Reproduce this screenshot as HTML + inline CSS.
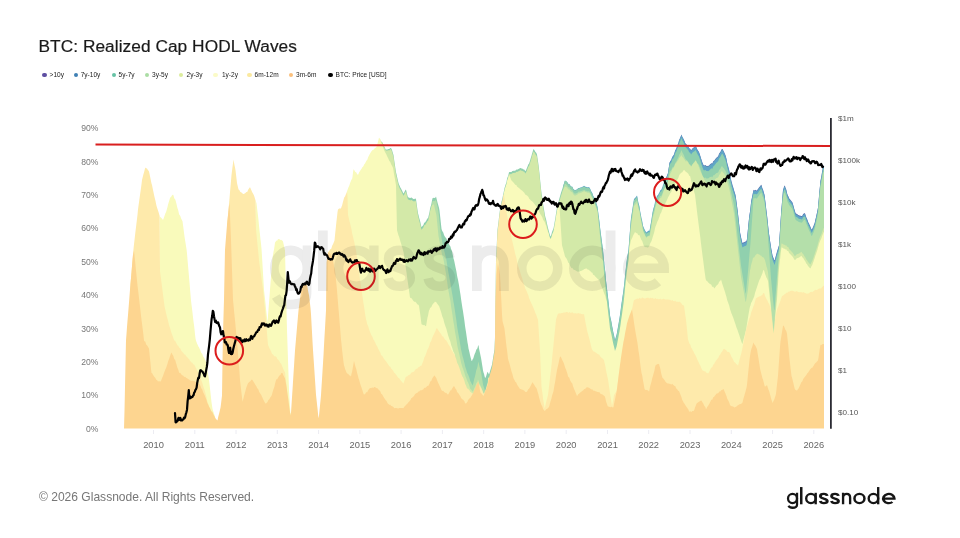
<!DOCTYPE html>
<html><head><meta charset="utf-8">
<style>
html,body{margin:0;padding:0;background:#fff;}
body{width:960px;height:538px;position:relative;overflow:hidden;font-family:"Liberation Sans",sans-serif;}
.t{position:absolute;white-space:nowrap;line-height:1;}
#title{left:38.5px;top:37.5px;font-size:17.3px;color:#1a1a1a;letter-spacing:0.05px;-webkit-text-stroke:0.2px #1a1a1a;}
.lg{font-size:6.55px;color:#222;top:71.8px;}
.dot{position:absolute;width:4.6px;height:4.6px;border-radius:50%;top:72.6px;margin-left:-0.3px;}
.yl{font-size:8.6px;margin-top:0.5px;color:#777;width:30px;text-align:right;left:68.5px;}
.yr{font-size:8.1px;margin-top:1.4px;color:#555;left:838px;}
.xl{font-size:9.3px;color:#666;width:40px;text-align:center;top:441.1px;}
#foot{left:39px;top:490.6px;font-size:12.05px;color:#777;letter-spacing:0px;}
#logo{left:786px;top:484.3px;font-size:20.8px;color:#1a1a1a;letter-spacing:0px;-webkit-text-stroke:0.3px #1a1a1a;transform:scaleX(1.16);transform-origin:0 0;}
#wm{left:264px;top:215px;font-size:86px;color:#222;opacity:0.13;letter-spacing:2.2px;-webkit-text-stroke:1px #222;}
svg{position:absolute;left:0;top:0;filter:blur(0.45px);}
.t{filter:blur(0.25px);}
</style></head><body>
<div id="title" class="t">BTC: Realized Cap HODL Waves</div>
<div class="dot" style="left:42.6px;background:#5e4fa2"></div><div class="t lg" style="left:49.6px">&gt;10y</div>
<div class="dot" style="left:74.0px;background:#3f80b4"></div><div class="t lg" style="left:80.7px">7y-10y</div>
<div class="dot" style="left:112.0px;background:#66c2a5"></div><div class="t lg" style="left:118.6px">5y-7y</div>
<div class="dot" style="left:145.2px;background:#abdda4"></div><div class="t lg" style="left:152.0px">3y-5y</div>
<div class="dot" style="left:179.0px;background:#dcec9c"></div><div class="t lg" style="left:186.5px">2y-3y</div>
<div class="dot" style="left:213.3px;background:#fbfbc8"></div><div class="t lg" style="left:221.9px">1y-2y</div>
<div class="dot" style="left:247.6px;background:#fbe9a0"></div><div class="t lg" style="left:254.6px">6m-12m</div>
<div class="dot" style="left:288.8px;background:#fbc07c"></div><div class="t lg" style="left:296.0px">3m-6m</div>
<div class="dot" style="left:328.6px;background:#000"></div><div class="t lg" style="left:335.6px">BTC: Price [USD]</div>

<div class="t yl" style="top:424.1px">0%</div>
<div class="t yl" style="top:390.7px">10%</div>
<div class="t yl" style="top:357.3px">20%</div>
<div class="t yl" style="top:324.0px">30%</div>
<div class="t yl" style="top:290.6px">40%</div>
<div class="t yl" style="top:257.2px">50%</div>
<div class="t yl" style="top:223.8px">60%</div>
<div class="t yl" style="top:190.4px">70%</div>
<div class="t yl" style="top:157.1px">80%</div>
<div class="t yl" style="top:123.7px">90%</div>
<div class="t yr" style="top:114.1px">$1m</div>
<div class="t yr" style="top:156.0px">$100k</div>
<div class="t yr" style="top:198.0px">$10k</div>
<div class="t yr" style="top:239.9px">$1k</div>
<div class="t yr" style="top:281.8px">$100</div>
<div class="t yr" style="top:323.8px">$10</div>
<div class="t yr" style="top:365.7px">$1</div>
<div class="t yr" style="top:407.6px">$0.10</div>
<div class="t xl" style="left:133.5px">2010</div>
<div class="t xl" style="left:174.8px">2011</div>
<div class="t xl" style="left:216.0px">2012</div>
<div class="t xl" style="left:257.3px">2013</div>
<div class="t xl" style="left:298.6px">2014</div>
<div class="t xl" style="left:339.9px">2015</div>
<div class="t xl" style="left:381.1px">2016</div>
<div class="t xl" style="left:422.4px">2017</div>
<div class="t xl" style="left:463.7px">2018</div>
<div class="t xl" style="left:504.9px">2019</div>
<div class="t xl" style="left:546.2px">2020</div>
<div class="t xl" style="left:587.5px">2021</div>
<div class="t xl" style="left:628.7px">2022</div>
<div class="t xl" style="left:670.0px">2023</div>
<div class="t xl" style="left:711.3px">2024</div>
<div class="t xl" style="left:752.6px">2025</div>
<div class="t xl" style="left:793.8px">2026</div>

<svg width="960" height="538" viewBox="0 0 960 538">
<path d="M124.0,427.4L124.0,427.4L124.5,427.4L125.0,427.4L125.5,427.4L126.0,427.4L126.5,427.4L127.0,427.4L127.5,427.4L128.0,427.4L128.5,427.4L129.0,427.4L129.5,427.4L130.0,427.4L130.5,427.4L131.0,427.4L131.5,427.4L132.0,427.4L132.5,427.4L133.0,427.4L133.5,427.4L134.0,427.4L134.5,427.4L135.0,427.4L135.5,427.4L136.0,427.4L136.5,427.4L137.0,427.4L137.5,427.4L138.0,427.4L138.5,427.4L139.0,427.4L139.5,427.4L140.0,427.4L140.5,427.4L141.0,427.4L141.5,427.4L142.0,427.4L142.5,427.4L143.0,427.4L143.5,427.4L144.0,427.4L144.5,427.4L145.0,427.4L145.5,427.4L146.0,427.4L146.5,427.4L147.0,427.4L147.5,427.4L148.0,427.4L148.5,427.4L149.0,427.4L149.5,427.4L150.0,427.4L150.5,427.4L151.0,427.4L151.5,427.4L152.0,427.4L152.5,427.4L153.0,427.4L153.5,427.4L154.0,427.4L154.5,427.4L155.0,427.4L155.5,427.4L156.0,427.4L156.5,427.4L157.0,427.4L157.5,427.4L158.0,427.4L158.5,427.4L159.0,427.4L159.5,427.4L160.0,427.4L160.5,427.4L161.0,427.4L161.5,427.4L162.0,427.4L162.5,427.4L163.0,427.4L163.5,427.4L164.0,427.4L164.5,427.4L165.0,427.4L165.5,427.4L166.0,427.4L166.5,427.4L167.0,427.4L167.5,427.4L168.0,427.4L168.5,427.4L169.0,427.4L169.5,427.4L170.0,427.4L170.5,427.4L171.0,427.4L171.5,427.4L172.0,427.4L172.5,427.4L173.0,427.4L173.5,427.4L174.0,427.4L174.5,427.4L175.0,427.4L175.5,427.4L176.0,427.4L176.5,427.4L177.0,427.4L177.5,427.4L178.0,427.4L178.5,427.4L179.0,427.4L179.5,427.4L180.0,427.4L180.5,427.4L181.0,427.4L181.5,427.4L182.0,427.4L182.5,427.4L183.0,427.4L183.5,427.4L184.0,427.4L184.5,427.4L185.0,427.4L185.5,427.4L186.0,427.4L186.5,427.4L187.0,427.4L187.5,427.4L188.0,427.4L188.5,427.4L189.0,427.4L189.5,427.4L190.0,427.4L190.5,427.4L191.0,427.4L191.5,427.4L192.0,427.4L192.5,427.4L193.0,427.4L193.5,427.4L194.0,427.4L194.5,427.4L195.0,427.4L195.5,427.4L196.0,427.4L196.5,427.4L197.0,427.4L197.5,427.4L198.0,427.4L198.5,427.4L199.0,427.4L199.5,427.4L200.0,427.4L200.5,427.4L201.0,427.4L201.5,427.4L202.0,427.4L202.5,427.4L203.0,427.4L203.5,427.4L204.0,427.4L204.5,427.4L205.0,427.4L205.5,427.4L206.0,427.4L206.5,427.4L207.0,427.4L207.5,427.4L208.0,427.4L208.5,427.4L209.0,427.4L209.5,427.4L210.0,427.4L210.5,427.4L211.0,427.4L211.5,427.4L212.0,427.4L212.5,427.4L213.0,427.4L213.5,427.4L214.0,427.4L214.5,427.4L215.0,427.4L215.5,427.4L216.0,427.4L216.5,427.4L217.0,427.4L217.5,427.4L218.0,427.4L218.5,427.4L219.0,427.4L219.5,427.4L220.0,427.4L220.5,427.4L221.0,427.4L221.5,427.4L222.0,427.4L222.5,427.4L223.0,427.4L223.5,427.4L224.0,427.4L224.5,427.4L225.0,427.4L225.5,427.4L226.0,427.4L226.5,427.4L227.0,427.4L227.5,427.4L228.0,427.4L228.5,427.4L229.0,427.4L229.5,427.4L230.0,427.4L230.5,427.4L231.0,427.4L231.5,427.4L232.0,427.4L232.5,427.4L233.0,427.4L233.5,427.4L234.0,427.4L234.5,427.4L235.0,427.4L235.5,427.4L236.0,427.4L236.5,427.4L237.0,427.4L237.5,427.4L238.0,427.4L238.5,427.4L239.0,427.4L239.5,427.4L240.0,427.4L240.5,427.4L241.0,427.4L241.5,427.4L242.0,427.4L242.5,427.4L243.0,427.4L243.5,427.4L244.0,427.4L244.5,427.4L245.0,427.4L245.5,427.4L246.0,427.4L246.5,427.4L247.0,427.4L247.5,427.4L248.0,427.4L248.5,427.4L249.0,427.4L249.5,427.4L250.0,427.4L250.5,427.4L251.0,427.4L251.5,427.4L252.0,427.4L252.5,427.4L253.0,427.4L253.5,427.4L254.0,427.4L254.5,427.4L255.0,427.4L255.5,427.4L256.0,427.4L256.5,427.4L257.0,427.4L257.5,427.4L258.0,427.4L258.5,427.4L259.0,427.4L259.5,427.4L260.0,427.4L260.5,427.4L261.0,427.4L261.5,427.4L262.0,427.4L262.5,427.4L263.0,427.4L263.5,427.4L264.0,427.4L264.5,427.4L265.0,427.4L265.5,427.4L266.0,427.4L266.5,427.4L267.0,427.4L267.5,427.4L268.0,427.4L268.5,427.4L269.0,427.4L269.5,427.4L270.0,427.4L270.5,427.4L271.0,427.4L271.5,427.4L272.0,427.4L272.5,427.4L273.0,427.4L273.5,427.4L274.0,427.4L274.5,427.4L275.0,427.4L275.5,427.4L276.0,427.4L276.5,427.4L277.0,427.4L277.5,427.4L278.0,427.4L278.5,427.4L279.0,427.4L279.5,427.4L280.0,427.4L280.5,427.4L281.0,427.4L281.5,427.4L282.0,427.4L282.5,427.4L283.0,427.4L283.5,427.4L284.0,427.4L284.5,427.4L285.0,427.4L285.5,427.4L286.0,427.4L286.5,427.4L287.0,427.4L287.5,427.4L288.0,427.4L288.5,427.4L289.0,427.4L289.5,427.4L290.0,427.4L290.5,427.4L291.0,427.4L291.5,427.4L292.0,427.4L292.5,427.4L293.0,427.4L293.5,427.4L294.0,427.4L294.5,427.4L295.0,427.4L295.5,427.4L296.0,427.4L296.5,427.4L297.0,427.4L297.5,427.4L298.0,427.4L298.5,427.4L299.0,427.4L299.5,427.4L300.0,427.4L300.5,427.4L301.0,427.4L301.5,427.4L302.0,427.4L302.5,427.4L303.0,427.4L303.5,427.4L304.0,427.4L304.5,427.4L305.0,427.4L305.5,427.4L306.0,427.4L306.5,427.4L307.0,427.4L307.5,427.4L308.0,427.4L308.5,427.4L309.0,427.4L309.5,427.4L310.0,427.4L310.5,427.4L311.0,427.4L311.5,427.4L312.0,427.4L312.5,427.4L313.0,427.4L313.5,427.4L314.0,427.4L314.5,427.4L315.0,427.4L315.5,427.4L316.0,427.4L316.5,427.4L317.0,427.4L317.5,427.4L318.0,427.4L318.5,427.4L319.0,427.4L319.5,427.4L320.0,427.4L320.5,427.4L321.0,427.4L321.5,427.4L322.0,427.4L322.5,427.4L323.0,427.4L323.5,427.4L324.0,427.4L324.5,427.4L325.0,427.4L325.5,427.4L326.0,427.4L326.5,427.4L327.0,427.4L327.5,427.4L328.0,427.4L328.5,427.4L329.0,427.4L329.5,427.4L330.0,427.4L330.5,427.4L331.0,427.4L331.5,427.4L332.0,427.4L332.5,427.4L333.0,427.4L333.5,427.4L334.0,427.4L334.5,427.4L335.0,427.4L335.5,427.4L336.0,427.4L336.5,427.4L337.0,427.4L337.5,427.4L338.0,427.4L338.5,427.4L339.0,427.4L339.5,427.4L340.0,427.4L340.5,427.4L341.0,427.4L341.5,427.4L342.0,427.4L342.5,427.4L343.0,427.4L343.5,427.4L344.0,427.4L344.5,427.4L345.0,427.4L345.5,427.4L346.0,427.4L346.5,427.4L347.0,427.4L347.5,427.4L348.0,427.4L348.5,427.4L349.0,427.4L349.5,427.4L350.0,427.4L350.5,427.4L351.0,427.4L351.5,427.4L352.0,427.4L352.5,427.4L353.0,427.4L353.5,427.4L354.0,427.4L354.5,427.4L355.0,427.4L355.5,427.4L356.0,427.4L356.5,427.4L357.0,427.4L357.5,427.4L358.0,427.4L358.5,427.4L359.0,427.4L359.5,427.4L360.0,427.4L360.5,427.4L361.0,427.4L361.5,427.4L362.0,427.4L362.5,427.4L363.0,427.4L363.5,427.4L364.0,427.4L364.5,427.4L365.0,427.4L365.5,427.4L366.0,427.4L366.5,427.4L367.0,427.4L367.5,427.4L368.0,427.4L368.5,427.4L369.0,427.4L369.5,427.4L370.0,427.4L370.5,427.4L371.0,427.4L371.5,427.4L372.0,427.4L372.5,427.4L373.0,427.4L373.5,427.4L374.0,427.4L374.5,427.4L375.0,427.4L375.5,427.4L376.0,427.4L376.5,427.4L377.0,427.4L377.5,427.4L378.0,427.4L378.5,427.4L379.0,427.4L379.5,427.4L380.0,427.4L380.5,427.4L381.0,427.4L381.5,427.4L382.0,427.4L382.5,427.4L383.0,427.4L383.5,427.4L384.0,427.4L384.5,427.4L385.0,427.4L385.5,427.4L386.0,427.4L386.5,427.4L387.0,427.4L387.5,427.4L388.0,427.4L388.5,427.4L389.0,427.4L389.5,427.4L390.0,427.4L390.5,427.4L391.0,427.4L391.5,427.4L392.0,427.4L392.5,427.4L393.0,427.4L393.5,427.4L394.0,427.4L394.5,427.4L395.0,427.4L395.5,427.4L396.0,427.4L396.5,427.4L397.0,427.4L397.5,427.4L398.0,427.4L398.5,427.4L399.0,427.4L399.5,427.4L400.0,427.4L400.5,427.4L401.0,427.4L401.5,427.4L402.0,427.4L402.5,427.4L403.0,427.4L403.5,427.4L404.0,427.4L404.5,427.4L405.0,427.4L405.5,427.4L406.0,427.4L406.5,427.4L407.0,427.4L407.5,427.4L408.0,427.4L408.5,427.4L409.0,427.4L409.5,427.4L410.0,427.4L410.5,427.4L411.0,427.4L411.5,427.4L412.0,427.4L412.5,427.4L413.0,427.4L413.5,427.4L414.0,427.4L414.5,427.4L415.0,427.4L415.5,427.4L416.0,427.4L416.5,427.4L417.0,427.4L417.5,427.4L418.0,427.4L418.5,427.4L419.0,427.4L419.5,427.4L420.0,427.4L420.5,427.4L421.0,427.4L421.5,427.4L422.0,427.4L422.5,427.4L423.0,427.4L423.5,427.4L424.0,427.4L424.5,427.4L425.0,427.4L425.5,427.4L426.0,427.4L426.5,427.4L427.0,427.4L427.5,427.4L428.0,427.4L428.5,427.4L429.0,427.4L429.5,427.4L430.0,427.4L430.5,427.4L431.0,427.4L431.5,427.4L432.0,427.4L432.5,427.4L433.0,427.4L433.5,427.4L434.0,427.4L434.5,427.4L435.0,427.4L435.5,427.4L436.0,427.4L436.5,427.4L437.0,427.4L437.5,427.4L438.0,427.4L438.5,427.4L439.0,427.4L439.5,427.4L440.0,427.4L440.5,427.4L441.0,427.4L441.5,427.4L442.0,427.4L442.5,427.4L443.0,427.4L443.5,427.4L444.0,427.4L444.5,427.4L445.0,427.4L445.5,427.4L446.0,427.4L446.5,427.4L447.0,427.4L447.5,427.4L448.0,427.4L448.5,427.4L449.0,427.4L449.5,427.4L450.0,427.4L450.5,427.4L451.0,427.4L451.5,427.4L452.0,427.4L452.5,427.4L453.0,427.4L453.5,427.4L454.0,427.4L454.5,427.4L455.0,427.4L455.5,427.4L456.0,427.4L456.5,427.4L457.0,427.4L457.5,427.4L458.0,427.4L458.5,427.4L459.0,427.4L459.5,427.4L460.0,427.4L460.5,427.4L461.0,427.4L461.5,427.4L462.0,427.4L462.5,427.4L463.0,427.4L463.5,427.4L464.0,427.4L464.5,427.4L465.0,427.4L465.5,427.4L466.0,427.4L466.5,427.4L467.0,427.4L467.5,427.4L468.0,427.4L468.5,427.4L469.0,427.4L469.5,427.4L470.0,427.4L470.5,427.4L471.0,427.4L471.5,427.4L472.0,427.4L472.5,427.4L473.0,427.4L473.5,427.4L474.0,427.4L474.5,427.4L475.0,427.4L475.5,427.4L476.0,427.4L476.5,427.4L477.0,427.4L477.5,427.4L478.0,427.4L478.5,427.4L479.0,427.4L479.5,427.4L480.0,427.4L480.5,427.4L481.0,427.4L481.5,427.4L482.0,427.4L482.5,427.4L483.0,427.4L483.5,427.4L484.0,427.4L484.5,427.4L485.0,427.4L485.5,427.4L486.0,427.4L486.5,427.4L487.0,427.4L487.5,427.4L488.0,427.4L488.5,427.4L489.0,427.4L489.5,427.4L490.0,427.4L490.5,427.4L491.0,427.4L491.5,427.4L492.0,427.4L492.5,427.4L493.0,427.4L493.5,427.4L494.0,427.4L494.5,427.4L495.0,427.4L495.5,427.4L496.0,427.4L496.5,427.4L497.0,427.4L497.5,427.4L498.0,427.4L498.5,427.4L499.0,427.4L499.5,427.4L500.0,427.4L500.5,427.4L501.0,427.4L501.5,427.4L502.0,427.4L502.5,427.4L503.0,427.4L503.5,427.4L504.0,427.4L504.5,427.4L505.0,427.4L505.5,427.4L506.0,427.4L506.5,427.4L507.0,427.4L507.5,427.4L508.0,427.4L508.5,427.4L509.0,427.4L509.5,427.4L510.0,427.4L510.5,427.4L511.0,427.4L511.5,427.4L512.0,427.4L512.5,427.4L513.0,427.4L513.5,427.4L514.0,427.4L514.5,427.4L515.0,427.4L515.5,427.4L516.0,427.4L516.5,427.4L517.0,427.4L517.5,427.4L518.0,427.4L518.5,427.4L519.0,427.4L519.5,427.4L520.0,427.4L520.5,427.4L521.0,427.4L521.5,427.4L522.0,427.4L522.5,427.4L523.0,427.4L523.5,427.4L524.0,427.4L524.5,427.4L525.0,427.4L525.5,427.4L526.0,427.4L526.5,427.4L527.0,427.4L527.5,427.4L528.0,427.4L528.5,427.4L529.0,427.4L529.5,427.4L530.0,427.4L530.5,427.4L531.0,427.4L531.5,427.4L532.0,427.4L532.5,427.4L533.0,427.4L533.5,427.4L534.0,427.4L534.5,427.4L535.0,427.4L535.5,427.4L536.0,427.4L536.5,427.4L537.0,427.4L537.5,427.4L538.0,427.4L538.5,427.4L539.0,427.4L539.5,427.4L540.0,427.4L540.5,427.4L541.0,427.4L541.5,427.4L542.0,427.4L542.5,427.4L543.0,427.4L543.5,427.4L544.0,427.4L544.5,427.4L545.0,427.4L545.5,427.4L546.0,427.4L546.5,427.4L547.0,427.4L547.5,427.4L548.0,427.4L548.5,427.4L549.0,427.4L549.5,427.4L550.0,427.4L550.5,427.4L551.0,427.4L551.5,427.4L552.0,427.4L552.5,427.4L553.0,427.4L553.5,427.4L554.0,427.4L554.5,427.4L555.0,427.4L555.5,427.4L556.0,427.4L556.5,427.4L557.0,427.4L557.5,427.4L558.0,427.4L558.5,427.4L559.0,427.4L559.5,427.4L560.0,427.4L560.5,427.4L561.0,427.4L561.5,427.4L562.0,427.4L562.5,427.4L563.0,427.4L563.5,427.4L564.0,427.4L564.5,427.4L565.0,427.4L565.5,427.4L566.0,427.4L566.5,427.4L567.0,427.4L567.5,427.4L568.0,427.4L568.5,427.4L569.0,427.4L569.5,427.4L570.0,427.4L570.5,427.4L571.0,427.4L571.5,427.4L572.0,427.4L572.5,427.4L573.0,427.4L573.5,427.4L574.0,427.4L574.5,427.4L575.0,427.4L575.5,427.4L576.0,427.4L576.5,427.4L577.0,427.4L577.5,427.4L578.0,427.4L578.5,427.4L579.0,427.4L579.5,427.4L580.0,427.4L580.5,427.4L581.0,427.4L581.5,427.4L582.0,427.4L582.5,427.4L583.0,427.4L583.5,427.4L584.0,427.4L584.5,427.4L585.0,427.4L585.5,427.4L586.0,427.4L586.5,427.4L587.0,427.4L587.5,427.4L588.0,427.4L588.5,427.4L589.0,427.4L589.5,427.4L590.0,427.4L590.5,427.4L591.0,427.4L591.5,427.4L592.0,427.4L592.5,427.4L593.0,427.4L593.5,427.4L594.0,427.4L594.5,427.4L595.0,427.4L595.5,427.4L596.0,427.4L596.5,427.4L597.0,427.4L597.5,427.4L598.0,427.4L598.5,427.4L599.0,427.4L599.5,427.4L600.0,427.4L600.5,427.4L601.0,427.4L601.5,427.4L602.0,427.4L602.5,427.4L603.0,427.4L603.5,427.4L604.0,427.4L604.5,427.4L605.0,427.4L605.5,427.4L606.0,427.4L606.5,427.4L607.0,427.4L607.5,427.4L608.0,427.4L608.5,427.4L609.0,427.4L609.5,427.4L610.0,427.4L610.5,427.4L611.0,427.4L611.5,427.4L612.0,427.4L612.5,427.4L613.0,427.4L613.5,427.4L614.0,427.4L614.5,427.4L615.0,427.4L615.5,427.4L616.0,427.4L616.5,427.4L617.0,427.4L617.5,427.4L618.0,427.4L618.5,427.4L619.0,427.4L619.5,427.4L620.0,427.4L620.5,427.4L621.0,427.4L621.5,427.4L622.0,427.4L622.5,427.4L623.0,427.4L623.5,427.4L624.0,427.4L624.5,427.4L625.0,427.4L625.5,427.4L626.0,427.4L626.5,427.4L627.0,427.4L627.5,427.4L628.0,427.4L628.5,427.4L629.0,427.4L629.5,427.4L630.0,427.4L630.5,427.4L631.0,427.4L631.5,427.4L632.0,427.4L632.5,427.4L633.0,427.4L633.5,427.4L634.0,427.4L634.5,427.4L635.0,427.4L635.5,427.4L636.0,427.4L636.5,427.4L637.0,427.4L637.5,427.4L638.0,427.4L638.5,427.4L639.0,427.4L639.5,427.4L640.0,427.4L640.5,427.4L641.0,427.4L641.5,427.4L642.0,427.4L642.5,427.4L643.0,427.4L643.5,427.4L644.0,427.4L644.5,427.4L645.0,427.4L645.5,427.4L646.0,427.4L646.5,427.4L647.0,427.4L647.5,427.4L648.0,427.4L648.5,427.4L649.0,427.4L649.5,427.4L650.0,427.4L650.5,427.4L651.0,427.4L651.5,427.4L652.0,427.4L652.5,427.4L653.0,427.4L653.5,427.4L654.0,427.4L654.5,427.4L655.0,427.4L655.5,427.4L656.0,427.4L656.5,427.4L657.0,427.4L657.5,427.4L658.0,427.4L658.5,427.4L659.0,427.4L659.5,427.4L660.0,427.4L660.5,427.4L661.0,427.4L661.5,427.4L662.0,427.4L662.5,427.4L663.0,427.4L663.5,427.4L664.0,427.4L664.5,181.2L665.0,180.5L665.5,179.3L666.0,178.1L666.5,176.9L667.0,175.6L667.5,174.4L668.0,173.1L668.5,169.6L669.0,166.3L669.5,162.8L670.0,161.8L670.5,160.8L671.0,160.4L671.5,159.4L672.0,157.5L672.5,156.5L673.0,156.3L673.5,155.3L674.0,154.4L674.5,153.1L675.0,151.0L675.5,149.7L676.0,149.3L676.5,148.0L677.0,146.4L677.5,145.1L678.0,143.9L678.5,142.6L679.0,140.6L679.5,139.3L680.0,138.2L680.5,137.0L681.0,135.8L681.5,134.6L682.0,136.0L682.5,137.2L683.0,137.9L683.5,139.0L684.0,140.0L684.5,141.1L685.0,142.4L685.5,143.4L686.0,143.9L686.5,144.4L687.0,144.8L687.5,145.4L688.0,146.0L688.5,146.6L689.0,148.0L689.5,148.6L690.0,148.6L690.5,149.2L691.0,150.5L691.5,150.0L692.0,148.9L692.5,148.4L693.0,148.0L693.5,147.6L694.0,147.4L694.5,147.0L695.0,146.2L695.5,145.7L696.0,146.5L696.5,147.4L697.0,148.8L697.5,149.7L698.0,150.4L698.5,151.3L699.0,152.0L699.5,153.6L700.0,154.9L700.5,156.4L701.0,158.2L701.5,159.7L702.0,161.3L702.5,162.8L703.0,163.8L703.5,165.1L704.0,165.4L704.5,165.5L705.0,164.9L705.5,165.0L706.0,165.8L706.5,166.0L707.0,165.8L707.5,165.9L708.0,166.1L708.5,165.8L709.0,165.4L709.5,165.0L710.0,164.3L710.5,164.0L711.0,163.4L711.5,163.0L712.0,163.7L712.5,163.2L713.0,161.7L713.5,161.1L714.0,160.8L714.5,160.2L715.0,159.5L715.5,158.8L716.0,158.2L716.5,157.5L717.0,157.4L717.5,156.8L718.0,156.4L718.5,155.5L719.0,153.8L719.5,153.0L720.0,152.5L720.5,151.7L721.0,150.4L721.5,149.6L722.0,149.0L722.5,148.9L723.0,149.8L723.5,151.0L724.0,151.8L724.5,153.0L725.0,154.1L725.5,155.2L726.0,156.9L726.5,159.0L727.0,161.8L727.5,163.9L728.0,165.5L728.5,167.5L729.0,169.3L729.5,171.6L730.0,174.6L730.5,176.8L731.0,179.2L731.5,181.5L732.0,183.1L732.5,185.3L733.0,186.6L733.5,188.3L734.0,190.0L734.5,191.7L735.0,193.2L735.5,194.9L736.0,198.2L736.5,202.1L737.0,205.7L737.5,209.6L738.0,213.7L738.5,218.2L739.0,222.7L739.5,227.2L740.0,232.1L740.5,234.4L741.0,237.0L741.5,239.3L742.0,241.4L742.5,243.2L743.0,242.6L743.5,242.4L744.0,242.2L744.5,242.0L745.0,241.8L745.5,241.6L746.0,241.2L746.5,241.0L747.0,238.8L747.5,233.7L748.0,228.3L748.5,223.2L749.0,218.4L749.5,214.5L750.0,211.4L750.5,207.5L751.0,202.7L751.5,199.4L752.0,197.2L752.5,194.7L753.0,192.3L753.5,189.7L754.0,190.2L754.5,190.4L755.0,189.8L755.5,190.0L756.0,190.2L756.5,190.4L757.0,190.4L757.5,189.6L758.0,189.0L758.5,188.2L759.0,187.5L759.5,186.7L760.0,186.5L760.5,185.7L761.0,184.8L761.5,185.1L762.0,186.9L762.5,188.6L763.0,189.5L763.5,191.2L764.0,193.0L764.5,194.8L765.0,198.7L765.5,202.8L766.0,207.1L766.5,211.2L767.0,214.9L767.5,219.7L768.0,224.6L768.5,229.3L769.0,233.5L769.5,236.7L770.0,240.4L770.5,243.6L771.0,247.1L771.5,249.9L772.0,252.6L772.5,255.4L773.0,256.7L773.5,257.9L774.0,259.3L774.5,260.6L775.0,259.2L775.5,257.3L776.0,255.3L776.5,253.4L777.0,251.6L777.5,249.9L778.0,248.5L778.5,246.8L779.0,245.2L779.5,237.5L780.0,230.0L780.5,222.2L781.0,214.2L781.5,208.1L782.0,202.0L782.5,195.9L783.0,189.9L783.5,188.5L784.0,186.8L784.5,185.5L785.0,186.1L785.5,187.7L786.0,188.8L786.5,190.5L787.0,193.0L787.5,194.6L788.0,195.7L788.5,196.5L789.0,198.0L789.5,198.8L790.0,199.3L790.5,200.0L791.0,200.5L791.5,201.2L792.0,201.8L792.5,202.6L793.0,204.3L793.5,206.0L794.0,208.0L794.5,209.6L795.0,211.3L795.5,212.9L796.0,213.6L796.5,213.8L797.0,214.0L797.5,214.2L798.0,214.9L798.5,215.1L799.0,215.4L799.5,215.6L800.0,215.6L800.5,215.8L801.0,215.9L801.5,216.1L802.0,216.0L802.5,215.5L803.0,214.3L803.5,213.8L804.0,213.6L804.5,213.1L805.0,213.5L805.5,214.7L806.0,216.5L806.5,217.8L807.0,218.7L807.5,219.9L808.0,221.4L808.5,222.7L809.0,223.5L809.5,224.7L810.0,225.7L810.5,227.0L811.0,228.3L811.5,229.5L812.0,229.3L812.5,228.2L813.0,226.9L813.5,225.9L814.0,224.4L814.5,223.4L815.0,221.5L815.5,219.1L816.0,217.2L816.5,214.8L817.0,212.5L817.5,210.1L818.0,207.4L818.5,201.8L819.0,196.1L819.5,190.5L820.0,185.4L820.5,180.4L821.0,178.1L821.5,175.6L822.0,172.3L822.5,169.8L823.0,167.0L823.5,165.5L824.0,165.8L824.0,427.4Z" fill="#5b6fb0"/>
<path d="M124.0,427.4L124.0,427.4L124.5,427.4L125.0,427.4L125.5,427.4L126.0,427.4L126.5,427.4L127.0,427.4L127.5,427.4L128.0,427.4L128.5,427.4L129.0,427.4L129.5,427.4L130.0,427.4L130.5,427.4L131.0,427.4L131.5,427.4L132.0,427.4L132.5,427.4L133.0,427.4L133.5,427.4L134.0,427.4L134.5,427.4L135.0,427.4L135.5,427.4L136.0,427.4L136.5,427.4L137.0,427.4L137.5,427.4L138.0,427.4L138.5,427.4L139.0,427.4L139.5,427.4L140.0,427.4L140.5,427.4L141.0,427.4L141.5,427.4L142.0,427.4L142.5,427.4L143.0,427.4L143.5,427.4L144.0,427.4L144.5,427.4L145.0,427.4L145.5,427.4L146.0,427.4L146.5,427.4L147.0,427.4L147.5,427.4L148.0,427.4L148.5,427.4L149.0,427.4L149.5,427.4L150.0,427.4L150.5,427.4L151.0,427.4L151.5,427.4L152.0,427.4L152.5,427.4L153.0,427.4L153.5,427.4L154.0,427.4L154.5,427.4L155.0,427.4L155.5,427.4L156.0,427.4L156.5,427.4L157.0,427.4L157.5,427.4L158.0,427.4L158.5,427.4L159.0,427.4L159.5,427.4L160.0,427.4L160.5,427.4L161.0,427.4L161.5,427.4L162.0,427.4L162.5,427.4L163.0,427.4L163.5,427.4L164.0,427.4L164.5,427.4L165.0,427.4L165.5,427.4L166.0,427.4L166.5,427.4L167.0,427.4L167.5,427.4L168.0,427.4L168.5,427.4L169.0,427.4L169.5,427.4L170.0,427.4L170.5,427.4L171.0,427.4L171.5,427.4L172.0,427.4L172.5,427.4L173.0,427.4L173.5,427.4L174.0,427.4L174.5,427.4L175.0,427.4L175.5,427.4L176.0,427.4L176.5,427.4L177.0,427.4L177.5,427.4L178.0,427.4L178.5,427.4L179.0,427.4L179.5,427.4L180.0,427.4L180.5,427.4L181.0,427.4L181.5,427.4L182.0,427.4L182.5,427.4L183.0,427.4L183.5,427.4L184.0,427.4L184.5,427.4L185.0,427.4L185.5,427.4L186.0,427.4L186.5,427.4L187.0,427.4L187.5,427.4L188.0,427.4L188.5,427.4L189.0,427.4L189.5,427.4L190.0,427.4L190.5,427.4L191.0,427.4L191.5,427.4L192.0,427.4L192.5,427.4L193.0,427.4L193.5,427.4L194.0,427.4L194.5,427.4L195.0,427.4L195.5,427.4L196.0,427.4L196.5,427.4L197.0,427.4L197.5,427.4L198.0,427.4L198.5,427.4L199.0,427.4L199.5,427.4L200.0,427.4L200.5,427.4L201.0,427.4L201.5,427.4L202.0,427.4L202.5,427.4L203.0,427.4L203.5,427.4L204.0,427.4L204.5,427.4L205.0,427.4L205.5,427.4L206.0,427.4L206.5,427.4L207.0,427.4L207.5,427.4L208.0,427.4L208.5,427.4L209.0,427.4L209.5,427.4L210.0,427.4L210.5,427.4L211.0,427.4L211.5,427.4L212.0,427.4L212.5,427.4L213.0,427.4L213.5,427.4L214.0,427.4L214.5,427.4L215.0,427.4L215.5,427.4L216.0,427.4L216.5,427.4L217.0,427.4L217.5,427.4L218.0,427.4L218.5,427.4L219.0,427.4L219.5,427.4L220.0,427.4L220.5,427.4L221.0,427.4L221.5,427.4L222.0,427.4L222.5,427.4L223.0,427.4L223.5,427.4L224.0,427.4L224.5,427.4L225.0,427.4L225.5,427.4L226.0,427.4L226.5,427.4L227.0,427.4L227.5,427.4L228.0,427.4L228.5,427.4L229.0,427.4L229.5,427.4L230.0,427.4L230.5,427.4L231.0,427.4L231.5,427.4L232.0,427.4L232.5,427.4L233.0,427.4L233.5,427.4L234.0,427.4L234.5,427.4L235.0,427.4L235.5,427.4L236.0,427.4L236.5,427.4L237.0,427.4L237.5,427.4L238.0,427.4L238.5,427.4L239.0,427.4L239.5,427.4L240.0,427.4L240.5,427.4L241.0,427.4L241.5,427.4L242.0,427.4L242.5,427.4L243.0,427.4L243.5,427.4L244.0,427.4L244.5,427.4L245.0,427.4L245.5,427.4L246.0,427.4L246.5,427.4L247.0,427.4L247.5,427.4L248.0,427.4L248.5,427.4L249.0,427.4L249.5,427.4L250.0,427.4L250.5,427.4L251.0,427.4L251.5,427.4L252.0,427.4L252.5,427.4L253.0,427.4L253.5,427.4L254.0,427.4L254.5,427.4L255.0,427.4L255.5,427.4L256.0,427.4L256.5,427.4L257.0,427.4L257.5,427.4L258.0,427.4L258.5,427.4L259.0,427.4L259.5,427.4L260.0,427.4L260.5,427.4L261.0,427.4L261.5,427.4L262.0,427.4L262.5,427.4L263.0,427.4L263.5,427.4L264.0,427.4L264.5,427.4L265.0,427.4L265.5,427.4L266.0,427.4L266.5,427.4L267.0,427.4L267.5,427.4L268.0,427.4L268.5,427.4L269.0,427.4L269.5,427.4L270.0,427.4L270.5,427.4L271.0,427.4L271.5,427.4L272.0,427.4L272.5,427.4L273.0,427.4L273.5,427.4L274.0,427.4L274.5,427.4L275.0,427.4L275.5,427.4L276.0,427.4L276.5,427.4L277.0,427.4L277.5,427.4L278.0,427.4L278.5,427.4L279.0,427.4L279.5,427.4L280.0,427.4L280.5,427.4L281.0,427.4L281.5,427.4L282.0,427.4L282.5,427.4L283.0,427.4L283.5,427.4L284.0,427.4L284.5,427.4L285.0,427.4L285.5,427.4L286.0,427.4L286.5,427.4L287.0,427.4L287.5,427.4L288.0,427.4L288.5,427.4L289.0,427.4L289.5,427.4L290.0,427.4L290.5,427.4L291.0,427.4L291.5,427.4L292.0,427.4L292.5,427.4L293.0,427.4L293.5,427.4L294.0,427.4L294.5,427.4L295.0,427.4L295.5,427.4L296.0,427.4L296.5,427.4L297.0,427.4L297.5,427.4L298.0,427.4L298.5,427.4L299.0,427.4L299.5,427.4L300.0,427.4L300.5,427.4L301.0,427.4L301.5,427.4L302.0,427.4L302.5,427.4L303.0,427.4L303.5,427.4L304.0,427.4L304.5,427.4L305.0,427.4L305.5,427.4L306.0,427.4L306.5,427.4L307.0,427.4L307.5,427.4L308.0,427.4L308.5,427.4L309.0,427.4L309.5,427.4L310.0,427.4L310.5,427.4L311.0,427.4L311.5,427.4L312.0,427.4L312.5,427.4L313.0,427.4L313.5,427.4L314.0,427.4L314.5,427.4L315.0,427.4L315.5,427.4L316.0,427.4L316.5,427.4L317.0,427.4L317.5,427.4L318.0,427.4L318.5,427.4L319.0,427.4L319.5,427.4L320.0,427.4L320.5,427.4L321.0,427.4L321.5,427.4L322.0,427.4L322.5,427.4L323.0,427.4L323.5,427.4L324.0,427.4L324.5,427.4L325.0,427.4L325.5,427.4L326.0,427.4L326.5,427.4L327.0,427.4L327.5,427.4L328.0,427.4L328.5,427.4L329.0,427.4L329.5,427.4L330.0,427.4L330.5,427.4L331.0,427.4L331.5,427.4L332.0,427.4L332.5,427.4L333.0,427.4L333.5,427.4L334.0,427.4L334.5,427.4L335.0,427.4L335.5,427.4L336.0,427.4L336.5,427.4L337.0,427.4L337.5,427.4L338.0,427.4L338.5,427.4L339.0,427.4L339.5,427.4L340.0,427.4L340.5,427.4L341.0,427.4L341.5,427.4L342.0,427.4L342.5,427.4L343.0,427.4L343.5,427.4L344.0,427.4L344.5,427.4L345.0,427.4L345.5,427.4L346.0,427.4L346.5,427.4L347.0,427.4L347.5,427.4L348.0,427.4L348.5,427.4L349.0,427.4L349.5,427.4L350.0,427.4L350.5,427.4L351.0,427.4L351.5,427.4L352.0,427.4L352.5,427.4L353.0,427.4L353.5,427.4L354.0,427.4L354.5,427.4L355.0,427.4L355.5,427.4L356.0,427.4L356.5,427.4L357.0,427.4L357.5,427.4L358.0,427.4L358.5,427.4L359.0,427.4L359.5,427.4L360.0,427.4L360.5,427.4L361.0,427.4L361.5,427.4L362.0,427.4L362.5,427.4L363.0,427.4L363.5,427.4L364.0,427.4L364.5,427.4L365.0,427.4L365.5,427.4L366.0,427.4L366.5,427.4L367.0,427.4L367.5,427.4L368.0,427.4L368.5,427.4L369.0,427.4L369.5,427.4L370.0,427.4L370.5,427.4L371.0,427.4L371.5,427.4L372.0,427.4L372.5,427.4L373.0,427.4L373.5,427.4L374.0,427.4L374.5,427.4L375.0,427.4L375.5,427.4L376.0,427.4L376.5,427.4L377.0,427.4L377.5,427.4L378.0,427.4L378.5,427.4L379.0,427.4L379.5,427.4L380.0,427.4L380.5,427.4L381.0,427.4L381.5,427.4L382.0,427.4L382.5,427.4L383.0,427.4L383.5,427.4L384.0,427.4L384.5,427.4L385.0,427.4L385.5,427.4L386.0,427.4L386.5,427.4L387.0,427.4L387.5,427.4L388.0,427.4L388.5,427.4L389.0,427.4L389.5,427.4L390.0,427.4L390.5,427.4L391.0,427.4L391.5,427.4L392.0,427.4L392.5,427.4L393.0,427.4L393.5,427.4L394.0,427.4L394.5,427.4L395.0,427.4L395.5,427.4L396.0,427.4L396.5,427.4L397.0,427.4L397.5,427.4L398.0,427.4L398.5,427.4L399.0,427.4L399.5,427.4L400.0,427.4L400.5,427.4L401.0,427.4L401.5,427.4L402.0,427.4L402.5,427.4L403.0,427.4L403.5,427.4L404.0,427.4L404.5,427.4L405.0,427.4L405.5,427.4L406.0,427.4L406.5,427.4L407.0,427.4L407.5,427.4L408.0,427.4L408.5,427.4L409.0,427.4L409.5,427.4L410.0,427.4L410.5,427.4L411.0,427.4L411.5,427.4L412.0,427.4L412.5,427.4L413.0,427.4L413.5,427.4L414.0,427.4L414.5,427.4L415.0,427.4L415.5,427.4L416.0,427.4L416.5,427.4L417.0,427.4L417.5,427.4L418.0,427.4L418.5,427.4L419.0,427.4L419.5,427.4L420.0,427.4L420.5,427.4L421.0,427.4L421.5,427.4L422.0,427.4L422.5,427.4L423.0,427.4L423.5,427.4L424.0,427.4L424.5,427.4L425.0,427.4L425.5,427.4L426.0,427.4L426.5,427.4L427.0,427.4L427.5,427.4L428.0,427.4L428.5,427.4L429.0,427.4L429.5,427.4L430.0,427.4L430.5,427.4L431.0,427.4L431.5,427.4L432.0,427.4L432.5,427.4L433.0,427.4L433.5,427.4L434.0,427.4L434.5,427.4L435.0,427.4L435.5,427.4L436.0,427.4L436.5,427.4L437.0,427.4L437.5,427.4L438.0,427.4L438.5,427.4L439.0,427.4L439.5,427.4L440.0,427.4L440.5,427.4L441.0,427.4L441.5,427.4L442.0,427.4L442.5,427.4L443.0,427.4L443.5,427.4L444.0,427.4L444.5,427.4L445.0,427.4L445.5,427.4L446.0,427.4L446.5,427.4L447.0,427.4L447.5,427.4L448.0,427.4L448.5,427.4L449.0,427.4L449.5,427.4L450.0,427.4L450.5,427.4L451.0,427.4L451.5,427.4L452.0,427.4L452.5,427.4L453.0,427.4L453.5,427.4L454.0,427.4L454.5,427.4L455.0,427.4L455.5,427.4L456.0,427.4L456.5,427.4L457.0,427.4L457.5,427.4L458.0,427.4L458.5,427.4L459.0,427.4L459.5,427.4L460.0,427.4L460.5,427.4L461.0,427.4L461.5,427.4L462.0,427.4L462.5,427.4L463.0,427.4L463.5,427.4L464.0,427.4L464.5,427.4L465.0,427.4L465.5,427.4L466.0,427.4L466.5,427.4L467.0,427.4L467.5,427.4L468.0,427.4L468.5,427.4L469.0,427.4L469.5,427.4L470.0,427.4L470.5,427.4L471.0,427.4L471.5,427.4L472.0,427.4L472.5,427.4L473.0,427.4L473.5,427.4L474.0,427.4L474.5,427.4L475.0,427.4L475.5,427.4L476.0,427.4L476.5,427.4L477.0,427.4L477.5,427.4L478.0,427.4L478.5,427.4L479.0,427.4L479.5,427.4L480.0,427.4L480.5,427.4L481.0,427.4L481.5,427.4L482.0,427.4L482.5,427.4L483.0,427.4L483.5,427.4L484.0,427.4L484.5,427.4L485.0,427.4L485.5,427.4L486.0,427.4L486.5,427.4L487.0,427.4L487.5,427.4L488.0,427.4L488.5,427.4L489.0,427.4L489.5,427.4L490.0,427.4L490.5,427.4L491.0,427.4L491.5,427.4L492.0,427.4L492.5,427.4L493.0,427.4L493.5,427.4L494.0,427.4L494.5,427.4L495.0,427.4L495.5,427.4L496.0,427.4L496.5,427.4L497.0,427.4L497.5,427.4L498.0,427.4L498.5,427.4L499.0,427.4L499.5,427.4L500.0,427.4L500.5,427.4L501.0,427.4L501.5,427.4L502.0,427.4L502.5,427.4L503.0,427.4L503.5,427.4L504.0,427.4L504.5,427.4L505.0,427.4L505.5,427.4L506.0,427.4L506.5,427.4L507.0,427.4L507.5,427.4L508.0,427.4L508.5,427.4L509.0,427.4L509.5,427.4L510.0,427.4L510.5,427.4L511.0,427.4L511.5,427.4L512.0,427.4L512.5,427.4L513.0,427.4L513.5,427.4L514.0,427.4L514.5,427.4L515.0,427.4L515.5,427.4L516.0,427.4L516.5,427.4L517.0,427.4L517.5,427.4L518.0,427.4L518.5,427.4L519.0,427.4L519.5,427.4L520.0,427.4L520.5,427.4L521.0,427.4L521.5,427.4L522.0,427.4L522.5,427.4L523.0,427.4L523.5,427.4L524.0,427.4L524.5,427.4L525.0,427.4L525.5,427.4L526.0,427.4L526.5,427.4L527.0,427.4L527.5,427.4L528.0,427.4L528.5,427.4L529.0,427.4L529.5,427.4L530.0,427.4L530.5,427.4L531.0,427.4L531.5,427.4L532.0,427.4L532.5,427.4L533.0,427.4L533.5,427.4L534.0,427.4L534.5,427.4L535.0,427.4L535.5,427.4L536.0,427.4L536.5,427.4L537.0,427.4L537.5,427.4L538.0,427.4L538.5,427.4L539.0,427.4L539.5,427.4L540.0,427.4L540.5,427.4L541.0,427.4L541.5,427.4L542.0,427.4L542.5,427.4L543.0,427.4L543.5,427.4L544.0,427.4L544.5,427.4L545.0,427.4L545.5,427.4L546.0,427.4L546.5,427.4L547.0,427.4L547.5,427.4L548.0,427.4L548.5,427.4L549.0,427.4L549.5,427.4L550.0,427.4L550.5,427.4L551.0,427.4L551.5,427.4L552.0,427.4L552.5,427.4L553.0,427.4L553.5,427.4L554.0,427.4L554.5,427.4L555.0,427.4L555.5,427.4L556.0,427.4L556.5,427.4L557.0,427.4L557.5,427.4L558.0,427.4L558.5,427.4L559.0,427.4L559.5,427.4L560.0,427.4L560.5,427.4L561.0,427.4L561.5,427.4L562.0,427.4L562.5,427.4L563.0,186.5L563.5,184.9L564.0,183.4L564.5,181.8L565.0,180.4L565.5,180.9L566.0,180.9L566.5,181.4L567.0,181.9L567.5,182.4L568.0,183.6L568.5,184.1L569.0,183.7L569.5,184.2L570.0,185.3L570.5,185.8L571.0,186.2L571.5,186.7L572.0,186.5L572.5,187.0L573.0,188.4L573.5,188.9L574.0,189.4L574.5,189.9L575.0,190.1L575.5,189.9L576.0,189.8L576.5,189.5L577.0,189.4L577.5,189.1L578.0,188.2L578.5,187.9L579.0,188.1L579.5,187.9L580.0,187.6L580.5,187.4L581.0,187.5L581.5,187.3L582.0,187.0L582.5,186.8L583.0,186.5L583.5,186.3L584.0,185.8L584.5,186.0L585.0,186.5L585.5,186.7L586.0,186.7L586.5,186.9L587.0,187.1L587.5,187.4L588.0,187.0L588.5,187.3L589.0,187.2L589.5,187.4L590.0,188.4L590.5,189.4L591.0,190.7L591.5,191.7L592.0,192.5L592.5,193.5L593.0,195.3L593.5,196.3L594.0,197.1L594.5,198.4L595.0,199.7L595.5,201.0L596.0,202.3L596.5,203.6L597.0,205.0L597.5,206.8L598.0,210.6L598.5,214.7L599.0,218.2L599.5,222.2L600.0,227.0L600.5,230.9L601.0,234.7L601.5,238.6L602.0,242.2L602.5,246.1L603.0,250.0L603.5,255.0L604.0,260.2L604.5,265.2L605.0,269.5L605.5,274.5L606.0,280.3L606.5,284.6L607.0,288.5L607.5,292.9L608.0,297.0L608.5,301.4L609.0,306.0L609.5,310.4L610.0,315.3L610.5,317.8L611.0,319.7L611.5,322.2L612.0,325.3L612.5,327.8L613.0,330.5L613.5,333.0L614.0,335.0L614.5,337.5L615.0,339.9L615.5,338.2L616.0,336.6L616.5,335.0L617.0,332.4L617.5,329.5L618.0,326.8L618.5,324.0L619.0,321.0L619.5,318.1L620.0,314.7L620.5,311.2L621.0,307.0L621.5,303.5L622.0,300.1L622.5,296.6L623.0,293.2L623.5,289.7L624.0,285.6L624.5,280.9L625.0,275.8L625.5,271.1L626.0,266.7L626.5,262.1L627.0,258.5L627.5,255.5L628.0,252.5L628.5,249.5L629.0,243.0L629.5,236.3L630.0,230.0L630.5,223.2L631.0,218.0L631.5,214.8L632.0,211.7L632.5,208.6L633.0,205.0L633.5,201.9L634.0,199.0L634.5,198.5L635.0,197.9L635.5,197.4L636.0,196.8L636.5,196.3L637.0,195.4L637.5,197.6L638.0,200.8L638.5,203.0L639.0,204.5L639.5,206.8L640.0,210.2L640.5,212.9L641.0,215.5L641.5,218.2L642.0,219.9L642.5,222.7L643.0,225.9L643.5,226.8L644.0,228.2L644.5,229.2L645.0,230.3L645.5,231.3L646.0,231.7L646.5,232.4L647.0,231.8L647.5,231.4L648.0,231.0L648.5,230.6L649.0,231.0L649.5,230.6L650.0,227.9L650.5,224.8L651.0,222.2L651.5,219.2L652.0,215.7L652.5,212.6L653.0,210.0L653.5,208.1L654.0,206.7L654.5,204.8L655.0,201.9L655.5,200.0L656.0,198.9L656.5,197.2L657.0,196.0L657.5,195.2L658.0,194.9L658.5,194.1L659.0,193.0L659.5,192.2L660.0,190.9L660.5,190.1L661.0,190.1L661.5,189.3L662.0,188.0L662.5,186.8L663.0,185.0L663.5,183.8L664.0,182.5L664.5,181.3L665.0,180.6L665.5,179.4L666.0,178.2L666.5,177.1L667.0,175.7L667.5,174.6L668.0,173.2L668.5,169.7L669.0,166.5L669.5,163.0L670.0,162.0L670.5,161.0L671.0,160.6L671.5,159.6L672.0,157.7L672.5,156.7L673.0,156.5L673.5,155.5L674.0,154.6L674.5,153.3L675.0,151.2L675.5,149.9L676.0,149.5L676.5,148.2L677.0,146.7L677.5,145.3L678.0,144.2L678.5,142.9L679.0,140.9L679.5,139.6L680.0,138.5L680.5,137.3L681.0,136.2L681.5,135.0L682.0,136.4L682.5,137.5L683.0,138.3L683.5,139.4L684.0,140.4L684.5,141.5L685.0,142.8L685.5,143.9L686.0,144.3L686.5,144.9L687.0,145.2L687.5,145.8L688.0,146.5L688.5,147.1L689.0,148.5L689.5,149.1L690.0,149.1L690.5,149.7L691.0,151.0L691.5,150.6L692.0,149.4L692.5,148.9L693.0,148.5L693.5,148.1L694.0,147.9L694.5,147.5L695.0,146.7L695.5,146.3L696.0,147.1L696.5,147.9L697.0,149.4L697.5,150.3L698.0,151.0L698.5,151.9L699.0,152.6L699.5,154.1L700.0,155.5L700.5,157.0L701.0,158.8L701.5,160.3L702.0,161.9L702.5,163.4L703.0,164.5L703.5,165.7L704.0,166.0L704.5,166.1L705.0,165.5L705.5,165.6L706.0,166.5L706.5,166.6L707.0,166.4L707.5,166.6L708.0,166.8L708.5,166.5L709.0,166.0L709.5,165.7L710.0,165.0L710.5,164.7L711.0,164.1L711.5,163.8L712.0,164.4L712.5,163.9L713.0,162.4L713.5,161.8L714.0,161.6L714.5,161.0L715.0,160.2L715.5,159.6L716.0,158.9L716.5,158.3L717.0,158.2L717.5,157.5L718.0,157.1L718.5,156.3L719.0,154.6L719.5,153.8L720.0,153.3L720.5,152.5L721.0,151.2L721.5,150.4L722.0,149.8L722.5,149.7L723.0,150.6L723.5,151.8L724.0,152.6L724.5,153.8L725.0,154.9L725.5,156.0L726.0,157.7L726.5,159.8L727.0,162.6L727.5,164.7L728.0,166.3L728.5,168.3L729.0,170.1L729.5,172.4L730.0,175.4L730.5,177.6L731.0,180.0L731.5,182.3L732.0,183.9L732.5,186.1L733.0,187.4L733.5,189.1L734.0,190.8L734.5,192.5L735.0,194.0L735.5,195.7L736.0,199.0L736.5,202.9L737.0,206.5L737.5,210.4L738.0,214.5L738.5,219.0L739.0,223.5L739.5,228.0L740.0,232.9L740.5,235.2L741.0,237.8L741.5,240.1L742.0,242.2L742.5,244.0L743.0,243.4L743.5,243.2L744.0,243.0L744.5,242.8L745.0,242.6L745.5,242.4L746.0,242.0L746.5,241.8L747.0,239.6L747.5,234.5L748.0,229.1L748.5,224.0L749.0,219.2L749.5,215.3L750.0,212.2L750.5,208.3L751.0,203.5L751.5,200.2L752.0,198.0L752.5,195.5L753.0,193.1L753.5,190.5L754.0,191.0L754.5,191.2L755.0,190.6L755.5,190.8L756.0,191.0L756.5,191.2L757.0,191.2L757.5,190.4L758.0,189.8L758.5,189.0L759.0,188.3L759.5,187.5L760.0,187.3L760.5,186.5L761.0,185.6L761.5,185.9L762.0,187.7L762.5,189.4L763.0,190.3L763.5,192.0L764.0,193.8L764.5,195.6L765.0,199.5L765.5,203.6L766.0,207.9L766.5,212.0L767.0,215.7L767.5,220.5L768.0,225.4L768.5,230.1L769.0,234.3L769.5,237.5L770.0,241.2L770.5,244.4L771.0,247.9L771.5,250.7L772.0,253.4L772.5,256.2L773.0,257.5L773.5,258.7L774.0,260.1L774.5,261.4L775.0,260.0L775.5,258.1L776.0,256.1L776.5,254.2L777.0,252.4L777.5,250.7L778.0,249.3L778.5,247.6L779.0,246.0L779.5,238.3L780.0,230.8L780.5,223.0L781.0,215.0L781.5,208.9L782.0,202.8L782.5,196.7L783.0,190.7L783.5,189.3L784.0,187.6L784.5,186.3L785.0,186.9L785.5,188.5L786.0,189.6L786.5,191.3L787.0,193.8L787.5,195.4L788.0,196.5L788.5,197.3L789.0,198.8L789.5,199.6L790.0,200.1L790.5,200.8L791.0,201.3L791.5,202.0L792.0,202.6L792.5,203.4L793.0,205.1L793.5,206.8L794.0,208.8L794.5,210.4L795.0,212.1L795.5,213.7L796.0,214.4L796.5,214.6L797.0,214.8L797.5,215.0L798.0,215.7L798.5,215.9L799.0,216.2L799.5,216.4L800.0,216.4L800.5,216.6L801.0,216.7L801.5,216.9L802.0,216.8L802.5,216.3L803.0,215.1L803.5,214.6L804.0,214.4L804.5,213.9L805.0,214.3L805.5,215.5L806.0,217.3L806.5,218.6L807.0,219.5L807.5,220.7L808.0,222.2L808.5,223.5L809.0,224.3L809.5,225.5L810.0,226.5L810.5,227.8L811.0,229.1L811.5,230.3L812.0,230.1L812.5,229.0L813.0,227.7L813.5,226.7L814.0,225.2L814.5,224.2L815.0,222.3L815.5,219.9L816.0,218.0L816.5,215.6L817.0,213.3L817.5,210.9L818.0,208.2L818.5,202.6L819.0,196.9L819.5,191.3L820.0,186.2L820.5,181.2L821.0,178.9L821.5,176.4L822.0,173.1L822.5,170.6L823.0,167.8L823.5,166.3L824.0,166.6L824.0,427.4Z" fill="#5fa6c6"/>
<path d="M124.0,427.4L124.0,427.4L124.5,427.4L125.0,427.4L125.5,427.4L126.0,427.4L126.5,427.4L127.0,427.4L127.5,427.4L128.0,427.4L128.5,427.4L129.0,427.4L129.5,427.4L130.0,427.4L130.5,427.4L131.0,427.4L131.5,427.4L132.0,427.4L132.5,427.4L133.0,427.4L133.5,427.4L134.0,427.4L134.5,427.4L135.0,427.4L135.5,427.4L136.0,427.4L136.5,427.4L137.0,427.4L137.5,427.4L138.0,427.4L138.5,427.4L139.0,427.4L139.5,427.4L140.0,427.4L140.5,427.4L141.0,427.4L141.5,427.4L142.0,427.4L142.5,427.4L143.0,427.4L143.5,427.4L144.0,427.4L144.5,427.4L145.0,427.4L145.5,427.4L146.0,427.4L146.5,427.4L147.0,427.4L147.5,427.4L148.0,427.4L148.5,427.4L149.0,427.4L149.5,427.4L150.0,427.4L150.5,427.4L151.0,427.4L151.5,427.4L152.0,427.4L152.5,427.4L153.0,427.4L153.5,427.4L154.0,427.4L154.5,427.4L155.0,427.4L155.5,427.4L156.0,427.4L156.5,427.4L157.0,427.4L157.5,427.4L158.0,427.4L158.5,427.4L159.0,427.4L159.5,427.4L160.0,427.4L160.5,427.4L161.0,427.4L161.5,427.4L162.0,427.4L162.5,427.4L163.0,427.4L163.5,427.4L164.0,427.4L164.5,427.4L165.0,427.4L165.5,427.4L166.0,427.4L166.5,427.4L167.0,427.4L167.5,427.4L168.0,427.4L168.5,427.4L169.0,427.4L169.5,427.4L170.0,427.4L170.5,427.4L171.0,427.4L171.5,427.4L172.0,427.4L172.5,427.4L173.0,427.4L173.5,427.4L174.0,427.4L174.5,427.4L175.0,427.4L175.5,427.4L176.0,427.4L176.5,427.4L177.0,427.4L177.5,427.4L178.0,427.4L178.5,427.4L179.0,427.4L179.5,427.4L180.0,427.4L180.5,427.4L181.0,427.4L181.5,427.4L182.0,427.4L182.5,427.4L183.0,427.4L183.5,427.4L184.0,427.4L184.5,427.4L185.0,427.4L185.5,427.4L186.0,427.4L186.5,427.4L187.0,427.4L187.5,427.4L188.0,427.4L188.5,427.4L189.0,427.4L189.5,427.4L190.0,427.4L190.5,427.4L191.0,427.4L191.5,427.4L192.0,427.4L192.5,427.4L193.0,427.4L193.5,427.4L194.0,427.4L194.5,427.4L195.0,427.4L195.5,427.4L196.0,427.4L196.5,427.4L197.0,427.4L197.5,427.4L198.0,427.4L198.5,427.4L199.0,427.4L199.5,427.4L200.0,427.4L200.5,427.4L201.0,427.4L201.5,427.4L202.0,427.4L202.5,427.4L203.0,427.4L203.5,427.4L204.0,427.4L204.5,427.4L205.0,427.4L205.5,427.4L206.0,427.4L206.5,427.4L207.0,427.4L207.5,427.4L208.0,427.4L208.5,427.4L209.0,427.4L209.5,427.4L210.0,427.4L210.5,427.4L211.0,427.4L211.5,427.4L212.0,427.4L212.5,427.4L213.0,427.4L213.5,427.4L214.0,427.4L214.5,427.4L215.0,427.4L215.5,427.4L216.0,427.4L216.5,427.4L217.0,427.4L217.5,427.4L218.0,427.4L218.5,427.4L219.0,427.4L219.5,427.4L220.0,427.4L220.5,427.4L221.0,427.4L221.5,427.4L222.0,427.4L222.5,427.4L223.0,427.4L223.5,427.4L224.0,427.4L224.5,427.4L225.0,427.4L225.5,427.4L226.0,427.4L226.5,427.4L227.0,427.4L227.5,427.4L228.0,427.4L228.5,427.4L229.0,427.4L229.5,427.4L230.0,427.4L230.5,427.4L231.0,427.4L231.5,427.4L232.0,427.4L232.5,427.4L233.0,427.4L233.5,427.4L234.0,427.4L234.5,427.4L235.0,427.4L235.5,427.4L236.0,427.4L236.5,427.4L237.0,427.4L237.5,427.4L238.0,427.4L238.5,427.4L239.0,427.4L239.5,427.4L240.0,427.4L240.5,427.4L241.0,427.4L241.5,427.4L242.0,427.4L242.5,427.4L243.0,427.4L243.5,427.4L244.0,427.4L244.5,427.4L245.0,427.4L245.5,427.4L246.0,427.4L246.5,427.4L247.0,427.4L247.5,427.4L248.0,427.4L248.5,427.4L249.0,427.4L249.5,427.4L250.0,427.4L250.5,427.4L251.0,427.4L251.5,427.4L252.0,427.4L252.5,427.4L253.0,427.4L253.5,427.4L254.0,427.4L254.5,427.4L255.0,427.4L255.5,427.4L256.0,427.4L256.5,427.4L257.0,427.4L257.5,427.4L258.0,427.4L258.5,427.4L259.0,427.4L259.5,427.4L260.0,427.4L260.5,427.4L261.0,427.4L261.5,427.4L262.0,427.4L262.5,427.4L263.0,427.4L263.5,427.4L264.0,427.4L264.5,427.4L265.0,427.4L265.5,427.4L266.0,427.4L266.5,427.4L267.0,427.4L267.5,427.4L268.0,427.4L268.5,427.4L269.0,427.4L269.5,427.4L270.0,427.4L270.5,427.4L271.0,427.4L271.5,427.4L272.0,427.4L272.5,427.4L273.0,427.4L273.5,427.4L274.0,427.4L274.5,427.4L275.0,427.4L275.5,427.4L276.0,427.4L276.5,427.4L277.0,427.4L277.5,427.4L278.0,427.4L278.5,427.4L279.0,427.4L279.5,427.4L280.0,427.4L280.5,427.4L281.0,427.4L281.5,427.4L282.0,427.4L282.5,427.4L283.0,427.4L283.5,427.4L284.0,427.4L284.5,427.4L285.0,427.4L285.5,427.4L286.0,427.4L286.5,427.4L287.0,427.4L287.5,427.4L288.0,427.4L288.5,427.4L289.0,427.4L289.5,427.4L290.0,427.4L290.5,427.4L291.0,427.4L291.5,427.4L292.0,427.4L292.5,427.4L293.0,427.4L293.5,427.4L294.0,427.4L294.5,427.4L295.0,427.4L295.5,427.4L296.0,427.4L296.5,427.4L297.0,427.4L297.5,427.4L298.0,427.4L298.5,427.4L299.0,427.4L299.5,427.4L300.0,427.4L300.5,427.4L301.0,427.4L301.5,427.4L302.0,427.4L302.5,427.4L303.0,427.4L303.5,427.4L304.0,427.4L304.5,427.4L305.0,427.4L305.5,427.4L306.0,427.4L306.5,427.4L307.0,427.4L307.5,427.4L308.0,427.4L308.5,427.4L309.0,427.4L309.5,427.4L310.0,427.4L310.5,427.4L311.0,427.4L311.5,427.4L312.0,427.4L312.5,427.4L313.0,427.4L313.5,427.4L314.0,427.4L314.5,427.4L315.0,427.4L315.5,427.4L316.0,427.4L316.5,427.4L317.0,427.4L317.5,427.4L318.0,427.4L318.5,427.4L319.0,427.4L319.5,427.4L320.0,427.4L320.5,427.4L321.0,427.4L321.5,427.4L322.0,427.4L322.5,427.4L323.0,427.4L323.5,427.4L324.0,427.4L324.5,427.4L325.0,427.4L325.5,427.4L326.0,427.4L326.5,427.4L327.0,427.4L327.5,427.4L328.0,427.4L328.5,427.4L329.0,427.4L329.5,427.4L330.0,427.4L330.5,427.4L331.0,427.4L331.5,427.4L332.0,427.4L332.5,427.4L333.0,427.4L333.5,427.4L334.0,427.4L334.5,427.4L335.0,427.4L335.5,427.4L336.0,427.4L336.5,427.4L337.0,427.4L337.5,427.4L338.0,427.4L338.5,427.4L339.0,427.4L339.5,427.4L340.0,427.4L340.5,427.4L341.0,427.4L341.5,427.4L342.0,427.4L342.5,427.4L343.0,427.4L343.5,427.4L344.0,427.4L344.5,427.4L345.0,427.4L345.5,427.4L346.0,427.4L346.5,427.4L347.0,427.4L347.5,427.4L348.0,427.4L348.5,427.4L349.0,427.4L349.5,427.4L350.0,427.4L350.5,427.4L351.0,427.4L351.5,427.4L352.0,427.4L352.5,427.4L353.0,427.4L353.5,427.4L354.0,427.4L354.5,427.4L355.0,427.4L355.5,427.4L356.0,427.4L356.5,427.4L357.0,427.4L357.5,427.4L358.0,427.4L358.5,427.4L359.0,427.4L359.5,427.4L360.0,427.4L360.5,427.4L361.0,427.4L361.5,427.4L362.0,427.4L362.5,427.4L363.0,427.4L363.5,427.4L364.0,427.4L364.5,427.4L365.0,427.4L365.5,427.4L366.0,427.4L366.5,427.4L367.0,427.4L367.5,427.4L368.0,427.4L368.5,427.4L369.0,427.4L369.5,427.4L370.0,427.4L370.5,427.4L371.0,427.4L371.5,427.4L372.0,427.4L372.5,427.4L373.0,427.4L373.5,427.4L374.0,427.4L374.5,427.4L375.0,427.4L375.5,427.4L376.0,427.4L376.5,427.4L377.0,427.4L377.5,427.4L378.0,427.4L378.5,427.4L379.0,427.4L379.5,427.4L380.0,427.4L380.5,139.5L381.0,141.1L381.5,141.9L382.0,141.9L382.5,142.7L383.0,143.7L383.5,144.5L384.0,145.9L384.5,147.1L385.0,148.1L385.5,149.3L386.0,149.7L386.5,149.6L387.0,149.6L387.5,149.4L388.0,149.3L388.5,149.1L389.0,149.1L389.5,149.0L390.0,148.0L390.5,147.9L391.0,148.2L391.5,148.7L392.0,150.1L392.5,151.7L393.0,153.4L393.5,155.1L394.0,158.8L394.5,162.4L395.0,165.6L395.5,169.2L396.0,172.2L396.5,174.3L397.0,176.6L397.5,178.7L398.0,181.0L398.5,183.1L399.0,184.6L399.5,185.6L400.0,186.8L400.5,187.7L401.0,188.6L401.5,189.5L402.0,190.5L402.5,191.5L403.0,192.7L403.5,193.6L404.0,192.7L404.5,191.7L405.0,190.7L405.5,189.7L406.0,189.7L406.5,191.5L407.0,193.8L407.5,195.7L408.0,197.2L408.5,197.3L409.0,197.7L409.5,197.8L410.0,198.0L410.5,198.1L411.0,197.5L411.5,197.6L412.0,198.1L412.5,198.2L413.0,198.8L413.5,198.9L414.0,198.9L414.5,199.0L415.0,198.4L415.5,198.5L416.0,199.3L416.5,202.8L417.0,206.6L417.5,210.1L418.0,213.2L418.5,215.1L419.0,217.2L419.5,219.1L420.0,220.8L420.5,222.7L421.0,225.3L421.5,227.2L422.0,226.6L422.5,225.9L423.0,225.4L423.5,224.7L424.0,223.2L424.5,222.5L425.0,222.4L425.5,221.7L426.0,220.9L426.5,220.3L427.0,219.0L427.5,218.3L428.0,218.4L428.5,216.2L429.0,214.2L429.5,212.0L430.0,209.0L430.5,206.8L431.0,205.5L431.5,203.3L432.0,200.5L432.5,198.3L433.0,197.9L433.5,197.7L434.0,198.1L434.5,198.0L435.0,197.7L435.5,197.5L436.0,196.6L436.5,198.4L437.0,200.6L437.5,202.4L438.0,204.3L438.5,206.1L439.0,207.7L439.5,210.6L440.0,215.0L440.5,219.6L441.0,224.3L441.5,228.8L442.0,230.4L442.5,231.6L443.0,232.1L443.5,233.3L444.0,235.1L444.5,235.9L445.0,236.7L445.5,237.6L446.0,238.0L446.5,238.8L447.0,240.1L447.5,240.9L448.0,242.1L448.5,243.2L449.0,244.1L449.5,245.2L450.0,245.7L450.5,246.8L451.0,248.8L451.5,249.9L452.0,251.3L452.5,253.6L453.0,256.1L453.5,258.5L454.0,259.9L454.5,262.2L455.0,264.7L455.5,267.2L456.0,269.5L456.5,272.0L457.0,275.3L457.5,277.8L458.0,279.7L458.5,282.4L459.0,285.3L459.5,288.4L460.0,291.8L460.5,294.8L461.0,298.5L461.5,301.9L462.0,305.2L462.5,308.6L463.0,311.3L463.5,314.7L464.0,318.0L464.5,321.4L465.0,325.7L465.5,329.1L466.0,332.1L466.5,335.5L467.0,339.0L467.5,342.4L468.0,345.1L468.5,348.5L469.0,350.5L469.5,352.5L470.0,355.1L470.5,357.1L471.0,358.8L471.5,360.7L472.0,361.0L472.5,359.6L473.0,359.1L473.5,357.7L474.0,356.0L474.5,354.6L475.0,353.3L475.5,352.2L476.0,350.4L476.5,349.3L477.0,349.0L477.5,348.0L478.0,346.0L478.5,344.9L479.0,348.3L479.5,350.8L480.0,352.9L480.5,355.4L481.0,357.8L481.5,360.8L482.0,364.1L482.5,367.1L483.0,370.5L483.5,372.5L484.0,373.8L484.5,375.9L485.0,377.8L485.5,377.7L486.0,376.6L486.5,375.1L487.0,373.2L487.5,371.7L488.0,372.6L488.5,373.6L489.0,374.6L489.5,373.0L490.0,371.2L490.5,369.5L491.0,368.0L491.5,366.3L492.0,364.8L492.5,361.6L493.0,358.4L493.5,355.2L494.0,352.5L494.5,349.3L495.0,336.9L495.5,299.8L496.0,260.0L496.5,250.0L497.0,239.6L497.5,229.6L498.0,225.8L498.5,221.7L499.0,217.2L499.5,213.2L500.0,209.4L500.5,206.4L501.0,203.8L501.5,201.6L502.0,200.1L502.5,197.8L503.0,195.3L503.5,193.1L504.0,190.4L504.5,188.1L505.0,186.6L505.5,184.8L506.0,183.5L506.5,181.7L507.0,179.1L507.5,177.3L508.0,176.3L508.5,174.5L509.0,172.3L509.5,172.1L510.0,172.0L510.5,171.9L511.0,172.1L511.5,171.9L512.0,171.2L512.5,171.0L513.0,171.0L513.5,170.8L514.0,170.8L514.5,170.7L515.0,170.8L515.5,170.6L516.0,169.7L516.5,169.5L517.0,169.8L517.5,169.6L518.0,169.2L518.5,169.0L519.0,168.7L519.5,168.5L520.0,168.0L520.5,168.1L521.0,168.3L521.5,168.5L522.0,168.5L522.5,168.7L523.0,169.1L523.5,169.4L524.0,169.6L524.5,169.8L525.0,170.8L525.5,171.1L526.0,170.3L526.5,169.1L527.0,167.8L527.5,166.6L528.0,165.3L528.5,164.1L529.0,163.8L529.5,162.2L530.0,160.7L530.5,159.1L531.0,157.3L531.5,155.8L532.0,153.8L532.5,152.2L533.0,150.6L533.5,149.0L534.0,149.4L534.5,150.2L535.0,151.2L535.5,152.0L536.0,152.5L536.5,153.3L537.0,154.4L537.5,158.0L538.0,161.3L538.5,164.8L539.0,169.1L539.5,173.6L540.0,178.7L540.5,183.8L541.0,188.4L541.5,193.1L542.0,196.1L542.5,199.3L543.0,203.4L543.5,206.7L544.0,209.2L544.5,212.5L545.0,215.4L545.5,217.5L546.0,219.1L546.5,221.2L547.0,223.7L547.5,225.8L548.0,228.0L548.5,229.8L549.0,231.8L549.5,233.6L550.0,235.2L550.5,236.4L551.0,235.4L551.5,234.0L552.0,232.1L552.5,230.7L553.0,229.6L553.5,228.3L554.0,225.7L554.5,222.7L555.0,220.0L555.5,217.0L556.0,213.6L556.5,210.5L557.0,207.5L557.5,205.5L558.0,203.8L558.5,201.9L559.0,199.8L559.5,197.9L560.0,196.3L560.5,194.4L561.0,192.8L561.5,191.2L562.0,189.8L562.5,188.3L563.0,186.6L563.5,185.0L564.0,183.5L564.5,181.9L565.0,180.5L565.5,181.1L566.0,181.1L566.5,181.6L567.0,182.0L567.5,182.6L568.0,183.8L568.5,184.3L569.0,183.9L569.5,184.4L570.0,185.6L570.5,186.1L571.0,186.5L571.5,187.0L572.0,186.8L572.5,187.3L573.0,188.7L573.5,189.2L574.0,189.8L574.5,190.3L575.0,190.5L575.5,190.3L576.0,190.2L576.5,190.0L577.0,189.8L577.5,189.6L578.0,188.6L578.5,188.4L579.0,188.6L579.5,188.4L580.0,188.1L580.5,187.9L581.0,188.0L581.5,187.8L582.0,187.5L582.5,187.3L583.0,187.1L583.5,186.9L584.0,186.4L584.5,186.6L585.0,187.2L585.5,187.4L586.0,187.4L586.5,187.6L587.0,187.8L587.5,188.0L588.0,187.7L588.5,188.0L589.0,188.0L589.5,188.2L590.0,189.2L590.5,190.2L591.0,191.5L591.5,192.5L592.0,193.3L592.5,194.3L593.0,196.1L593.5,197.2L594.0,197.9L594.5,199.2L595.0,200.6L595.5,201.9L596.0,203.2L596.5,204.5L597.0,205.9L597.5,207.7L598.0,211.6L598.5,215.7L599.0,219.2L599.5,223.2L600.0,228.0L600.5,231.9L601.0,235.8L601.5,239.6L602.0,243.3L602.5,247.1L603.0,251.1L603.5,256.1L604.0,261.2L604.5,266.2L605.0,270.6L605.5,275.6L606.0,281.3L606.5,285.7L607.0,289.5L607.5,293.9L608.0,298.1L608.5,302.5L609.0,307.1L609.5,311.4L610.0,316.3L610.5,318.8L611.0,320.8L611.5,323.3L612.0,326.4L612.5,328.9L613.0,331.6L613.5,334.1L614.0,336.1L614.5,338.6L615.0,341.0L615.5,339.3L616.0,337.8L616.5,336.1L617.0,333.5L617.5,330.7L618.0,327.9L618.5,325.1L619.0,322.1L619.5,319.3L620.0,315.8L620.5,312.3L621.0,308.2L621.5,304.7L622.0,301.3L622.5,297.8L623.0,294.4L623.5,290.9L624.0,286.8L624.5,282.1L625.0,277.0L625.5,272.3L626.0,268.0L626.5,263.3L627.0,259.7L627.5,256.7L628.0,253.8L628.5,250.8L629.0,244.2L629.5,237.5L630.0,231.2L630.5,224.5L631.0,219.2L631.5,216.1L632.0,213.0L632.5,209.8L633.0,206.3L633.5,203.2L634.0,200.3L634.5,199.8L635.0,199.2L635.5,198.7L636.0,198.1L636.5,197.6L637.0,196.7L637.5,199.0L638.0,202.1L638.5,204.3L639.0,205.8L639.5,208.1L640.0,211.5L640.5,214.2L641.0,216.9L641.5,219.6L642.0,221.3L642.5,224.0L643.0,227.2L643.5,228.2L644.0,229.6L644.5,230.5L645.0,231.7L645.5,232.6L646.0,233.1L646.5,233.8L647.0,233.2L647.5,232.8L648.0,232.4L648.5,232.0L649.0,232.4L649.5,232.1L650.0,229.3L650.5,226.3L651.0,223.6L651.5,220.6L652.0,217.1L652.5,214.1L653.0,211.5L653.5,209.6L654.0,208.1L654.5,206.2L655.0,203.4L655.5,201.5L656.0,200.3L656.5,198.7L657.0,197.5L657.5,196.7L658.0,196.3L658.5,195.5L659.0,194.5L659.5,193.7L660.0,192.4L660.5,191.7L661.0,191.6L661.5,190.9L662.0,189.7L662.5,188.5L663.0,186.8L663.5,185.5L664.0,184.3L664.5,183.1L665.0,182.4L665.5,181.3L666.0,180.2L666.5,179.0L667.0,177.8L667.5,176.6L668.0,175.3L668.5,171.9L669.0,168.7L669.5,165.2L670.0,164.2L670.5,163.3L671.0,162.9L671.5,161.9L672.0,160.1L672.5,159.1L673.0,159.0L673.5,158.0L674.0,157.2L674.5,155.9L675.0,153.9L675.5,152.6L676.0,152.2L676.5,151.0L677.0,149.5L677.5,148.2L678.0,147.1L678.5,145.8L679.0,143.8L679.5,142.6L680.0,141.5L680.5,140.4L681.0,139.2L681.5,138.1L682.0,139.5L682.5,140.7L683.0,141.4L683.5,142.6L684.0,143.6L684.5,144.8L685.0,146.1L685.5,147.1L686.0,147.6L686.5,148.2L687.0,148.6L687.5,149.2L688.0,149.9L688.5,150.5L689.0,151.9L689.5,152.6L690.0,152.6L690.5,153.2L691.0,154.5L691.5,154.1L692.0,153.0L692.5,152.6L693.0,152.2L693.5,151.8L694.0,151.6L694.5,151.2L695.0,150.5L695.5,150.1L696.0,150.9L696.5,151.8L697.0,153.3L697.5,154.1L698.0,154.9L698.5,155.8L699.0,156.6L699.5,158.1L700.0,159.5L700.5,161.0L701.0,162.9L701.5,164.4L702.0,166.0L702.5,167.5L703.0,168.6L703.5,169.9L704.0,170.2L704.5,170.4L705.0,169.8L705.5,169.9L706.0,170.8L706.5,171.0L707.0,170.8L707.5,170.9L708.0,171.2L708.5,170.9L709.0,170.5L709.5,170.2L710.0,169.5L710.5,169.2L711.0,168.5L711.5,168.2L712.0,168.8L712.5,168.4L713.0,166.8L713.5,166.2L714.0,166.0L714.5,165.3L715.0,164.5L715.5,163.9L716.0,163.2L716.5,162.6L717.0,162.4L717.5,161.8L718.0,161.4L718.5,160.5L719.0,158.8L719.5,158.0L720.0,157.5L720.5,156.6L721.0,155.4L721.5,154.5L722.0,153.9L722.5,153.8L723.0,154.7L723.5,155.8L724.0,156.7L724.5,157.8L725.0,158.9L725.5,160.0L726.0,161.7L726.5,163.7L727.0,166.6L727.5,168.6L728.0,170.2L728.5,172.2L729.0,174.0L729.5,176.2L730.0,179.3L730.5,181.5L731.0,183.9L731.5,186.1L732.0,187.8L732.5,189.9L733.0,191.2L733.5,192.9L734.0,194.6L734.5,196.2L735.0,197.8L735.5,199.4L736.0,202.7L736.5,206.6L737.0,210.2L737.5,214.1L738.0,218.2L738.5,222.7L739.0,227.2L739.5,231.7L740.0,236.5L740.5,238.8L741.0,241.4L741.5,243.7L742.0,245.8L742.5,247.6L743.0,247.0L743.5,246.7L744.0,246.5L744.5,246.3L745.0,246.1L745.5,245.9L746.0,245.5L746.5,245.3L747.0,243.0L747.5,237.9L748.0,232.5L748.5,227.4L749.0,222.5L749.5,218.6L750.0,215.5L750.5,211.6L751.0,206.8L751.5,203.5L752.0,201.3L752.5,198.7L753.0,196.3L753.5,193.8L754.0,194.2L754.5,194.3L755.0,193.8L755.5,193.9L756.0,194.2L756.5,194.3L757.0,194.3L757.5,193.5L758.0,192.9L758.5,192.1L759.0,191.3L759.5,190.5L760.0,190.3L760.5,189.6L761.0,188.7L761.5,188.9L762.0,190.7L762.5,192.5L763.0,193.4L763.5,195.2L764.0,196.9L764.5,198.7L765.0,202.7L765.5,206.8L766.0,211.1L766.5,215.2L767.0,219.0L767.5,223.7L768.0,228.6L768.5,233.4L769.0,237.6L769.5,240.8L770.0,244.5L770.5,247.7L771.0,251.3L771.5,254.1L772.0,256.8L772.5,259.6L773.0,260.9L773.5,262.2L774.0,263.6L774.5,264.9L775.0,263.5L775.5,261.6L776.0,259.5L776.5,257.6L777.0,255.8L777.5,254.0L778.0,252.6L778.5,250.8L779.0,249.2L779.5,241.5L780.0,234.0L780.5,226.2L781.0,218.1L781.5,212.0L782.0,205.8L782.5,199.7L783.0,193.7L783.5,192.3L784.0,190.5L784.5,189.2L785.0,189.7L785.5,191.3L786.0,192.4L786.5,194.0L787.0,196.5L787.5,198.1L788.0,199.1L788.5,199.9L789.0,201.4L789.5,202.1L790.0,202.6L790.5,203.3L791.0,203.8L791.5,204.5L792.0,205.1L792.5,205.9L793.0,207.6L793.5,209.3L794.0,211.3L794.5,212.9L795.0,214.6L795.5,216.2L796.0,216.9L796.5,217.1L797.0,217.3L797.5,217.5L798.0,218.2L798.5,218.4L799.0,218.7L799.5,218.9L800.0,218.9L800.5,219.1L801.0,219.2L801.5,219.4L802.0,219.3L802.5,218.8L803.0,217.6L803.5,217.1L804.0,216.9L804.5,216.4L805.0,216.8L805.5,218.0L806.0,219.8L806.5,221.1L807.0,222.0L807.5,223.2L808.0,224.7L808.5,226.0L809.0,226.8L809.5,228.0L810.0,229.0L810.5,230.3L811.0,231.6L811.5,232.8L812.0,232.6L812.5,231.5L813.0,230.2L813.5,229.2L814.0,227.7L814.5,226.7L815.0,224.8L815.5,222.4L816.0,220.5L816.5,218.1L817.0,215.8L817.5,213.4L818.0,210.7L818.5,205.1L819.0,199.4L819.5,193.8L820.0,188.7L820.5,183.7L821.0,181.4L821.5,178.9L822.0,175.6L822.5,173.1L823.0,170.3L823.5,168.8L824.0,169.1L824.0,427.4Z" fill="#90d0ae"/>
<path d="M124.0,427.4L124.0,427.4L124.5,427.4L125.0,427.4L125.5,427.4L126.0,427.4L126.5,427.4L127.0,427.4L127.5,427.4L128.0,427.4L128.5,427.4L129.0,427.4L129.5,427.4L130.0,427.4L130.5,427.4L131.0,427.4L131.5,427.4L132.0,427.4L132.5,427.4L133.0,427.4L133.5,427.4L134.0,427.4L134.5,427.4L135.0,427.4L135.5,427.4L136.0,427.4L136.5,427.4L137.0,427.4L137.5,427.4L138.0,427.4L138.5,427.4L139.0,427.4L139.5,427.4L140.0,427.4L140.5,427.4L141.0,427.4L141.5,427.4L142.0,427.4L142.5,427.4L143.0,427.4L143.5,427.4L144.0,427.4L144.5,427.4L145.0,427.4L145.5,427.4L146.0,427.4L146.5,427.4L147.0,427.4L147.5,427.4L148.0,427.4L148.5,427.4L149.0,427.4L149.5,427.4L150.0,427.4L150.5,427.4L151.0,427.4L151.5,427.4L152.0,427.4L152.5,427.4L153.0,427.4L153.5,427.4L154.0,427.4L154.5,427.4L155.0,427.4L155.5,427.4L156.0,427.4L156.5,427.4L157.0,427.4L157.5,427.4L158.0,427.4L158.5,427.4L159.0,427.4L159.5,427.4L160.0,427.4L160.5,427.4L161.0,427.4L161.5,427.4L162.0,427.4L162.5,427.4L163.0,427.4L163.5,427.4L164.0,427.4L164.5,427.4L165.0,427.4L165.5,427.4L166.0,427.4L166.5,427.4L167.0,427.4L167.5,427.4L168.0,427.4L168.5,427.4L169.0,427.4L169.5,427.4L170.0,427.4L170.5,427.4L171.0,427.4L171.5,427.4L172.0,427.4L172.5,427.4L173.0,427.4L173.5,427.4L174.0,427.4L174.5,427.4L175.0,427.4L175.5,427.4L176.0,427.4L176.5,427.4L177.0,427.4L177.5,427.4L178.0,427.4L178.5,427.4L179.0,427.4L179.5,427.4L180.0,427.4L180.5,427.4L181.0,427.4L181.5,427.4L182.0,427.4L182.5,427.4L183.0,427.4L183.5,427.4L184.0,427.4L184.5,427.4L185.0,427.4L185.5,427.4L186.0,427.4L186.5,427.4L187.0,427.4L187.5,427.4L188.0,427.4L188.5,427.4L189.0,427.4L189.5,427.4L190.0,427.4L190.5,427.4L191.0,427.4L191.5,427.4L192.0,427.4L192.5,427.4L193.0,427.4L193.5,427.4L194.0,427.4L194.5,427.4L195.0,427.4L195.5,427.4L196.0,427.4L196.5,427.4L197.0,427.4L197.5,427.4L198.0,427.4L198.5,427.4L199.0,427.4L199.5,427.4L200.0,427.4L200.5,427.4L201.0,427.4L201.5,427.4L202.0,427.4L202.5,427.4L203.0,427.4L203.5,427.4L204.0,427.4L204.5,427.4L205.0,427.4L205.5,427.4L206.0,427.4L206.5,427.4L207.0,427.4L207.5,427.4L208.0,427.4L208.5,427.4L209.0,427.4L209.5,427.4L210.0,427.4L210.5,427.4L211.0,427.4L211.5,427.4L212.0,427.4L212.5,427.4L213.0,427.4L213.5,427.4L214.0,427.4L214.5,427.4L215.0,427.4L215.5,427.4L216.0,427.4L216.5,427.4L217.0,427.4L217.5,427.4L218.0,427.4L218.5,427.4L219.0,427.4L219.5,427.4L220.0,427.4L220.5,427.4L221.0,427.4L221.5,427.4L222.0,427.4L222.5,427.4L223.0,427.4L223.5,427.4L224.0,427.4L224.5,427.4L225.0,427.4L225.5,427.4L226.0,427.4L226.5,427.4L227.0,427.4L227.5,427.4L228.0,427.4L228.5,427.4L229.0,427.4L229.5,427.4L230.0,427.4L230.5,427.4L231.0,427.4L231.5,427.4L232.0,427.4L232.5,427.4L233.0,427.4L233.5,427.4L234.0,427.4L234.5,427.4L235.0,427.4L235.5,427.4L236.0,427.4L236.5,427.4L237.0,427.4L237.5,427.4L238.0,427.4L238.5,427.4L239.0,427.4L239.5,427.4L240.0,427.4L240.5,427.4L241.0,427.4L241.5,427.4L242.0,427.4L242.5,427.4L243.0,427.4L243.5,427.4L244.0,427.4L244.5,427.4L245.0,427.4L245.5,427.4L246.0,427.4L246.5,427.4L247.0,427.4L247.5,427.4L248.0,427.4L248.5,427.4L249.0,427.4L249.5,427.4L250.0,427.4L250.5,427.4L251.0,427.4L251.5,427.4L252.0,427.4L252.5,427.4L253.0,427.4L253.5,427.4L254.0,427.4L254.5,427.4L255.0,427.4L255.5,427.4L256.0,427.4L256.5,427.4L257.0,427.4L257.5,427.4L258.0,427.4L258.5,427.4L259.0,427.4L259.5,427.4L260.0,427.4L260.5,427.4L261.0,427.4L261.5,427.4L262.0,427.4L262.5,427.4L263.0,427.4L263.5,427.4L264.0,427.4L264.5,427.4L265.0,427.4L265.5,427.4L266.0,427.4L266.5,427.4L267.0,427.4L267.5,427.4L268.0,427.4L268.5,427.4L269.0,427.4L269.5,427.4L270.0,427.4L270.5,427.4L271.0,427.4L271.5,427.4L272.0,427.4L272.5,427.4L273.0,427.4L273.5,427.4L274.0,427.4L274.5,427.4L275.0,427.4L275.5,427.4L276.0,427.4L276.5,427.4L277.0,427.4L277.5,427.4L278.0,427.4L278.5,427.4L279.0,427.4L279.5,427.4L280.0,427.4L280.5,427.4L281.0,427.4L281.5,427.4L282.0,427.4L282.5,427.4L283.0,427.4L283.5,427.4L284.0,427.4L284.5,427.4L285.0,427.4L285.5,427.4L286.0,427.4L286.5,427.4L287.0,427.4L287.5,427.4L288.0,427.4L288.5,427.4L289.0,427.4L289.5,427.4L290.0,427.4L290.5,427.4L291.0,427.4L291.5,427.4L292.0,427.4L292.5,427.4L293.0,427.4L293.5,427.4L294.0,427.4L294.5,427.4L295.0,427.4L295.5,427.4L296.0,427.4L296.5,427.4L297.0,427.4L297.5,427.4L298.0,427.4L298.5,427.4L299.0,427.4L299.5,427.4L300.0,427.4L300.5,427.4L301.0,427.4L301.5,427.4L302.0,427.4L302.5,427.4L303.0,427.4L303.5,427.4L304.0,427.4L304.5,427.4L305.0,427.4L305.5,427.4L306.0,427.4L306.5,427.4L307.0,427.4L307.5,427.4L308.0,427.4L308.5,427.4L309.0,427.4L309.5,427.4L310.0,427.4L310.5,427.4L311.0,427.4L311.5,427.4L312.0,427.4L312.5,427.4L313.0,427.4L313.5,427.4L314.0,427.4L314.5,427.4L315.0,427.4L315.5,427.4L316.0,427.4L316.5,427.4L317.0,427.4L317.5,427.4L318.0,427.4L318.5,427.4L319.0,427.4L319.5,427.4L320.0,427.4L320.5,427.4L321.0,427.4L321.5,427.4L322.0,427.4L322.5,427.4L323.0,427.4L323.5,427.4L324.0,427.4L324.5,427.4L325.0,427.4L325.5,427.4L326.0,427.4L326.5,427.4L327.0,427.4L327.5,427.4L328.0,427.4L328.5,427.4L329.0,427.4L329.5,427.4L330.0,427.4L330.5,427.4L331.0,427.4L331.5,427.4L332.0,427.4L332.5,427.4L333.0,427.4L333.5,427.4L334.0,427.4L334.5,427.4L335.0,427.4L335.5,427.4L336.0,427.4L336.5,427.4L337.0,427.4L337.5,427.4L338.0,427.4L338.5,427.4L339.0,427.4L339.5,427.4L340.0,427.4L340.5,427.4L341.0,427.4L341.5,427.4L342.0,427.4L342.5,427.4L343.0,427.4L343.5,427.4L344.0,427.4L344.5,427.4L345.0,427.4L345.5,427.4L346.0,427.4L346.5,427.4L347.0,427.4L347.5,427.4L348.0,427.4L348.5,427.4L349.0,427.4L349.5,427.4L350.0,427.4L350.5,427.4L351.0,427.4L351.5,427.4L352.0,427.4L352.5,427.4L353.0,427.4L353.5,427.4L354.0,427.4L354.5,427.4L355.0,427.4L355.5,427.4L356.0,427.4L356.5,427.4L357.0,427.4L357.5,427.4L358.0,427.4L358.5,427.4L359.0,427.4L359.5,427.4L360.0,427.4L360.5,427.4L361.0,427.4L361.5,427.4L362.0,427.4L362.5,427.4L363.0,427.4L363.5,427.4L364.0,427.4L364.5,427.4L365.0,427.4L365.5,427.4L366.0,427.4L366.5,427.4L367.0,427.4L367.5,427.4L368.0,427.4L368.5,427.4L369.0,427.4L369.5,427.4L370.0,427.4L370.5,427.4L371.0,427.4L371.5,427.4L372.0,427.4L372.5,427.4L373.0,427.4L373.5,427.4L374.0,427.4L374.5,427.4L375.0,427.4L375.5,427.4L376.0,427.4L376.5,427.4L377.0,427.4L377.5,427.4L378.0,427.4L378.5,427.4L379.0,427.4L379.5,427.4L380.0,427.4L380.5,427.4L381.0,427.4L381.5,427.4L382.0,427.4L382.5,427.4L383.0,427.4L383.5,427.4L384.0,427.4L384.5,427.4L385.0,427.4L385.5,427.4L386.0,427.4L386.5,427.4L387.0,427.4L387.5,427.4L388.0,427.4L388.5,427.4L389.0,427.4L389.5,427.4L390.0,427.4L390.5,427.4L391.0,427.4L391.5,427.4L392.0,427.4L392.5,427.4L393.0,427.4L393.5,427.4L394.0,427.4L394.5,427.4L395.0,427.4L395.5,427.4L396.0,427.4L396.5,427.4L397.0,427.4L397.5,427.4L398.0,427.4L398.5,427.4L399.0,427.4L399.5,427.4L400.0,427.4L400.5,427.4L401.0,427.4L401.5,427.4L402.0,427.4L402.5,427.4L403.0,427.4L403.5,427.4L404.0,427.4L404.5,427.4L405.0,427.4L405.5,427.4L406.0,427.4L406.5,427.4L407.0,427.4L407.5,427.4L408.0,427.4L408.5,427.4L409.0,427.4L409.5,427.4L410.0,427.4L410.5,427.4L411.0,427.4L411.5,427.4L412.0,427.4L412.5,427.4L413.0,427.4L413.5,427.4L414.0,427.4L414.5,427.4L415.0,427.4L415.5,427.4L416.0,427.4L416.5,427.4L417.0,427.4L417.5,427.4L418.0,427.4L418.5,427.4L419.0,427.4L419.5,427.4L420.0,427.4L420.5,427.4L421.0,427.4L421.5,427.4L422.0,427.4L422.5,427.4L423.0,427.4L423.5,427.4L424.0,427.4L424.5,427.4L425.0,427.4L425.5,427.4L426.0,427.4L426.5,427.4L427.0,427.4L427.5,427.4L428.0,427.4L428.5,427.4L429.0,427.4L429.5,427.4L430.0,427.4L430.5,427.4L431.0,427.4L431.5,206.1L432.0,203.3L432.5,201.2L433.0,201.0L433.5,200.8L434.0,201.2L434.5,201.0L435.0,200.7L435.5,200.5L436.0,199.6L436.5,202.0L437.0,204.7L437.5,207.1L438.0,209.6L438.5,212.0L439.0,216.8L439.5,221.8L440.0,226.7L440.5,231.7L441.0,234.6L441.5,237.4L442.0,240.6L442.5,243.4L443.0,245.5L443.5,247.5L444.0,250.1L444.5,252.1L445.0,253.9L445.5,255.9L446.0,257.5L446.5,260.5L447.0,263.8L447.5,266.8L448.0,270.1L448.5,272.9L449.0,275.6L449.5,278.4L450.0,280.7L450.5,283.5L451.0,287.3L451.5,290.1L452.0,292.7L452.5,295.5L453.0,298.5L453.5,301.9L454.0,304.4L454.5,307.8L455.0,311.3L455.5,314.7L456.0,317.9L456.5,321.3L457.0,325.5L457.5,328.9L458.0,331.7L458.5,334.6L459.0,337.3L459.5,340.1L460.0,343.2L460.5,346.1L461.0,349.5L461.5,351.6L462.0,353.7L462.5,355.9L463.0,357.4L463.5,359.6L464.0,361.6L464.5,363.3L465.0,365.8L465.5,367.5L466.0,368.7L466.5,370.4L467.0,372.2L467.5,373.6L468.0,374.2L468.5,375.5L469.0,376.8L469.5,378.2L470.0,380.2L470.5,381.4L471.0,382.3L471.5,383.5L472.0,384.3L472.5,385.5L473.0,384.5L473.5,382.5L474.0,380.1L474.5,378.1L475.0,376.3L475.5,374.3L476.0,371.5L476.5,369.5L477.0,368.4L477.5,366.4L478.0,363.5L478.5,361.5L479.0,364.4L479.5,366.4L480.0,367.9L480.5,369.9L481.0,371.8L481.5,374.8L482.0,378.1L482.5,381.1L483.0,384.5L483.5,386.3L484.0,387.4L484.5,389.2L485.0,390.9L485.5,427.4L486.0,388.6L486.5,386.5L487.0,384.0L487.5,381.9L488.0,379.6L488.5,376.7L489.0,377.7L489.5,427.4L490.0,427.4L490.5,427.4L491.0,427.4L491.5,427.4L492.0,427.4L492.5,427.4L493.0,427.4L493.5,427.4L494.0,427.4L494.5,427.4L495.0,427.4L495.5,427.4L496.0,427.4L496.5,427.4L497.0,427.4L497.5,427.4L498.0,427.4L498.5,427.4L499.0,427.4L499.5,427.4L500.0,427.4L500.5,427.4L501.0,427.4L501.5,427.4L502.0,427.4L502.5,427.4L503.0,427.4L503.5,427.4L504.0,427.4L504.5,427.4L505.0,427.4L505.5,427.4L506.0,427.4L506.5,427.4L507.0,427.4L507.5,427.4L508.0,427.4L508.5,427.4L509.0,427.4L509.5,427.4L510.0,427.4L510.5,427.4L511.0,427.4L511.5,427.4L512.0,427.4L512.5,427.4L513.0,427.4L513.5,427.4L514.0,427.4L514.5,427.4L515.0,427.4L515.5,427.4L516.0,427.4L516.5,427.4L517.0,427.4L517.5,427.4L518.0,427.4L518.5,427.4L519.0,427.4L519.5,427.4L520.0,427.4L520.5,427.4L521.0,427.4L521.5,427.4L522.0,427.4L522.5,427.4L523.0,427.4L523.5,427.4L524.0,427.4L524.5,427.4L525.0,427.4L525.5,427.4L526.0,427.4L526.5,427.4L527.0,427.4L527.5,427.4L528.0,427.4L528.5,427.4L529.0,427.4L529.5,427.4L530.0,427.4L530.5,427.4L531.0,427.4L531.5,427.4L532.0,427.4L532.5,427.4L533.0,427.4L533.5,427.4L534.0,427.4L534.5,427.4L535.0,427.4L535.5,427.4L536.0,427.4L536.5,427.4L537.0,427.4L537.5,427.4L538.0,427.4L538.5,427.4L539.0,427.4L539.5,427.4L540.0,427.4L540.5,427.4L541.0,427.4L541.5,427.4L542.0,427.4L542.5,427.4L543.0,427.4L543.5,427.4L544.0,427.4L544.5,427.4L545.0,427.4L545.5,427.4L546.0,427.4L546.5,427.4L547.0,427.4L547.5,427.4L548.0,427.4L548.5,427.4L549.0,427.4L549.5,427.4L550.0,427.4L550.5,427.4L551.0,427.4L551.5,427.4L552.0,427.4L552.5,427.4L553.0,427.4L553.5,427.4L554.0,427.4L554.5,427.4L555.0,427.4L555.5,427.4L556.0,427.4L556.5,427.4L557.0,427.4L557.5,427.4L558.0,427.4L558.5,427.4L559.0,427.4L559.5,427.4L560.0,427.4L560.5,427.4L561.0,427.4L561.5,427.4L562.0,427.4L562.5,191.3L563.0,189.6L563.5,188.1L564.0,186.6L564.5,185.0L565.0,183.6L565.5,184.1L566.0,184.1L566.5,184.7L567.0,185.1L567.5,185.7L568.0,186.9L568.5,187.5L569.0,187.1L569.5,187.6L570.0,188.7L570.5,189.2L571.0,189.6L571.5,190.2L572.0,190.0L572.5,190.5L573.0,191.9L573.5,192.4L574.0,193.0L574.5,193.5L575.0,193.7L575.5,193.5L576.0,193.4L576.5,193.2L577.0,193.0L577.5,192.8L578.0,191.9L578.5,191.6L579.0,191.8L579.5,191.6L580.0,191.4L580.5,191.2L581.0,191.3L581.5,191.1L582.0,190.8L582.5,190.6L583.0,190.4L583.5,190.2L584.0,189.7L584.5,189.9L585.0,190.5L585.5,190.7L586.0,190.7L586.5,190.9L587.0,191.2L587.5,191.4L588.0,191.1L588.5,191.3L589.0,191.4L589.5,191.6L590.0,192.6L590.5,193.6L591.0,194.9L591.5,195.9L592.0,196.7L592.5,197.7L593.0,199.6L593.5,200.6L594.0,201.4L594.5,202.7L595.0,204.1L595.5,205.4L596.0,206.7L596.5,208.0L597.0,209.4L597.5,211.9L598.0,216.4L598.5,427.4L599.0,427.4L599.5,427.4L600.0,427.4L600.5,427.4L601.0,427.4L601.5,427.4L602.0,427.4L602.5,427.4L603.0,427.4L603.5,427.4L604.0,427.4L604.5,427.4L605.0,427.4L605.5,427.4L606.0,427.4L606.5,427.4L607.0,427.4L607.5,427.4L608.0,427.4L608.5,427.4L609.0,427.4L609.5,427.4L610.0,427.4L610.5,427.4L611.0,427.4L611.5,427.4L612.0,427.4L612.5,427.4L613.0,427.4L613.5,427.4L614.0,427.4L614.5,427.4L615.0,427.4L615.5,427.4L616.0,427.4L616.5,427.4L617.0,427.4L617.5,427.4L618.0,427.4L618.5,427.4L619.0,427.4L619.5,427.4L620.0,427.4L620.5,427.4L621.0,427.4L621.5,427.4L622.0,427.4L622.5,427.4L623.0,427.4L623.5,427.4L624.0,427.4L624.5,427.4L625.0,427.4L625.5,427.4L626.0,427.4L626.5,427.4L627.0,427.4L627.5,427.4L628.0,427.4L628.5,427.4L629.0,427.4L629.5,427.4L630.0,238.6L630.5,231.2L631.0,225.3L631.5,221.5L632.0,217.8L632.5,214.0L633.0,209.8L633.5,206.6L634.0,203.7L634.5,203.2L635.0,202.5L635.5,202.0L636.0,201.4L636.5,200.9L637.0,199.9L637.5,202.1L638.0,205.2L638.5,207.4L639.0,208.9L639.5,211.1L640.0,214.5L640.5,427.4L641.0,427.4L641.5,427.4L642.0,427.4L642.5,427.4L643.0,427.4L643.5,427.4L644.0,232.8L644.5,233.8L645.0,234.9L645.5,235.9L646.0,236.4L646.5,237.1L647.0,236.5L647.5,236.2L648.0,235.8L648.5,235.4L649.0,235.9L649.5,235.5L650.0,232.8L650.5,229.8L651.0,227.2L651.5,224.2L652.0,220.7L652.5,217.7L653.0,215.1L653.5,213.2L654.0,211.8L654.5,209.9L655.0,207.2L655.5,205.3L656.0,204.1L656.5,202.5L657.0,201.4L657.5,200.6L658.0,200.2L658.5,199.5L659.0,198.5L659.5,197.7L660.0,196.4L660.5,195.8L661.0,196.0L661.5,195.4L662.0,194.3L662.5,193.3L663.0,191.8L663.5,190.7L664.0,189.7L664.5,188.6L665.0,188.1L665.5,427.4L666.0,427.4L666.5,427.4L667.0,427.4L667.5,427.4L668.0,427.4L668.5,178.7L669.0,175.7L669.5,172.4L670.0,171.5L670.5,170.8L671.0,170.5L671.5,169.8L672.0,168.1L672.5,167.3L673.0,167.5L673.5,166.8L674.0,166.2L674.5,165.2L675.0,163.4L675.5,162.4L676.0,162.2L676.5,161.2L677.0,160.0L677.5,158.9L678.0,158.1L678.5,157.0L679.0,155.3L679.5,154.3L680.0,153.5L680.5,152.4L681.0,151.2L681.5,150.1L682.0,151.5L682.5,152.7L683.0,153.4L683.5,154.6L684.0,155.6L684.5,156.8L685.0,158.1L685.5,159.1L686.0,159.6L686.5,160.2L687.0,427.4L687.5,427.4L688.0,427.4L688.5,427.4L689.0,427.4L689.5,427.4L690.0,427.4L690.5,427.4L691.0,427.4L691.5,427.4L692.0,427.4L692.5,427.4L693.0,427.4L693.5,427.4L694.0,427.4L694.5,427.4L695.0,427.4L695.5,427.4L696.0,427.4L696.5,427.4L697.0,427.4L697.5,163.4L698.0,163.9L698.5,164.5L699.0,165.1L699.5,166.4L700.0,167.5L700.5,169.0L701.0,170.8L701.5,172.3L702.0,173.8L702.5,175.3L703.0,176.4L703.5,177.6L704.0,177.9L704.5,178.0L705.0,177.4L705.5,177.5L706.0,178.4L706.5,178.5L707.0,178.3L707.5,178.4L708.0,178.6L708.5,178.3L709.0,177.8L709.5,177.6L710.0,177.1L710.5,177.0L711.0,176.7L711.5,176.6L712.0,177.5L712.5,177.1L713.0,175.8L713.5,175.3L714.0,175.3L714.5,174.9L715.0,174.3L715.5,173.9L716.0,173.4L716.5,173.0L717.0,173.1L717.5,172.7L718.0,172.5L718.5,171.8L719.0,170.2L719.5,169.5L720.0,169.2L720.5,168.4L721.0,167.3L721.5,166.5L722.0,166.1L722.5,166.8L723.0,167.4L723.5,168.1L724.0,168.6L724.5,169.4L725.0,170.1L725.5,170.9L726.0,171.7L726.5,173.4L727.0,175.9L727.5,177.7L728.0,179.0L728.5,180.7L729.0,182.2L729.5,183.9L730.0,186.4L730.5,188.9L731.0,191.5L731.5,194.0L732.0,195.9L732.5,198.4L733.0,200.6L733.5,203.1L734.0,205.7L734.5,209.7L735.0,213.5L735.5,217.5L736.0,221.8L736.5,226.3L737.0,230.6L737.5,235.1L738.0,239.7L738.5,243.9L739.0,248.1L739.5,252.2L740.0,256.7L740.5,260.9L741.0,265.4L741.5,268.6L742.0,271.7L742.5,274.8L743.0,277.7L743.5,280.9L744.0,284.1L744.5,287.2L745.0,290.6L745.5,293.7L746.0,291.9L746.5,286.9L747.0,281.8L747.5,276.8L748.0,271.5L748.5,265.5L749.0,259.8L749.5,253.8L750.0,248.5L750.5,242.5L751.0,235.6L751.5,228.1L752.0,221.0L752.5,213.5L753.0,206.1L753.5,198.1L754.0,198.5L754.5,198.6L755.0,198.0L755.5,198.2L756.0,198.4L756.5,198.5L757.0,198.4L757.5,197.6L758.0,197.0L758.5,196.1L759.0,195.4L759.5,194.6L760.0,194.3L760.5,193.5L761.0,192.7L761.5,192.9L762.0,194.7L762.5,196.5L763.0,197.3L763.5,199.1L764.0,200.9L764.5,202.7L765.0,206.6L765.5,210.7L766.0,215.0L766.5,219.1L767.0,223.0L767.5,230.5L768.0,238.1L768.5,244.8L769.0,250.8L769.5,257.5L770.0,264.5L770.5,271.2L771.0,278.5L771.5,283.6L772.0,288.7L772.5,293.8L773.0,299.0L773.5,304.1L774.0,309.4L774.5,310.0L775.0,302.9L775.5,296.6L776.0,290.2L776.5,283.9L777.0,277.6L777.5,271.0L778.0,264.7L778.5,258.0L779.0,252.9L779.5,245.1L780.0,238.5L780.5,230.0L781.0,221.8L781.5,215.7L782.0,209.4L782.5,203.3L783.0,197.3L783.5,195.9L784.0,194.1L784.5,192.8L785.0,193.3L785.5,194.9L786.0,196.0L786.5,197.6L787.0,200.0L787.5,201.7L788.0,202.7L788.5,203.4L789.0,204.9L789.5,205.6L790.0,206.1L790.5,206.8L791.0,207.2L791.5,208.0L792.0,208.6L792.5,209.4L793.0,211.1L793.5,212.7L794.0,214.7L794.5,216.4L795.0,218.0L795.5,219.6L796.0,220.3L796.5,220.5L797.0,220.7L797.5,220.9L798.0,221.6L798.5,221.8L799.0,222.1L799.5,222.3L800.0,222.3L800.5,222.5L801.0,222.5L801.5,222.7L802.0,222.6L802.5,222.1L803.0,220.9L803.5,220.4L804.0,220.2L804.5,219.7L805.0,220.0L805.5,221.3L806.0,223.1L806.5,224.3L807.0,225.2L807.5,226.5L808.0,228.0L808.5,229.2L809.0,230.0L809.5,231.3L810.0,232.2L810.5,233.5L811.0,234.8L811.5,236.0L812.0,235.8L812.5,234.7L813.0,233.4L813.5,232.4L814.0,230.9L814.5,229.8L815.0,227.9L815.5,225.5L816.0,223.6L816.5,221.2L817.0,218.9L817.5,216.5L818.0,213.8L818.5,208.2L819.0,202.4L819.5,196.8L820.0,191.7L820.5,186.7L821.0,184.5L821.5,181.9L822.0,178.6L822.5,176.1L823.0,173.3L823.5,171.8L824.0,172.1L824.0,427.4Z" fill="#b4dfaa"/>
<path d="M124.0,427.4L124.0,427.4L124.5,427.4L125.0,427.4L125.5,427.4L126.0,427.4L126.5,427.4L127.0,427.4L127.5,427.4L128.0,427.4L128.5,427.4L129.0,427.4L129.5,427.4L130.0,427.4L130.5,427.4L131.0,427.4L131.5,427.4L132.0,427.4L132.5,427.4L133.0,427.4L133.5,427.4L134.0,427.4L134.5,427.4L135.0,427.4L135.5,427.4L136.0,427.4L136.5,427.4L137.0,427.4L137.5,427.4L138.0,427.4L138.5,427.4L139.0,427.4L139.5,427.4L140.0,427.4L140.5,427.4L141.0,427.4L141.5,427.4L142.0,427.4L142.5,427.4L143.0,427.4L143.5,427.4L144.0,427.4L144.5,427.4L145.0,427.4L145.5,427.4L146.0,427.4L146.5,427.4L147.0,427.4L147.5,427.4L148.0,427.4L148.5,427.4L149.0,427.4L149.5,427.4L150.0,427.4L150.5,427.4L151.0,427.4L151.5,427.4L152.0,427.4L152.5,427.4L153.0,427.4L153.5,427.4L154.0,427.4L154.5,427.4L155.0,427.4L155.5,427.4L156.0,427.4L156.5,427.4L157.0,427.4L157.5,427.4L158.0,427.4L158.5,427.4L159.0,427.4L159.5,427.4L160.0,427.4L160.5,427.4L161.0,427.4L161.5,427.4L162.0,427.4L162.5,427.4L163.0,427.4L163.5,427.4L164.0,427.4L164.5,427.4L165.0,427.4L165.5,427.4L166.0,427.4L166.5,427.4L167.0,427.4L167.5,427.4L168.0,427.4L168.5,427.4L169.0,427.4L169.5,427.4L170.0,427.4L170.5,427.4L171.0,427.4L171.5,427.4L172.0,427.4L172.5,427.4L173.0,427.4L173.5,427.4L174.0,427.4L174.5,427.4L175.0,427.4L175.5,427.4L176.0,427.4L176.5,427.4L177.0,427.4L177.5,427.4L178.0,427.4L178.5,427.4L179.0,427.4L179.5,427.4L180.0,427.4L180.5,427.4L181.0,427.4L181.5,427.4L182.0,427.4L182.5,427.4L183.0,427.4L183.5,427.4L184.0,427.4L184.5,427.4L185.0,427.4L185.5,427.4L186.0,427.4L186.5,427.4L187.0,427.4L187.5,427.4L188.0,427.4L188.5,427.4L189.0,427.4L189.5,427.4L190.0,427.4L190.5,427.4L191.0,427.4L191.5,427.4L192.0,427.4L192.5,427.4L193.0,427.4L193.5,427.4L194.0,427.4L194.5,427.4L195.0,427.4L195.5,427.4L196.0,427.4L196.5,427.4L197.0,427.4L197.5,427.4L198.0,427.4L198.5,427.4L199.0,427.4L199.5,427.4L200.0,427.4L200.5,427.4L201.0,427.4L201.5,427.4L202.0,427.4L202.5,427.4L203.0,427.4L203.5,427.4L204.0,427.4L204.5,427.4L205.0,427.4L205.5,427.4L206.0,427.4L206.5,427.4L207.0,427.4L207.5,427.4L208.0,427.4L208.5,427.4L209.0,427.4L209.5,427.4L210.0,427.4L210.5,427.4L211.0,427.4L211.5,427.4L212.0,427.4L212.5,427.4L213.0,427.4L213.5,427.4L214.0,427.4L214.5,427.4L215.0,427.4L215.5,427.4L216.0,427.4L216.5,427.4L217.0,427.4L217.5,427.4L218.0,427.4L218.5,427.4L219.0,427.4L219.5,427.4L220.0,427.4L220.5,427.4L221.0,427.4L221.5,427.4L222.0,427.4L222.5,427.4L223.0,427.4L223.5,427.4L224.0,427.4L224.5,427.4L225.0,427.4L225.5,427.4L226.0,427.4L226.5,427.4L227.0,427.4L227.5,427.4L228.0,427.4L228.5,427.4L229.0,427.4L229.5,427.4L230.0,427.4L230.5,427.4L231.0,427.4L231.5,427.4L232.0,427.4L232.5,427.4L233.0,427.4L233.5,427.4L234.0,427.4L234.5,427.4L235.0,427.4L235.5,427.4L236.0,427.4L236.5,427.4L237.0,427.4L237.5,427.4L238.0,427.4L238.5,427.4L239.0,427.4L239.5,427.4L240.0,427.4L240.5,427.4L241.0,427.4L241.5,427.4L242.0,427.4L242.5,427.4L243.0,427.4L243.5,427.4L244.0,427.4L244.5,427.4L245.0,427.4L245.5,427.4L246.0,427.4L246.5,427.4L247.0,427.4L247.5,427.4L248.0,427.4L248.5,427.4L249.0,427.4L249.5,427.4L250.0,427.4L250.5,427.4L251.0,427.4L251.5,427.4L252.0,427.4L252.5,427.4L253.0,427.4L253.5,427.4L254.0,427.4L254.5,427.4L255.0,427.4L255.5,427.4L256.0,427.4L256.5,427.4L257.0,427.4L257.5,427.4L258.0,427.4L258.5,427.4L259.0,427.4L259.5,427.4L260.0,427.4L260.5,427.4L261.0,427.4L261.5,427.4L262.0,427.4L262.5,427.4L263.0,427.4L263.5,427.4L264.0,427.4L264.5,427.4L265.0,427.4L265.5,427.4L266.0,427.4L266.5,427.4L267.0,427.4L267.5,427.4L268.0,427.4L268.5,427.4L269.0,427.4L269.5,427.4L270.0,427.4L270.5,427.4L271.0,427.4L271.5,427.4L272.0,427.4L272.5,427.4L273.0,427.4L273.5,427.4L274.0,427.4L274.5,427.4L275.0,427.4L275.5,427.4L276.0,427.4L276.5,427.4L277.0,427.4L277.5,427.4L278.0,427.4L278.5,427.4L279.0,427.4L279.5,427.4L280.0,427.4L280.5,427.4L281.0,427.4L281.5,427.4L282.0,427.4L282.5,427.4L283.0,427.4L283.5,427.4L284.0,427.4L284.5,427.4L285.0,427.4L285.5,427.4L286.0,427.4L286.5,427.4L287.0,427.4L287.5,427.4L288.0,427.4L288.5,427.4L289.0,427.4L289.5,427.4L290.0,427.4L290.5,427.4L291.0,427.4L291.5,427.4L292.0,427.4L292.5,427.4L293.0,427.4L293.5,427.4L294.0,427.4L294.5,427.4L295.0,427.4L295.5,427.4L296.0,427.4L296.5,427.4L297.0,427.4L297.5,427.4L298.0,427.4L298.5,427.4L299.0,427.4L299.5,427.4L300.0,427.4L300.5,427.4L301.0,427.4L301.5,427.4L302.0,427.4L302.5,427.4L303.0,427.4L303.5,427.4L304.0,427.4L304.5,427.4L305.0,427.4L305.5,427.4L306.0,427.4L306.5,427.4L307.0,427.4L307.5,427.4L308.0,427.4L308.5,427.4L309.0,427.4L309.5,427.4L310.0,427.4L310.5,427.4L311.0,427.4L311.5,427.4L312.0,427.4L312.5,427.4L313.0,427.4L313.5,427.4L314.0,427.4L314.5,427.4L315.0,427.4L315.5,427.4L316.0,427.4L316.5,427.4L317.0,427.4L317.5,427.4L318.0,427.4L318.5,427.4L319.0,427.4L319.5,427.4L320.0,427.4L320.5,427.4L321.0,427.4L321.5,427.4L322.0,427.4L322.5,427.4L323.0,427.4L323.5,427.4L324.0,427.4L324.5,427.4L325.0,427.4L325.5,427.4L326.0,427.4L326.5,427.4L327.0,427.4L327.5,427.4L328.0,427.4L328.5,427.4L329.0,427.4L329.5,427.4L330.0,427.4L330.5,427.4L331.0,427.4L331.5,427.4L332.0,427.4L332.5,427.4L333.0,427.4L333.5,427.4L334.0,427.4L334.5,427.4L335.0,427.4L335.5,427.4L336.0,427.4L336.5,427.4L337.0,427.4L337.5,427.4L338.0,427.4L338.5,427.4L339.0,427.4L339.5,427.4L340.0,427.4L340.5,427.4L341.0,427.4L341.5,427.4L342.0,427.4L342.5,427.4L343.0,427.4L343.5,427.4L344.0,427.4L344.5,427.4L345.0,427.4L345.5,427.4L346.0,427.4L346.5,427.4L347.0,427.4L347.5,427.4L348.0,427.4L348.5,427.4L349.0,427.4L349.5,427.4L350.0,427.4L350.5,427.4L351.0,427.4L351.5,427.4L352.0,427.4L352.5,427.4L353.0,427.4L353.5,427.4L354.0,427.4L354.5,427.4L355.0,427.4L355.5,427.4L356.0,427.4L356.5,427.4L357.0,427.4L357.5,427.4L358.0,427.4L358.5,427.4L359.0,427.4L359.5,427.4L360.0,427.4L360.5,427.4L361.0,427.4L361.5,427.4L362.0,427.4L362.5,427.4L363.0,427.4L363.5,427.4L364.0,427.4L364.5,427.4L365.0,427.4L365.5,427.4L366.0,427.4L366.5,427.4L367.0,427.4L367.5,427.4L368.0,427.4L368.5,427.4L369.0,427.4L369.5,427.4L370.0,427.4L370.5,427.4L371.0,427.4L371.5,427.4L372.0,427.4L372.5,427.4L373.0,427.4L373.5,427.4L374.0,427.4L374.5,427.4L375.0,427.4L375.5,427.4L376.0,427.4L376.5,427.4L377.0,427.4L377.5,427.4L378.0,427.4L378.5,427.4L379.0,427.4L379.5,427.4L380.0,427.4L380.5,139.6L381.0,141.2L381.5,142.1L382.0,142.2L382.5,143.0L383.0,144.1L383.5,144.9L384.0,146.5L384.5,147.7L385.0,148.8L385.5,150.1L386.0,150.5L386.5,150.4L387.0,150.5L387.5,150.4L388.0,150.3L388.5,150.2L389.0,150.3L389.5,150.2L390.0,149.4L390.5,149.3L391.0,149.6L391.5,150.3L392.0,151.7L392.5,153.4L393.0,155.2L393.5,156.9L394.0,160.7L394.5,164.3L395.0,167.6L395.5,171.2L396.0,174.2L396.5,176.3L397.0,178.7L397.5,180.8L398.0,183.0L398.5,185.1L399.0,186.7L399.5,187.7L400.0,188.9L400.5,189.8L401.0,190.7L401.5,191.7L402.0,192.7L402.5,193.7L403.0,194.8L403.5,195.8L404.0,194.9L404.5,193.9L405.0,192.9L405.5,191.9L406.0,191.9L406.5,193.8L407.0,196.1L407.5,197.9L408.0,199.5L408.5,199.6L409.0,200.0L409.5,200.1L410.0,200.3L410.5,200.5L411.0,199.9L411.5,200.0L412.0,200.5L412.5,200.6L413.0,201.2L413.5,201.3L414.0,201.3L414.5,201.5L415.0,200.8L415.5,201.0L416.0,201.8L416.5,205.3L417.0,209.1L417.5,212.6L418.0,215.7L418.5,217.7L419.0,219.7L419.5,221.7L420.0,223.4L420.5,225.3L421.0,227.9L421.5,229.8L422.0,229.2L422.5,228.5L423.0,228.0L423.5,227.3L424.0,225.8L424.5,225.1L425.0,225.1L425.5,224.4L426.0,223.6L426.5,223.0L427.0,221.7L427.5,221.0L428.0,221.2L428.5,219.0L429.0,216.9L429.5,214.8L430.0,211.8L430.5,209.6L431.0,208.3L431.5,206.2L432.0,205.2L432.5,204.9L433.0,204.7L433.5,204.3L434.0,204.5L434.5,206.9L435.0,209.2L435.5,211.6L436.0,213.2L436.5,215.6L437.0,220.9L437.5,225.9L438.0,231.0L438.5,236.0L439.0,238.6L439.5,241.4L440.0,244.1L440.5,246.9L441.0,249.8L441.5,251.8L442.0,254.2L442.5,256.2L443.0,257.5L443.5,259.5L444.0,262.1L444.5,265.1L445.0,267.9L445.5,270.9L446.0,273.5L446.5,277.0L447.0,280.8L447.5,284.3L448.0,288.1L448.5,290.9L449.0,293.6L449.5,296.4L450.0,298.7L450.5,301.5L451.0,305.8L451.5,309.0L452.0,312.1L452.5,315.3L453.0,318.9L453.5,322.3L454.0,324.8L454.5,328.2L455.0,331.7L455.5,334.6L456.0,337.2L456.5,340.0L457.0,343.6L457.5,346.5L458.0,348.7L458.5,350.9L459.0,352.9L459.5,355.1L460.0,357.6L460.5,359.7L461.0,362.5L461.5,364.1L462.0,365.7L462.5,367.4L463.0,368.4L463.5,370.1L464.0,371.6L464.5,372.9L465.0,375.1L465.5,376.5L466.0,377.4L466.5,378.7L467.0,380.2L467.5,381.6L468.0,382.2L468.5,383.5L469.0,384.8L469.5,386.2L470.0,388.2L470.5,389.0L471.0,389.5L471.5,390.3L472.0,390.7L472.5,391.5L473.0,391.4L473.5,390.3L474.0,388.9L474.5,387.8L475.0,386.9L475.5,385.8L476.0,383.9L476.5,382.8L477.0,382.6L477.5,381.5L478.0,379.5L478.5,380.7L479.0,382.7L479.5,383.9L480.0,384.6L480.5,385.8L481.0,386.8L481.5,388.0L482.0,389.4L482.5,390.6L483.0,392.1L483.5,393.3L484.0,393.7L484.5,427.4L485.0,427.4L485.5,427.4L486.0,427.4L486.5,427.4L487.0,427.4L487.5,427.4L488.0,427.4L488.5,427.4L489.0,427.4L489.5,427.4L490.0,427.4L490.5,427.4L491.0,427.4L491.5,427.4L492.0,427.4L492.5,427.4L493.0,427.4L493.5,427.4L494.0,427.4L494.5,427.4L495.0,427.4L495.5,427.4L496.0,427.4L496.5,427.4L497.0,427.4L497.5,427.4L498.0,427.4L498.5,427.4L499.0,427.4L499.5,427.4L500.0,427.4L500.5,427.4L501.0,427.4L501.5,427.4L502.0,427.4L502.5,427.4L503.0,427.4L503.5,427.4L504.0,427.4L504.5,427.4L505.0,427.4L505.5,427.4L506.0,427.4L506.5,427.4L507.0,427.4L507.5,427.4L508.0,427.4L508.5,176.6L509.0,174.4L509.5,174.3L510.0,174.2L510.5,174.0L511.0,174.2L511.5,174.0L512.0,173.4L512.5,173.2L513.0,173.1L513.5,173.0L514.0,173.0L514.5,172.8L515.0,173.0L515.5,172.8L516.0,171.9L516.5,171.7L517.0,172.0L517.5,171.8L518.0,171.4L518.5,171.2L519.0,170.9L519.5,170.7L520.0,170.2L520.5,170.3L521.0,170.5L521.5,170.8L522.0,170.7L522.5,171.0L523.0,171.3L523.5,171.6L524.0,171.8L524.5,172.1L525.0,173.1L525.5,173.4L526.0,172.5L526.5,171.4L527.0,170.1L527.5,168.9L528.0,167.6L528.5,166.4L529.0,166.1L529.5,164.5L530.0,163.0L530.5,161.5L531.0,159.7L531.5,158.1L532.0,156.1L532.5,154.6L533.0,153.0L533.5,151.4L534.0,151.8L534.5,152.6L535.0,153.6L535.5,154.4L536.0,154.9L536.5,155.7L537.0,156.9L537.5,160.4L538.0,163.7L538.5,167.2L539.0,171.5L539.5,176.0L540.0,181.1L540.5,186.2L541.0,190.8L541.5,195.6L542.0,198.5L542.5,201.8L543.0,205.9L543.5,209.2L544.0,211.7L544.5,215.0L545.0,217.9L545.5,220.0L546.0,221.7L546.5,223.8L547.0,226.3L547.5,228.4L548.0,230.6L548.5,232.5L549.0,234.4L549.5,427.4L550.0,427.4L550.5,427.4L551.0,427.4L551.5,427.4L552.0,427.4L552.5,427.4L553.0,427.4L553.5,427.4L554.0,427.4L554.5,427.4L555.0,427.4L555.5,427.4L556.0,427.4L556.5,427.4L557.0,427.4L557.5,427.4L558.0,427.4L558.5,427.4L559.0,427.4L559.5,200.8L560.0,199.3L560.5,197.4L561.0,195.8L561.5,194.2L562.0,192.9L562.5,191.3L563.0,190.2L563.5,189.2L564.0,188.2L564.5,187.2L565.0,186.4L565.5,186.9L566.0,186.8L566.5,187.2L567.0,187.6L567.5,188.0L568.0,189.2L568.5,189.6L569.0,189.2L569.5,189.7L570.0,190.8L570.5,191.3L571.0,191.7L571.5,192.2L572.0,192.0L572.5,192.5L573.0,193.9L573.5,194.4L574.0,194.9L574.5,195.4L575.0,195.6L575.5,195.4L576.0,195.3L576.5,195.0L577.0,194.8L577.5,194.6L578.0,193.6L578.5,193.4L579.0,193.5L579.5,193.3L580.0,193.0L580.5,192.8L581.0,192.9L581.5,192.6L582.0,192.3L582.5,192.1L583.0,191.9L583.5,191.6L584.0,191.1L584.5,191.3L585.0,191.9L585.5,192.1L586.0,192.1L586.5,192.3L587.0,192.6L587.5,192.8L588.0,192.5L588.5,192.7L589.0,192.7L589.5,192.9L590.0,193.9L590.5,194.8L591.0,196.1L591.5,197.0L592.0,197.7L592.5,198.7L593.0,200.4L593.5,201.4L594.0,202.1L594.5,203.4L595.0,204.8L595.5,206.1L596.0,207.4L596.5,208.8L597.0,210.1L597.5,212.0L598.0,216.4L598.5,221.1L599.0,225.3L599.5,230.0L600.0,235.4L600.5,240.0L601.0,244.5L601.5,249.0L602.0,253.3L602.5,257.4L603.0,261.6L603.5,266.8L604.0,272.2L604.5,277.5L605.0,282.1L605.5,287.3L606.0,293.3L606.5,297.9L607.0,302.0L607.5,427.4L608.0,427.4L608.5,427.4L609.0,427.4L609.5,427.4L610.0,427.4L610.5,427.4L611.0,427.4L611.5,427.4L612.0,427.4L612.5,427.4L613.0,427.4L613.5,427.4L614.0,427.4L614.5,427.4L615.0,427.4L615.5,427.4L616.0,427.4L616.5,427.4L617.0,427.4L617.5,427.4L618.0,427.4L618.5,427.4L619.0,427.4L619.5,427.4L620.0,427.4L620.5,427.4L621.0,427.4L621.5,427.4L622.0,427.4L622.5,427.4L623.0,427.4L623.5,427.4L624.0,427.4L624.5,427.4L625.0,427.4L625.5,427.4L626.0,427.4L626.5,427.4L627.0,427.4L627.5,427.4L628.0,427.4L628.5,427.4L629.0,252.9L629.5,245.6L630.0,238.6L630.5,231.8L631.0,226.2L631.5,222.9L632.0,219.5L632.5,216.2L633.0,212.4L633.5,209.1L634.0,206.0L634.5,205.5L635.0,205.0L635.5,204.5L636.0,204.0L636.5,203.5L637.0,202.6L637.5,204.4L638.0,207.1L638.5,208.9L639.0,210.0L639.5,211.8L640.0,214.5L640.5,217.2L641.0,219.9L641.5,222.7L642.0,224.4L642.5,227.1L643.0,230.4L643.5,231.4L644.0,232.8L644.5,233.9L645.0,235.2L645.5,236.4L646.0,237.0L646.5,237.9L647.0,237.2L647.5,236.8L648.0,236.3L648.5,235.9L649.0,236.3L649.5,235.9L650.0,234.7L650.5,231.7L651.0,229.1L651.5,226.1L652.0,222.6L652.5,219.6L653.0,217.0L653.5,215.1L654.0,213.7L654.5,211.8L655.0,208.9L655.5,207.0L656.0,205.9L656.5,204.2L657.0,203.2L657.5,202.4L658.0,202.1L658.5,201.4L659.0,200.5L659.5,199.8L660.0,198.6L660.5,197.8L661.0,197.9L661.5,197.2L662.0,196.0L662.5,194.7L663.0,192.8L663.5,191.5L664.0,190.1L664.5,188.8L665.0,188.1L665.5,187.2L666.0,186.2L666.5,185.2L667.0,184.1L667.5,183.1L668.0,182.0L668.5,178.7L669.0,177.2L669.5,175.8L670.0,174.5L670.5,173.1L671.0,172.4L671.5,171.5L672.0,169.6L672.5,168.7L673.0,168.6L673.5,167.7L674.0,166.9L674.5,166.0L675.0,164.3L675.5,163.4L676.0,163.4L676.5,162.5L677.0,161.5L677.5,160.9L678.0,160.4L678.5,159.7L679.0,158.3L679.5,157.7L680.0,157.1L680.5,156.4L681.0,155.7L681.5,155.0L682.0,156.2L682.5,157.0L683.0,157.3L683.5,158.1L684.0,158.7L684.5,159.5L685.0,160.3L685.5,161.1L686.0,161.8L686.5,160.2L687.0,160.6L687.5,161.2L688.0,161.9L688.5,162.5L689.0,163.9L689.5,164.6L690.0,164.6L690.5,165.2L691.0,166.5L691.5,166.1L692.0,165.0L692.5,164.3L693.0,163.7L693.5,163.0L694.0,162.6L694.5,162.0L695.0,161.0L695.5,160.3L696.0,160.9L696.5,161.5L697.0,162.8L697.5,163.4L698.0,164.4L698.5,165.9L699.0,167.3L699.5,168.8L700.0,170.1L700.5,171.2L701.0,172.6L701.5,173.7L702.0,174.8L702.5,175.9L703.0,176.6L703.5,177.6L704.0,178.9L704.5,180.0L705.0,180.3L705.5,181.4L706.0,183.3L706.5,183.2L707.0,182.8L707.5,182.7L708.0,182.9L708.5,182.9L709.0,182.7L709.5,182.6L710.0,182.1L710.5,182.0L711.0,181.7L711.5,181.6L712.0,182.5L712.5,182.1L713.0,180.8L713.5,180.3L714.0,180.3L714.5,179.9L715.0,179.3L715.5,178.9L716.0,178.4L716.5,178.0L717.0,178.1L717.5,177.7L718.0,177.5L718.5,176.8L719.0,175.2L719.5,174.5L720.0,174.2L720.5,173.4L721.0,172.3L721.5,171.5L722.0,171.1L722.5,171.8L723.0,172.4L723.5,173.1L724.0,173.6L724.5,174.4L725.0,175.1L725.5,175.9L726.0,176.7L726.5,178.6L727.0,181.2L727.5,183.1L728.0,184.5L728.5,186.4L729.0,187.9L729.5,189.8L730.0,192.4L730.5,195.2L731.0,198.0L731.5,200.8L732.0,202.9L732.5,205.7L733.0,208.1L733.5,210.9L734.0,213.7L734.5,218.2L735.0,222.5L735.5,227.0L736.0,231.8L736.5,236.3L737.0,240.6L737.5,245.1L738.0,249.7L738.5,254.0L739.0,258.4L739.5,262.7L740.0,267.4L740.5,271.7L741.0,276.4L741.5,279.3L742.0,282.0L742.5,284.9L743.0,287.4L743.5,290.3L744.0,293.1L744.5,296.0L745.0,299.0L745.5,301.9L746.0,301.2L746.5,298.3L747.0,295.5L747.5,292.6L748.0,289.5L748.5,284.5L749.0,279.8L749.5,274.8L750.0,270.5L750.5,268.5L751.0,265.6L751.5,263.6L752.0,262.0L752.5,260.0L753.0,258.1L753.5,257.6L754.0,257.4L754.5,256.9L755.0,255.7L755.5,255.2L756.0,254.7L756.5,254.2L757.0,253.7L757.5,253.8L758.0,254.1L758.5,254.3L759.0,254.4L759.5,254.6L760.0,255.2L760.5,255.4L761.0,255.4L761.5,256.0L762.0,256.7L762.5,257.3L763.0,257.0L763.5,257.6L764.0,258.2L764.5,258.9L765.0,260.2L765.5,262.2L766.0,264.4L766.5,266.4L767.0,268.0L767.5,270.0L768.0,272.1L768.5,277.8L769.0,283.0L769.5,288.7L770.0,294.9L770.5,299.9L771.0,305.5L771.5,310.5L772.0,315.4L772.5,320.4L773.0,325.4L773.5,330.4L774.0,326.9L774.5,321.2L775.0,314.7L775.5,308.9L776.0,303.0L776.5,297.3L777.0,291.6L777.5,283.6L778.0,276.0L778.5,268.0L779.0,260.2L779.5,256.7L780.0,253.4L780.5,249.9L781.0,246.1L781.5,243.3L782.0,243.5L782.5,243.8L783.0,244.3L783.5,244.6L784.0,244.5L784.5,244.8L785.0,245.2L785.5,245.5L786.0,245.3L786.5,245.6L787.0,246.7L787.5,247.0L788.0,246.7L788.5,247.4L789.0,248.8L789.5,249.4L790.0,249.8L790.5,250.5L791.0,250.8L791.5,251.4L792.0,251.9L792.5,252.5L793.0,253.3L793.5,254.0L794.0,255.1L794.5,255.8L795.0,256.1L795.5,255.8L796.0,254.9L796.5,254.6L797.0,254.2L797.5,253.9L798.0,254.1L798.5,253.8L799.0,253.6L799.5,253.3L800.0,252.8L800.5,252.5L801.0,252.0L801.5,251.7L802.0,252.8L802.5,253.6L803.0,253.7L803.5,254.4L804.0,255.4L804.5,256.2L805.0,257.1L805.5,257.8L806.0,259.1L806.5,259.8L807.0,260.2L807.5,260.9L808.0,261.9L808.5,262.6L809.0,262.9L809.5,263.7L810.0,264.1L810.5,264.5L811.0,263.2L811.5,262.0L812.0,261.5L812.5,260.3L813.0,258.7L813.5,257.5L814.0,255.8L814.5,254.5L815.0,252.8L815.5,251.2L816.0,250.1L816.5,248.4L817.0,247.0L817.5,245.4L818.0,243.5L818.5,241.8L819.0,240.0L819.5,238.4L820.0,237.2L820.5,236.1L821.0,235.2L821.5,234.1L822.0,232.2L822.5,231.1L823.0,229.7L823.5,228.6L824.0,227.8L824.0,427.4Z" fill="#d3e9a8"/>
<path d="M124.0,427.4L124.0,427.4L124.5,427.4L125.0,427.4L125.5,427.4L126.0,427.4L126.5,427.4L127.0,427.4L127.5,427.4L128.0,427.4L128.5,427.4L129.0,427.4L129.5,427.4L130.0,427.4L130.5,427.4L131.0,427.4L131.5,427.4L132.0,427.4L132.5,427.4L133.0,427.4L133.5,427.4L134.0,427.4L134.5,427.4L135.0,427.4L135.5,427.4L136.0,427.4L136.5,427.4L137.0,427.4L137.5,427.4L138.0,427.4L138.5,427.4L139.0,427.4L139.5,427.4L140.0,427.4L140.5,427.4L141.0,427.4L141.5,427.4L142.0,427.4L142.5,427.4L143.0,427.4L143.5,427.4L144.0,427.4L144.5,427.4L145.0,427.4L145.5,427.4L146.0,427.4L146.5,427.4L147.0,427.4L147.5,427.4L148.0,427.4L148.5,427.4L149.0,427.4L149.5,427.4L150.0,427.4L150.5,427.4L151.0,427.4L151.5,427.4L152.0,427.4L152.5,427.4L153.0,427.4L153.5,427.4L154.0,427.4L154.5,427.4L155.0,427.4L155.5,427.4L156.0,427.4L156.5,427.4L157.0,427.4L157.5,427.4L158.0,427.4L158.5,427.4L159.0,427.4L159.5,215.4L160.0,216.7L160.5,217.3L161.0,217.6L161.5,218.2L162.0,218.6L162.5,219.2L163.0,220.1L163.5,218.8L164.0,217.3L164.5,215.9L165.0,214.4L165.5,213.1L166.0,212.3L166.5,210.6L167.0,208.7L167.5,207.0L168.0,204.7L168.5,203.0L169.0,201.6L169.5,199.8L170.0,198.0L170.5,197.3L171.0,196.9L171.5,196.2L172.0,195.3L172.5,195.1L173.0,194.4L173.5,195.6L174.0,197.6L174.5,198.8L175.0,199.1L175.5,200.3L176.0,201.9L176.5,203.9L177.0,206.3L177.5,208.3L178.0,209.6L178.5,211.6L179.0,214.0L179.5,215.0L180.0,215.5L180.5,216.5L181.0,218.2L181.5,219.2L182.0,220.3L182.5,221.3L183.0,224.9L183.5,228.7L184.0,232.8L184.5,236.6L185.0,239.8L185.5,242.7L186.0,246.1L186.5,249.0L187.0,253.6L187.5,259.4L188.0,265.2L188.5,271.0L189.0,276.7L189.5,282.5L190.0,288.7L190.5,294.6L191.0,300.5L191.5,304.7L192.0,308.5L192.5,312.7L193.0,317.2L193.5,321.5L194.0,325.0L194.5,329.3L195.0,334.3L195.5,338.5L196.0,340.8L196.5,342.0L197.0,343.5L197.5,344.6L198.0,345.6L198.5,346.7L199.0,347.2L199.5,348.4L200.0,349.6L200.5,350.7L201.0,352.2L201.5,353.2L202.0,353.5L202.5,354.5L203.0,356.0L203.5,357.0L204.0,357.6L204.5,358.6L205.0,359.6L205.5,360.6L206.0,361.5L206.5,364.5L207.0,368.3L207.5,371.3L208.0,373.6L208.5,376.6L209.0,379.7L209.5,384.1L210.0,388.6L210.5,392.9L211.0,397.8L211.5,402.2L212.0,405.6L212.5,408.8L213.0,410.7L213.5,412.1L214.0,413.7L214.5,415.1L215.0,417.0L215.5,418.4L216.0,427.4L216.5,427.4L217.0,427.4L217.5,427.4L218.0,427.4L218.5,427.4L219.0,427.4L219.5,427.4L220.0,427.4L220.5,427.4L221.0,427.4L221.5,427.4L222.0,427.4L222.5,427.4L223.0,427.4L223.5,427.4L224.0,427.4L224.5,427.4L225.0,427.4L225.5,427.4L226.0,427.4L226.5,427.4L227.0,427.4L227.5,427.4L228.0,427.4L228.5,427.4L229.0,427.4L229.5,427.4L230.0,427.4L230.5,427.4L231.0,427.4L231.5,427.4L232.0,427.4L232.5,427.4L233.0,427.4L233.5,427.4L234.0,427.4L234.5,427.4L235.0,427.4L235.5,427.4L236.0,427.4L236.5,427.4L237.0,427.4L237.5,427.4L238.0,427.4L238.5,427.4L239.0,427.4L239.5,427.4L240.0,427.4L240.5,427.4L241.0,427.4L241.5,427.4L242.0,427.4L242.5,427.4L243.0,427.4L243.5,427.4L244.0,427.4L244.5,427.4L245.0,427.4L245.5,427.4L246.0,427.4L246.5,427.4L247.0,427.4L247.5,427.4L248.0,427.4L248.5,427.4L249.0,427.4L249.5,427.4L250.0,427.4L250.5,427.4L251.0,427.4L251.5,427.4L252.0,427.4L252.5,427.4L253.0,427.4L253.5,427.4L254.0,427.4L254.5,427.4L255.0,427.4L255.5,200.2L256.0,201.7L256.5,203.3L257.0,207.3L257.5,211.7L258.0,215.7L258.5,220.1L259.0,225.4L259.5,230.2L260.0,234.7L260.5,239.5L261.0,243.8L261.5,248.7L262.0,256.4L262.5,264.7L263.0,273.2L263.5,281.5L264.0,289.9L264.5,294.4L265.0,298.7L265.5,303.3L266.0,308.7L266.5,313.2L267.0,318.0L267.5,322.5L268.0,315.6L268.5,309.2L269.0,302.8L269.5,296.4L270.0,289.5L270.5,283.1L271.0,276.8L271.5,270.4L272.0,264.2L272.5,257.8L273.0,254.7L273.5,251.7L274.0,249.4L274.5,246.4L275.0,242.6L275.5,242.0L276.0,241.1L276.5,240.5L277.0,240.8L277.5,240.2L278.0,239.0L278.5,239.2L279.0,239.0L279.5,239.2L280.0,239.8L280.5,240.0L281.0,239.7L281.5,239.9L282.0,240.6L282.5,240.8L283.0,241.5L283.5,243.8L284.0,245.9L284.5,248.1L285.0,250.2L285.5,271.6L286.0,291.3L286.5,310.5L287.0,329.9L287.5,344.9L288.0,359.6L288.5,374.6L289.0,390.3L289.5,398.2L290.0,405.9L290.5,413.9L291.0,412.8L291.5,427.4L292.0,427.4L292.5,427.4L293.0,427.4L293.5,427.4L294.0,427.4L294.5,427.4L295.0,427.4L295.5,427.4L296.0,427.4L296.5,427.4L297.0,427.4L297.5,427.4L298.0,427.4L298.5,427.4L299.0,427.4L299.5,427.4L300.0,427.4L300.5,427.4L301.0,427.4L301.5,427.4L302.0,427.4L302.5,427.4L303.0,427.4L303.5,427.4L304.0,427.4L304.5,427.4L305.0,427.4L305.5,427.4L306.0,427.4L306.5,427.4L307.0,427.4L307.5,427.4L308.0,427.4L308.5,427.4L309.0,427.4L309.5,427.4L310.0,427.4L310.5,427.4L311.0,427.4L311.5,427.4L312.0,427.4L312.5,427.4L313.0,427.4L313.5,427.4L314.0,427.4L314.5,427.4L315.0,427.4L315.5,427.4L316.0,427.4L316.5,427.4L317.0,427.4L317.5,427.4L318.0,427.4L318.5,427.4L319.0,427.4L319.5,427.4L320.0,427.4L320.5,427.4L321.0,427.4L321.5,427.4L322.0,427.4L322.5,427.4L323.0,427.4L323.5,427.4L324.0,427.4L324.5,427.4L325.0,427.4L325.5,427.4L326.0,427.4L326.5,427.4L327.0,427.4L327.5,427.4L328.0,427.4L328.5,427.4L329.0,427.4L329.5,427.4L330.0,427.4L330.5,427.4L331.0,427.4L331.5,427.4L332.0,427.4L332.5,427.4L333.0,427.4L333.5,427.4L334.0,427.4L334.5,427.4L335.0,427.4L335.5,427.4L336.0,427.4L336.5,427.4L337.0,427.4L337.5,427.4L338.0,427.4L338.5,427.4L339.0,427.4L339.5,427.4L340.0,427.4L340.5,427.4L341.0,427.4L341.5,427.4L342.0,427.4L342.5,427.4L343.0,427.4L343.5,427.4L344.0,427.4L344.5,427.4L345.0,427.4L345.5,427.4L346.0,427.4L346.5,427.4L347.0,191.3L347.5,190.0L348.0,188.5L348.5,187.2L349.0,186.2L349.5,185.0L350.0,183.3L350.5,182.0L351.0,180.7L351.5,179.4L352.0,179.3L352.5,176.9L353.0,172.4L353.5,169.3L354.0,169.8L354.5,170.4L355.0,171.5L355.5,172.1L356.0,172.2L356.5,172.8L357.0,173.9L357.5,174.5L358.0,174.8L358.5,174.0L359.0,172.6L359.5,171.8L360.0,171.0L360.5,170.3L361.0,169.5L361.5,168.7L362.0,167.9L362.5,167.1L363.0,166.7L363.5,165.9L364.0,164.8L364.5,164.0L365.0,163.4L365.5,162.6L366.0,161.4L366.5,160.4L367.0,160.2L367.5,159.2L368.0,157.6L368.5,156.5L369.0,155.6L369.5,154.6L370.0,153.7L370.5,152.7L371.0,152.1L371.5,151.3L372.0,150.4L372.5,150.0L373.0,150.2L373.5,149.8L374.0,148.9L374.5,148.6L375.0,148.2L375.5,147.8L376.0,147.4L376.5,147.1L377.0,145.5L377.5,143.4L378.0,141.8L378.5,139.8L379.0,137.5L379.5,138.2L380.0,138.7L380.5,139.6L381.0,142.3L381.5,143.6L382.0,144.1L382.5,145.4L383.0,147.0L383.5,148.2L384.0,149.7L384.5,151.0L385.0,152.1L385.5,153.1L386.0,153.8L386.5,154.8L387.0,156.0L387.5,157.0L388.0,158.1L388.5,159.1L389.0,160.3L389.5,161.3L390.0,161.6L390.5,162.6L391.0,164.1L391.5,165.1L392.0,165.7L392.5,166.7L393.0,167.8L393.5,170.6L394.0,174.0L394.5,176.8L395.0,179.3L395.5,182.2L396.0,185.1L396.5,207.6L397.0,230.3L397.5,232.0L398.0,233.8L398.5,235.5L399.0,236.6L399.5,238.3L400.0,240.1L400.5,241.8L401.0,243.3L401.5,245.0L402.0,246.7L402.5,248.3L403.0,250.2L403.5,251.9L404.0,254.8L404.5,258.3L405.0,261.9L405.5,265.4L406.0,268.9L406.5,272.4L407.0,276.4L407.5,279.9L408.0,283.2L408.5,286.7L409.0,290.4L409.5,293.9L410.0,297.5L410.5,298.0L411.0,297.7L411.5,298.2L412.0,299.1L412.5,299.6L413.0,300.5L413.5,301.0L414.0,301.4L414.5,301.9L415.0,301.6L415.5,302.1L416.0,302.6L416.5,303.1L417.0,303.9L417.5,304.4L418.0,304.5L418.5,305.0L419.0,305.7L419.5,309.3L420.0,312.7L420.5,316.3L421.0,320.6L421.5,324.2L422.0,324.5L422.5,324.8L423.0,325.1L423.5,325.3L424.0,324.7L424.5,325.0L425.0,325.8L425.5,326.0L426.0,326.2L426.5,323.5L427.0,320.3L427.5,317.6L428.0,315.8L428.5,313.1L429.0,310.5L429.5,309.8L430.0,308.2L430.5,307.4L431.0,307.5L431.5,306.7L432.0,305.4L432.5,304.6L433.0,304.0L433.5,303.2L434.0,303.0L434.5,302.3L435.0,301.4L435.5,302.0L436.0,301.9L436.5,302.5L437.0,303.4L437.5,304.0L438.0,304.8L438.5,305.4L439.0,305.8L439.5,307.3L440.0,308.7L440.5,310.2L441.0,311.8L441.5,313.4L442.0,315.5L442.5,317.1L443.0,318.0L443.5,319.6L444.0,321.8L444.5,323.4L445.0,324.9L445.5,326.6L446.0,327.7L446.5,329.3L447.0,331.3L447.5,332.9L448.0,334.9L448.5,336.5L449.0,338.0L449.5,339.5L450.0,340.5L450.5,342.0L451.0,344.5L451.5,346.0L452.0,347.3L452.5,348.8L453.0,350.5L453.5,352.0L454.0,352.6L454.5,354.1L455.0,355.7L455.5,427.4L456.0,427.4L456.5,427.4L457.0,427.4L457.5,427.4L458.0,427.4L458.5,427.4L459.0,427.4L459.5,427.4L460.0,427.4L460.5,427.4L461.0,427.4L461.5,427.4L462.0,427.4L462.5,427.4L463.0,427.4L463.5,427.4L464.0,427.4L464.5,427.4L465.0,427.4L465.5,427.4L466.0,427.4L466.5,427.4L467.0,427.4L467.5,427.4L468.0,427.4L468.5,427.4L469.0,427.4L469.5,427.4L470.0,427.4L470.5,427.4L471.0,427.4L471.5,427.4L472.0,427.4L472.5,427.4L473.0,427.4L473.5,427.4L474.0,427.4L474.5,427.4L475.0,427.4L475.5,427.4L476.0,427.4L476.5,427.4L477.0,427.4L477.5,427.4L478.0,427.4L478.5,427.4L479.0,427.4L479.5,427.4L480.0,427.4L480.5,427.4L481.0,427.4L481.5,427.4L482.0,427.4L482.5,427.4L483.0,427.4L483.5,427.4L484.0,427.4L484.5,427.4L485.0,427.4L485.5,427.4L486.0,427.4L486.5,427.4L487.0,427.4L487.5,427.4L488.0,382.6L488.5,377.7L489.0,377.7L489.5,427.4L490.0,427.4L490.5,427.4L491.0,427.4L491.5,427.4L492.0,427.4L492.5,427.4L493.0,427.4L493.5,427.4L494.0,427.4L494.5,427.4L495.0,427.4L495.5,427.4L496.0,427.4L496.5,427.4L497.0,427.4L497.5,427.4L498.0,427.4L498.5,427.4L499.0,427.4L499.5,427.4L500.0,427.4L500.5,427.4L501.0,427.4L501.5,427.4L502.0,427.4L502.5,427.4L503.0,427.4L503.5,195.1L504.0,192.4L504.5,190.2L505.0,188.6L505.5,186.8L506.0,185.6L506.5,183.8L507.0,181.1L507.5,179.4L508.0,178.4L508.5,176.6L509.0,175.1L509.5,176.1L510.0,177.1L510.5,178.1L511.0,179.4L511.5,180.4L512.0,180.9L512.5,181.4L513.0,182.0L513.5,182.5L514.0,183.2L514.5,183.7L515.0,184.5L515.5,185.0L516.0,184.8L516.5,185.3L517.0,186.4L517.5,186.9L518.0,187.2L518.5,187.7L519.0,188.1L519.5,188.6L520.0,188.9L520.5,189.4L521.0,189.8L521.5,190.3L522.0,190.5L522.5,191.0L523.0,191.6L523.5,192.1L524.0,192.5L524.5,193.0L525.0,194.3L525.5,194.8L526.0,194.7L526.5,195.2L527.0,195.6L527.5,196.1L528.0,196.5L528.5,197.0L529.0,198.4L529.5,198.9L530.0,199.4L530.5,200.0L531.0,200.4L531.5,200.9L532.0,201.1L532.5,201.7L533.0,202.2L533.5,202.8L534.0,203.4L534.5,204.0L535.0,204.8L535.5,205.4L536.0,205.6L536.5,206.5L537.0,207.7L537.5,208.6L538.0,209.2L538.5,210.1L539.0,211.8L539.5,212.6L540.0,213.5L540.5,214.5L541.0,215.1L541.5,216.1L542.0,216.7L542.5,217.7L543.0,219.5L543.5,220.5L544.0,220.8L544.5,221.8L545.0,222.8L545.5,224.3L546.0,225.5L546.5,227.0L547.0,228.9L547.5,230.4L548.0,232.0L548.5,233.0L549.0,234.4L549.5,236.3L550.0,237.8L550.5,239.1L551.0,238.1L551.5,236.7L552.0,234.8L552.5,233.5L553.0,232.4L553.5,231.1L554.0,228.5L554.5,225.5L555.0,222.8L555.5,219.8L556.0,216.4L556.5,213.4L557.0,210.4L557.5,208.4L558.0,206.8L558.5,204.8L559.0,202.8L559.5,200.8L560.0,215.1L560.5,222.6L561.0,230.0L561.5,237.5L562.0,245.3L562.5,247.1L563.0,248.8L563.5,250.7L564.0,252.6L564.5,254.4L565.0,256.4L565.5,257.3L566.0,257.7L566.5,258.6L567.0,259.5L567.5,260.4L568.0,262.1L568.5,263.0L569.0,263.0L569.5,263.9L570.0,265.5L570.5,266.4L571.0,267.2L571.5,268.2L572.0,267.8L572.5,268.1L573.0,269.2L573.5,269.5L574.0,269.8L574.5,270.1L575.0,270.1L575.5,270.4L576.0,270.8L576.5,271.0L577.0,271.4L577.5,271.7L578.0,271.2L578.5,271.5L579.0,271.9L579.5,271.6L580.0,271.3L580.5,271.0L581.0,271.1L581.5,270.8L582.0,270.5L582.5,270.3L583.0,270.0L583.5,269.7L584.0,269.2L584.5,268.9L585.0,269.0L585.5,268.7L586.0,268.2L586.5,268.6L587.0,269.0L587.5,269.5L588.0,269.4L588.5,269.8L589.0,270.0L589.5,270.4L590.0,270.9L590.5,271.3L591.0,272.0L591.5,272.4L592.0,272.6L592.5,273.1L593.0,274.4L593.5,274.9L594.0,275.1L594.5,275.6L595.0,276.2L595.5,276.7L596.0,277.2L596.5,277.8L597.0,278.3L597.5,278.8L598.0,279.2L598.5,279.7L599.0,279.6L599.5,280.5L600.0,282.6L600.5,283.9L601.0,285.1L601.5,286.4L602.0,287.5L602.5,288.7L603.0,290.1L603.5,291.4L604.0,292.8L604.5,294.3L605.0,295.3L605.5,296.8L606.0,299.1L606.5,300.7L607.0,302.0L607.5,306.7L608.0,311.1L608.5,315.3L609.0,319.6L609.5,323.8L610.0,328.5L610.5,330.8L611.0,332.5L611.5,334.8L612.0,337.6L612.5,339.9L613.0,342.5L613.5,344.8L614.0,346.5L614.5,348.8L615.0,351.0L615.5,349.5L616.0,348.2L616.5,346.8L617.0,344.4L617.5,341.8L618.0,339.2L618.5,336.6L619.0,333.8L619.5,331.2L620.0,328.0L620.5,324.7L621.0,320.8L621.5,317.5L622.0,314.3L622.5,310.5L623.0,306.9L623.5,303.2L624.0,298.8L624.5,293.9L625.0,288.5L625.5,283.6L626.0,279.0L626.5,274.0L627.0,270.2L627.5,266.9L628.0,263.8L628.5,260.1L629.0,252.9L629.5,246.9L630.0,245.0L630.5,242.6L631.0,240.2L631.5,239.2L632.0,238.2L632.5,237.2L633.0,235.8L633.5,234.8L634.0,234.0L634.5,233.0L635.0,232.0L635.5,232.4L636.0,232.8L636.5,233.2L637.0,233.2L637.5,233.6L638.0,234.8L638.5,235.2L639.0,234.9L639.5,235.3L640.0,236.5L640.5,237.8L641.0,239.0L641.5,240.2L642.0,240.5L642.5,241.7L643.0,243.5L643.5,244.7L644.0,246.4L644.5,246.6L645.0,247.0L645.5,247.3L646.0,246.9L646.5,247.2L647.0,247.2L647.5,247.5L648.0,247.7L648.5,246.7L649.0,246.5L649.5,245.5L650.0,243.7L650.5,242.7L651.0,242.1L651.5,241.1L652.0,239.6L652.5,237.7L653.0,236.3L653.5,234.4L654.0,233.0L654.5,231.1L655.0,228.3L655.5,226.5L656.0,225.4L656.5,224.1L657.0,222.5L657.5,221.3L658.0,220.4L658.5,219.2L659.0,217.7L659.5,216.5L660.0,214.7L660.5,213.5L661.0,212.9L661.5,211.7L662.0,210.0L662.5,209.0L663.0,207.5L663.5,206.5L664.0,205.5L664.5,204.5L665.0,204.0L665.5,203.0L666.0,201.9L666.5,200.9L667.0,199.8L667.5,198.8L668.0,197.6L668.5,196.6L669.0,195.8L669.5,194.8L670.0,193.8L670.5,192.8L671.0,192.4L671.5,191.4L672.0,189.5L672.5,188.5L673.0,188.3L673.5,187.3L674.0,186.4L674.5,185.4L675.0,183.6L675.5,182.6L676.0,182.5L676.5,181.5L677.0,180.2L677.5,179.2L678.0,178.4L678.5,177.4L679.0,175.8L679.5,174.8L680.0,173.9L680.5,173.4L681.0,172.9L681.5,172.4L682.0,172.5L682.5,172.0L683.0,171.1L683.5,170.6L684.0,169.8L684.5,170.3L685.0,170.9L685.5,171.4L686.0,171.8L686.5,172.3L687.0,172.5L687.5,173.0L688.0,173.6L688.5,174.1L689.0,175.4L689.5,175.9L690.0,175.8L690.5,177.7L691.0,180.3L691.5,182.2L692.0,183.3L692.5,185.2L693.0,187.1L693.5,189.0L694.0,191.2L694.5,193.1L695.0,194.7L695.5,198.7L696.0,202.9L696.5,206.9L697.0,211.5L697.5,215.5L698.0,219.4L698.5,223.4L699.0,227.3L699.5,231.3L700.0,235.1L700.5,239.1L701.0,243.4L701.5,247.4L702.0,251.4L702.5,255.4L703.0,258.9L703.5,262.9L704.0,267.1L704.5,271.1L705.0,274.3L705.5,278.3L706.0,280.3L706.5,280.8L707.0,280.9L707.5,281.4L708.0,282.3L708.5,282.8L709.0,283.2L709.5,283.7L710.0,283.8L710.5,284.3L711.0,284.5L711.5,285.0L712.0,286.5L712.5,287.0L713.0,286.6L713.5,287.1L714.0,288.0L714.5,288.5L715.0,287.6L715.5,287.0L716.0,286.2L716.5,285.5L717.0,285.3L717.5,284.7L718.0,284.2L718.5,283.5L719.0,282.1L719.5,281.4L720.0,281.1L720.5,280.5L721.0,279.4L721.5,281.0L722.0,282.9L722.5,284.5L723.0,285.9L723.5,287.5L724.0,288.9L724.5,290.5L725.0,292.1L725.5,293.7L726.0,295.4L726.5,297.0L727.0,299.4L727.5,301.0L728.0,302.2L728.5,303.8L729.0,305.1L729.5,306.7L730.0,309.0L730.5,310.5L731.0,312.1L731.5,313.6L732.0,314.4L732.5,315.9L733.0,317.0L733.5,318.5L734.0,320.0L734.5,321.5L735.0,322.9L735.5,324.3L736.0,326.1L736.5,327.5L737.0,328.7L737.5,330.1L738.0,331.6L738.5,333.0L739.0,334.4L739.5,335.8L740.0,337.5L740.5,338.9L741.0,340.6L741.5,342.0L742.0,343.2L742.5,343.9L743.0,341.6L743.5,339.6L744.0,337.7L744.5,335.7L745.0,333.9L745.5,332.0L746.0,329.9L746.5,326.9L747.0,323.8L747.5,320.8L748.0,317.5L748.5,314.5L749.0,311.8L749.5,308.8L750.0,306.5L750.5,305.4L751.0,303.3L751.5,302.2L752.0,301.4L752.5,300.3L753.0,299.3L753.5,298.1L754.0,296.9L754.5,295.3L755.0,293.1L755.5,291.5L756.0,290.0L756.5,288.5L757.0,286.9L757.5,285.4L758.0,284.0L758.5,282.4L759.0,280.9L759.5,279.7L760.0,279.1L760.5,277.9L761.0,276.6L761.5,275.4L762.0,274.2L762.5,273.0L763.0,270.9L763.5,269.7L764.0,270.5L764.5,271.7L765.0,273.7L765.5,275.0L766.0,276.4L766.5,277.7L767.0,278.5L767.5,279.7L768.0,281.1L768.5,285.8L769.0,290.0L769.5,294.7L770.0,299.9L770.5,304.6L771.0,309.9L771.5,427.4L772.0,427.4L772.5,427.4L773.0,427.4L773.5,427.4L774.0,427.4L774.5,427.4L775.0,319.7L775.5,314.7L776.0,309.6L776.5,304.6L777.0,299.6L777.5,291.6L778.0,284.0L778.5,276.0L779.0,268.2L779.5,263.8L780.0,259.7L780.5,255.4L781.0,250.7L781.5,247.3L782.0,247.5L782.5,247.8L783.0,248.3L783.5,248.6L784.0,248.5L784.5,248.8L785.0,249.2L785.5,249.5L786.0,249.3L786.5,249.6L787.0,250.7L787.5,251.0L788.0,250.7L788.5,251.4L789.0,252.8L789.5,253.4L790.0,253.8L790.5,254.5L791.0,254.8L791.5,255.4L792.0,255.9L792.5,256.5L793.0,257.3L793.5,258.0L794.0,259.1L794.5,259.8L795.0,260.1L795.5,259.8L796.0,258.9L796.5,258.6L797.0,258.2L797.5,257.9L798.0,258.1L798.5,257.8L799.0,257.6L799.5,257.3L800.0,256.8L800.5,256.5L801.0,256.0L801.5,255.7L802.0,256.8L802.5,257.6L803.0,257.7L803.5,258.4L804.0,259.4L804.5,260.2L805.0,261.1L805.5,261.8L806.0,263.1L806.5,263.8L807.0,264.2L807.5,264.9L808.0,265.9L808.5,266.6L809.0,266.9L809.5,267.7L810.0,268.1L810.5,268.5L811.0,267.2L811.5,266.0L812.0,265.5L812.5,264.3L813.0,262.7L813.5,261.5L814.0,259.8L814.5,258.5L815.0,256.8L815.5,255.2L816.0,254.1L816.5,252.4L817.0,251.0L817.5,249.4L818.0,247.5L818.5,245.8L819.0,244.0L819.5,242.4L820.0,241.2L820.5,240.1L821.0,239.2L821.5,238.1L822.0,236.2L822.5,235.1L823.0,233.7L823.5,232.6L824.0,231.8L824.0,427.4Z" fill="#f9fabb"/>
<path d="M124.0,427.4L124.0,427.4L124.5,427.4L125.0,427.4L125.5,427.4L126.0,427.4L126.5,427.4L127.0,427.4L127.5,427.4L128.0,427.4L128.5,427.4L129.0,427.4L129.5,427.4L130.0,427.4L130.5,283.6L131.0,278.2L131.5,272.4L132.0,266.0L132.5,260.1L133.0,254.6L133.5,249.1L134.0,244.3L134.5,240.0L135.0,235.6L135.5,231.3L136.0,227.3L136.5,223.0L137.0,219.1L137.5,214.7L138.0,209.6L138.5,205.8L139.0,202.2L139.5,198.4L140.0,195.1L140.5,191.4L141.0,188.0L141.5,184.2L142.0,180.1L142.5,178.1L143.0,175.9L143.5,173.9L144.0,172.5L144.5,170.5L145.0,168.6L145.5,167.7L146.0,167.7L146.5,168.5L147.0,168.6L147.5,169.4L148.0,170.0L148.5,170.8L149.0,171.6L149.5,173.8L150.0,176.3L150.5,178.5L151.0,181.3L151.5,183.6L152.0,185.1L152.5,187.4L153.0,190.1L153.5,192.3L154.0,194.7L154.5,196.9L155.0,198.9L155.5,201.1L156.0,203.6L156.5,205.8L157.0,207.5L157.5,209.1L158.0,210.6L158.5,212.1L159.0,213.8L159.5,215.4L160.0,271.2L160.5,275.1L161.0,278.7L161.5,282.7L162.0,286.4L162.5,290.4L163.0,294.6L163.5,298.5L164.0,302.3L164.5,306.2L165.0,308.4L165.5,310.5L166.0,313.1L166.5,315.1L167.0,317.0L167.5,319.1L168.0,320.6L168.5,322.7L169.0,325.1L169.5,326.6L170.0,328.0L170.5,329.6L171.0,331.5L171.5,333.0L172.0,334.3L172.5,335.8L173.0,336.9L173.5,338.4L174.0,340.0L174.5,340.8L175.0,340.6L175.5,341.5L176.0,342.6L176.5,343.4L177.0,344.6L177.5,345.5L178.0,345.6L178.5,346.3L179.0,347.3L179.5,348.0L180.0,348.2L180.5,348.8L181.0,350.2L181.5,350.9L182.0,351.6L182.5,352.3L183.0,352.6L183.5,353.2L184.0,354.0L184.5,354.6L185.0,354.5L185.5,355.1L186.0,356.0L186.5,356.6L187.0,357.0L187.5,357.6L188.0,358.1L188.5,358.7L189.0,359.1L189.5,359.7L190.0,360.7L190.5,361.2L191.0,361.9L191.5,362.5L192.0,362.5L192.5,363.1L193.0,363.9L193.5,364.5L194.0,364.4L194.5,364.9L195.0,366.2L195.5,367.2L196.0,368.2L196.5,369.2L197.0,370.5L197.5,371.5L198.0,372.4L198.5,373.4L199.0,373.8L199.5,374.8L200.0,375.9L200.5,377.5L201.0,379.4L201.5,381.0L202.0,381.9L202.5,383.5L203.0,385.6L203.5,387.2L204.0,388.4L204.5,390.0L205.0,391.6L205.5,393.5L206.0,395.4L206.5,397.3L207.0,400.1L207.5,402.0L208.0,403.3L208.5,405.2L209.0,406.4L209.5,427.4L210.0,427.4L210.5,427.4L211.0,427.4L211.5,427.4L212.0,427.4L212.5,427.4L213.0,427.4L213.5,427.4L214.0,427.4L214.5,427.4L215.0,427.4L215.5,427.4L216.0,427.4L216.5,427.4L217.0,427.4L217.5,427.4L218.0,427.4L218.5,427.4L219.0,427.4L219.5,427.4L220.0,427.4L220.5,427.4L221.0,427.4L221.5,427.4L222.0,427.4L222.5,427.4L223.0,427.4L223.5,427.4L224.0,427.4L224.5,427.4L225.0,427.4L225.5,427.4L226.0,427.4L226.5,427.4L227.0,225.0L227.5,219.8L228.0,214.7L228.5,209.5L229.0,203.9L229.5,198.5L230.0,192.3L230.5,186.4L231.0,180.9L231.5,174.9L232.0,171.0L232.5,167.1L233.0,163.4L233.5,159.5L234.0,162.5L234.5,165.2L235.0,167.6L235.5,170.2L236.0,174.4L236.5,178.7L237.0,183.1L237.5,185.2L238.0,187.3L238.5,189.4L239.0,189.8L239.5,190.2L240.0,191.6L240.5,192.0L241.0,192.3L241.5,192.6L242.0,193.1L242.5,193.4L243.0,193.7L243.5,194.0L244.0,193.9L244.5,193.5L245.0,193.2L245.5,192.9L246.0,192.2L246.5,191.9L247.0,192.1L247.5,191.4L248.0,190.0L248.5,189.3L249.0,188.5L249.5,187.8L250.0,187.2L250.5,188.3L251.0,189.4L251.5,190.5L252.0,191.8L252.5,192.8L253.0,193.5L253.5,194.5L254.0,195.5L254.5,197.0L255.0,198.7L255.5,200.2L256.0,229.6L256.5,234.6L257.0,239.8L257.5,244.8L258.0,249.5L258.5,254.5L259.0,260.4L259.5,264.2L260.0,267.6L260.5,271.4L261.0,274.6L261.5,278.4L262.0,282.2L262.5,286.0L263.0,289.8L263.5,294.8L264.0,299.9L264.5,304.9L265.0,309.6L265.5,314.6L266.0,320.4L266.5,326.6L267.0,333.0L267.5,339.3L268.0,345.0L268.5,346.1L269.0,347.2L269.5,348.4L270.0,349.0L270.5,350.2L271.0,351.3L271.5,352.4L272.0,353.8L272.5,354.2L273.0,354.5L273.5,354.9L274.0,356.0L274.5,356.4L275.0,356.0L275.5,356.4L276.0,356.7L276.5,357.1L277.0,358.5L277.5,359.2L278.0,359.5L278.5,360.3L279.0,360.6L279.5,361.4L280.0,362.5L280.5,363.3L281.0,363.5L281.5,364.5L282.0,366.0L282.5,367.0L283.0,368.5L283.5,369.5L284.0,370.4L284.5,371.4L285.0,372.2L285.5,376.7L286.0,380.7L286.5,385.2L287.0,389.9L287.5,427.4L288.0,427.4L288.5,427.4L289.0,427.4L289.5,427.4L290.0,427.4L290.5,427.4L291.0,427.4L291.5,427.4L292.0,427.4L292.5,427.4L293.0,427.4L293.5,427.4L294.0,427.4L294.5,427.4L295.0,427.4L295.5,427.4L296.0,427.4L296.5,427.4L297.0,427.4L297.5,427.4L298.0,427.4L298.5,427.4L299.0,427.4L299.5,427.4L300.0,427.4L300.5,427.4L301.0,427.4L301.5,427.4L302.0,427.4L302.5,427.4L303.0,427.4L303.5,427.4L304.0,427.4L304.5,427.4L305.0,427.4L305.5,427.4L306.0,427.4L306.5,427.4L307.0,427.4L307.5,427.4L308.0,427.4L308.5,427.4L309.0,427.4L309.5,427.4L310.0,427.4L310.5,427.4L311.0,427.4L311.5,427.4L312.0,427.4L312.5,427.4L313.0,427.4L313.5,427.4L314.0,427.4L314.5,427.4L315.0,427.4L315.5,427.4L316.0,427.4L316.5,427.4L317.0,427.4L317.5,427.4L318.0,427.4L318.5,427.4L319.0,427.4L319.5,427.4L320.0,427.4L320.5,427.4L321.0,427.4L321.5,427.4L322.0,427.4L322.5,427.4L323.0,427.4L323.5,427.4L324.0,427.4L324.5,427.4L325.0,427.4L325.5,427.4L326.0,427.4L326.5,427.4L327.0,427.4L327.5,427.4L328.0,252.3L328.5,251.8L329.0,251.0L329.5,250.5L330.0,249.6L330.5,249.1L331.0,249.3L331.5,248.0L332.0,246.2L332.5,245.0L333.0,244.2L333.5,242.9L334.0,241.8L334.5,240.5L335.0,235.2L335.5,230.5L336.0,225.8L336.5,221.1L337.0,217.0L337.5,212.3L338.0,209.2L338.5,209.2L339.0,208.6L339.5,208.6L340.0,208.6L340.5,208.6L341.0,208.6L341.5,206.7L342.0,205.7L342.5,203.8L343.0,201.8L343.5,200.1L344.0,198.1L344.5,196.9L345.0,196.4L345.5,195.2L346.0,194.1L346.5,192.9L347.0,191.3L347.5,196.0L348.0,214.8L348.5,217.0L349.0,219.3L349.5,221.4L350.0,223.1L350.5,225.2L351.0,227.2L351.5,229.3L352.0,232.5L352.5,234.8L353.0,236.7L353.5,238.9L354.0,241.0L354.5,243.3L355.0,246.0L355.5,248.2L356.0,249.9L356.5,253.7L357.0,257.9L357.5,261.7L358.0,265.4L358.5,269.1L359.0,272.2L359.5,275.9L360.0,279.7L360.5,283.1L361.0,286.4L361.5,289.8L362.0,293.0L362.5,296.4L363.0,300.1L363.5,303.4L364.0,306.4L364.5,309.7L365.0,313.2L365.5,316.6L366.0,319.6L366.5,321.1L367.0,323.5L367.5,325.0L368.0,325.8L368.5,327.3L369.0,329.0L369.5,330.5L370.0,332.1L370.5,333.1L371.0,334.5L371.5,335.5L372.0,336.0L372.5,337.0L373.0,338.6L373.5,339.7L374.0,340.2L374.5,341.2L375.0,342.3L375.5,343.3L376.0,344.4L376.5,345.4L377.0,345.9L377.5,346.9L378.0,348.4L378.5,349.4L379.0,350.1L379.5,351.2L380.0,352.0L380.5,353.0L381.0,354.9L381.5,355.6L382.0,355.6L382.5,356.3L383.0,357.3L383.5,358.0L384.0,358.9L384.5,359.6L385.0,360.1L385.5,360.8L386.0,361.2L386.5,361.9L387.0,362.8L387.5,363.5L388.0,364.2L388.5,364.9L389.0,365.8L389.5,366.5L390.0,366.4L390.5,367.1L391.0,368.3L391.5,369.0L392.0,369.3L392.5,370.0L393.0,370.6L393.5,371.2L394.0,372.4L394.5,373.0L395.0,373.3L395.5,373.9L396.0,374.6L396.5,375.2L397.0,376.0L397.5,376.7L398.0,377.4L398.5,378.1L399.0,378.1L399.5,378.8L400.0,379.6L400.5,380.2L401.0,380.7L401.5,381.3L402.0,381.9L402.5,382.5L403.0,383.3L403.5,383.5L404.0,381.8L404.5,380.4L405.0,379.0L405.5,377.6L406.0,376.8L406.5,376.4L407.0,376.5L407.5,376.2L408.0,375.6L408.5,375.2L409.0,375.0L409.5,374.7L410.0,374.4L410.5,374.0L411.0,372.9L411.5,372.5L412.0,372.5L412.5,372.1L413.0,372.2L413.5,371.8L414.0,371.4L414.5,371.0L415.0,369.9L415.5,369.5L416.0,369.1L416.5,368.8L417.0,368.8L417.5,368.4L418.0,367.6L418.5,367.3L419.0,367.1L419.5,366.7L420.0,366.2L420.5,365.8L421.0,366.1L421.5,365.4L422.0,364.2L422.5,362.9L423.0,361.8L423.5,360.5L424.0,358.4L424.5,357.1L425.0,356.5L425.5,355.2L426.0,353.8L426.5,352.5L427.0,350.7L427.5,349.4L428.0,348.9L428.5,347.7L429.0,346.5L429.5,345.2L430.0,343.1L430.5,341.9L431.0,341.5L431.5,340.3L432.0,338.5L432.5,337.3L433.0,336.1L433.5,334.9L434.0,334.3L434.5,333.1L435.0,331.9L435.5,331.0L436.0,329.3L436.5,328.4L437.0,328.1L437.5,328.9L438.0,329.8L438.5,330.6L439.0,331.2L439.5,332.0L440.0,332.7L440.5,333.3L441.0,334.1L441.5,334.7L442.0,335.8L442.5,336.5L443.0,336.3L443.5,337.0L444.0,338.2L444.5,338.8L445.0,339.4L445.5,340.0L446.0,340.2L446.5,340.8L447.0,341.8L447.5,342.6L448.0,343.8L448.5,344.6L449.0,345.3L449.5,346.2L450.0,346.5L450.5,347.4L451.0,349.2L451.5,350.0L452.0,350.7L452.5,351.5L453.0,352.5L453.5,353.5L454.0,353.6L454.5,354.6L455.0,355.7L455.5,357.2L456.0,358.5L456.5,360.0L457.0,362.3L457.5,363.6L458.0,364.3L458.5,365.6L459.0,366.8L459.5,368.1L460.0,369.7L460.5,371.0L461.0,372.9L461.5,374.2L462.0,375.4L462.5,376.7L463.0,377.3L463.5,378.6L464.0,379.8L464.5,381.1L465.0,383.3L465.5,384.6L466.0,385.5L466.5,386.8L467.0,388.2L467.5,388.8L468.0,388.6L468.5,389.2L469.0,389.7L469.5,390.2L470.0,391.5L470.5,392.0L471.0,392.3L471.5,392.8L472.0,393.0L472.5,393.5L473.0,393.4L473.5,427.4L474.0,427.4L474.5,427.4L475.0,427.4L475.5,427.4L476.0,427.4L476.5,427.4L477.0,427.4L477.5,427.4L478.0,427.4L478.5,427.4L479.0,384.4L479.5,385.4L480.0,385.9L480.5,386.9L481.0,387.8L481.5,388.8L482.0,390.1L482.5,391.1L483.0,392.5L483.5,393.5L484.0,393.7L484.5,392.4L485.0,390.9L485.5,390.3L486.0,388.6L486.5,387.2L487.0,385.5L487.5,384.1L488.0,382.6L488.5,378.4L489.0,377.7L489.5,427.4L490.0,427.4L490.5,427.4L491.0,427.4L491.5,427.4L492.0,427.4L492.5,427.4L493.0,427.4L493.5,427.4L494.0,427.4L494.5,427.4L495.0,427.4L495.5,302.2L496.0,262.4L496.5,252.4L497.0,241.9L497.5,231.9L498.0,228.0L498.5,223.8L499.0,219.3L499.5,215.2L500.0,211.4L500.5,208.4L501.0,205.8L501.5,203.6L502.0,202.1L502.5,199.8L503.0,197.4L503.5,195.1L504.0,194.7L504.5,198.0L505.0,201.6L505.5,205.0L506.0,208.8L506.5,212.1L507.0,214.6L507.5,217.1L508.0,220.4L508.5,222.9L509.0,224.9L509.5,227.4L510.0,230.0L510.5,232.5L511.0,235.4L511.5,237.9L512.0,239.9L512.5,242.0L513.0,244.2L513.5,246.3L514.0,248.5L514.5,250.6L515.0,253.0L515.5,255.1L516.0,256.5L516.5,258.6L517.0,261.2L517.5,263.3L518.0,265.2L518.5,266.9L519.0,268.5L519.5,270.1L520.0,271.6L520.5,273.2L521.0,274.8L521.5,276.5L522.0,277.8L522.5,279.5L523.0,281.3L523.5,282.9L524.0,284.5L524.5,285.8L525.0,287.8L525.5,289.0L526.0,289.7L526.5,291.0L527.0,292.1L527.5,293.4L528.0,294.5L528.5,295.8L529.0,297.9L529.5,299.1L530.0,300.4L530.5,301.6L531.0,302.6L531.5,303.8L532.0,304.6L532.5,305.8L533.0,306.9L533.5,308.1L534.0,309.4L534.5,310.6L535.0,312.0L535.5,313.3L536.0,314.3L536.5,315.6L537.0,317.3L537.5,318.6L538.0,319.7L538.5,327.2L539.0,335.5L539.5,343.0L540.0,350.5L540.5,362.9L541.0,374.7L541.5,387.1L542.0,390.3L542.5,393.8L543.0,398.2L543.5,401.7L544.0,404.5L544.5,408.1L545.0,407.2L545.5,405.1L546.0,402.7L546.5,400.6L547.0,399.0L547.5,396.9L548.0,395.0L548.5,390.8L549.0,386.7L549.5,382.5L550.0,378.0L550.5,373.8L551.0,370.0L551.5,365.0L552.0,359.5L552.5,354.5L553.0,349.7L553.5,344.7L554.0,339.5L554.5,334.5L555.0,329.9L555.5,324.9L556.0,319.5L556.5,318.0L557.0,316.5L557.5,315.0L558.0,313.8L558.5,313.6L559.0,313.4L559.5,313.3L560.0,313.5L560.5,313.4L561.0,313.2L561.5,313.0L562.0,313.1L562.5,313.0L563.0,312.7L563.5,312.6L564.0,312.5L564.5,312.4L565.0,312.4L565.5,312.5L566.0,312.0L566.5,312.0L567.0,312.0L567.5,312.1L568.0,312.8L568.5,312.9L569.0,312.0L569.5,312.1L570.0,312.7L570.5,312.8L571.0,312.8L571.5,312.8L572.0,312.2L572.5,312.2L573.0,313.2L573.5,313.2L574.0,313.3L574.5,313.4L575.0,313.1L575.5,313.2L576.0,313.4L576.5,313.4L577.0,313.6L577.5,313.6L578.0,312.9L578.5,313.0L579.0,313.5L579.5,313.5L580.0,313.6L580.5,313.6L581.0,314.0L581.5,314.1L582.0,314.1L582.5,314.2L583.0,314.2L583.5,314.3L584.0,314.1L584.5,316.8L585.0,319.8L585.5,322.4L586.0,324.9L586.5,327.5L587.0,330.2L587.5,332.2L588.0,333.7L588.5,335.7L589.0,337.5L589.5,339.5L590.0,341.6L590.5,343.6L591.0,345.8L591.5,347.8L592.0,349.6L592.5,349.9L593.0,351.0L593.5,351.4L594.0,351.4L594.5,351.7L595.0,352.1L595.5,352.5L596.0,352.8L596.5,353.1L597.0,353.5L597.5,353.9L598.0,354.0L598.5,354.5L599.0,354.5L599.5,355.0L600.0,356.3L600.5,356.8L601.0,357.3L601.5,357.8L602.0,358.0L602.5,358.5L603.0,359.0L603.5,359.5L604.0,360.2L604.5,362.7L605.0,364.5L605.5,367.0L606.0,370.3L606.5,372.8L607.0,374.7L607.5,377.2L608.0,379.5L608.5,382.8L609.0,386.2L609.5,389.5L610.0,393.3L610.5,396.5L611.0,399.2L611.5,402.4L612.0,406.3L612.5,403.5L613.0,401.0L613.5,398.3L614.0,395.0L614.5,394.3L615.0,393.4L615.5,392.6L616.0,392.0L616.5,391.3L617.0,388.8L617.5,384.8L618.0,380.9L618.5,376.9L619.0,372.7L619.5,368.7L620.0,427.4L620.5,427.4L621.0,427.4L621.5,427.4L622.0,427.4L622.5,427.4L623.0,427.4L623.5,427.4L624.0,427.4L624.5,427.4L625.0,427.4L625.5,427.4L626.0,427.4L626.5,427.4L627.0,427.4L627.5,427.4L628.0,427.4L628.5,427.4L629.0,427.4L629.5,427.4L630.0,427.4L630.5,427.4L631.0,427.4L631.5,427.4L632.0,309.2L632.5,306.9L633.0,304.3L633.5,302.0L634.0,300.0L634.5,299.9L635.0,299.6L635.5,299.5L636.0,299.3L636.5,299.1L637.0,298.6L637.5,298.4L638.0,299.1L638.5,298.9L639.0,298.0L639.5,297.8L640.0,298.5L640.5,298.5L641.0,298.5L641.5,298.5L642.0,297.5L642.5,297.5L643.0,298.0L643.5,298.0L644.0,298.4L644.5,298.4L645.0,298.5L645.5,298.5L646.0,297.9L646.5,297.9L647.0,297.7L647.5,297.7L648.0,297.7L648.5,297.7L649.0,298.5L649.5,298.5L650.0,297.7L650.5,297.7L651.0,298.2L651.5,298.2L652.0,297.8L652.5,297.9L653.0,298.3L653.5,298.4L654.0,298.9L654.5,298.9L655.0,298.1L655.5,298.1L656.0,299.0L656.5,299.0L657.0,298.7L657.5,298.8L658.0,299.2L658.5,299.3L659.0,299.1L659.5,299.2L660.0,298.7L660.5,298.8L661.0,299.5L661.5,299.6L662.0,299.2L662.5,299.2L663.0,298.8L663.5,298.8L664.0,298.9L664.5,298.9L665.0,299.5L665.5,299.5L666.0,299.5L666.5,299.6L667.0,299.5L667.5,299.5L668.0,299.4L668.5,299.5L669.0,299.7L669.5,299.8L670.0,299.8L670.5,299.9L671.0,300.6L671.5,300.7L672.0,299.9L672.5,300.0L673.0,300.9L673.5,301.0L674.0,301.2L674.5,301.3L675.0,300.6L675.5,300.7L676.0,301.7L676.5,301.8L677.0,301.6L677.5,301.7L678.0,302.0L678.5,302.1L679.0,301.6L679.5,301.7L680.0,301.9L680.5,302.4L681.0,302.9L681.5,303.4L682.0,304.5L682.5,305.0L683.0,305.1L683.5,305.6L684.0,305.8L684.5,309.3L685.0,312.9L685.5,316.4L686.0,319.8L686.5,324.8L687.0,329.5L687.5,334.5L688.0,339.6L688.5,340.7L689.0,342.6L689.5,343.7L690.0,344.2L690.5,345.3L691.0,347.1L691.5,348.3L692.0,348.6L692.5,349.7L693.0,350.7L693.5,351.6L694.0,352.8L694.5,353.8L695.0,354.4L695.5,355.3L696.0,356.5L696.5,357.4L697.0,359.0L697.5,360.1L698.0,361.1L698.5,362.1L699.0,363.1L699.5,364.2L700.0,365.0L700.5,366.1L701.0,367.5L701.5,368.5L702.0,369.6L702.5,370.5L703.0,370.4L703.5,370.7L704.0,371.2L704.5,371.6L705.0,371.1L705.5,371.4L706.0,372.5L706.5,372.8L707.0,372.8L707.5,373.1L708.0,373.8L708.5,373.0L709.0,372.1L709.5,371.3L710.0,370.1L710.5,369.3L711.0,368.2L711.5,367.5L712.0,367.6L712.5,366.8L713.0,365.2L713.5,364.4L714.0,364.0L714.5,363.2L715.0,362.2L715.5,361.5L716.0,360.6L716.5,359.9L717.0,359.6L717.5,358.8L718.0,358.3L718.5,357.5L719.0,356.0L719.5,355.2L720.0,354.9L720.5,354.1L721.0,352.9L721.5,352.2L722.0,351.7L722.5,350.9L723.0,350.0L723.5,349.2L724.0,348.8L724.5,349.1L725.0,349.5L725.5,349.8L726.0,350.1L726.5,350.5L727.0,351.5L727.5,351.9L728.0,351.7L728.5,352.0L729.0,352.1L729.5,352.4L730.0,353.4L730.5,354.6L731.0,355.8L731.5,356.9L732.0,357.4L732.5,358.6L733.0,359.4L733.5,360.5L734.0,361.7L734.5,362.2L735.0,362.5L735.5,363.0L736.0,363.8L736.5,364.3L737.0,364.6L737.5,365.1L738.0,365.7L738.5,363.7L739.0,361.7L739.5,359.7L740.0,358.1L740.5,356.1L741.0,354.4L741.5,352.4L742.0,350.3L742.5,347.8L743.0,344.9L743.5,342.4L744.0,339.9L744.5,337.4L745.0,335.0L745.5,332.5L746.0,329.9L746.5,328.2L747.0,326.5L747.5,324.8L748.0,322.9L748.5,321.2L749.0,319.8L749.5,318.1L750.0,317.2L750.5,315.5L751.0,313.0L751.5,311.5L752.0,310.4L752.5,309.0L753.0,307.6L753.5,306.1L754.0,304.9L754.5,303.4L755.0,301.2L755.5,299.8L756.0,298.3L756.5,298.0L757.0,297.7L757.5,297.3L758.0,297.2L758.5,296.8L759.0,296.6L759.5,296.2L760.0,296.5L760.5,296.1L761.0,295.7L761.5,295.4L762.0,295.1L762.5,294.7L763.0,293.5L763.5,293.1L764.0,293.1L764.5,294.1L765.0,295.9L765.5,296.9L766.0,298.2L766.5,299.2L767.0,299.8L767.5,300.8L768.0,301.9L768.5,303.0L769.0,303.4L769.5,304.7L770.0,306.5L770.5,307.8L771.0,309.9L771.5,314.6L772.0,319.2L772.5,324.0L773.0,328.7L773.5,333.4L774.0,330.5L774.5,325.5L775.0,319.7L775.5,316.4L776.0,314.0L776.5,311.8L777.0,309.6L777.5,308.2L778.0,307.2L778.5,305.8L779.0,304.6L779.5,303.2L780.0,302.1L780.5,300.7L781.0,299.0L781.5,297.6L782.0,296.2L782.5,295.8L783.0,295.6L783.5,295.3L784.0,294.7L784.5,294.3L785.0,294.1L785.5,293.8L786.0,292.9L786.5,292.6L787.0,293.1L787.5,292.7L788.0,291.8L788.5,291.5L789.0,291.9L789.5,291.6L790.0,291.0L790.5,291.0L791.0,290.7L791.5,290.8L792.0,290.7L792.5,290.8L793.0,291.0L793.5,291.0L794.0,291.5L794.5,291.6L795.0,291.7L795.5,291.8L796.0,291.2L796.5,291.3L797.0,291.3L797.5,291.4L798.0,292.0L798.5,292.1L799.0,292.2L799.5,292.3L800.0,292.1L800.5,292.2L801.0,292.1L801.5,292.2L802.0,292.6L802.5,292.7L803.0,292.1L803.5,292.2L804.0,292.6L804.5,292.7L805.0,292.9L805.5,293.0L806.0,293.6L806.5,293.7L807.0,293.4L807.5,293.5L808.0,293.8L808.5,293.6L809.0,293.0L809.5,292.7L810.0,292.3L810.5,292.1L811.0,291.9L811.5,291.7L812.0,292.2L812.5,292.0L813.0,291.5L813.5,291.3L814.0,290.7L814.5,290.5L815.0,290.0L815.5,289.8L816.0,290.1L816.5,289.9L817.0,289.9L817.5,289.6L818.0,289.2L818.5,289.0L819.0,288.6L819.5,288.4L820.0,288.6L820.5,288.4L821.0,288.5L821.5,288.1L822.0,287.0L822.5,286.7L823.0,286.2L823.5,285.8L824.0,285.8L824.0,427.4Z" fill="#feeaab"/>
<path d="M124.0,428.6L124.0,428.6L124.5,410.4L125.0,386.7L125.5,363.1L126.0,340.2L126.5,333.9L127.0,327.0L127.5,320.8L128.0,315.0L128.5,308.8L129.0,302.4L129.5,296.1L130.0,289.5L130.5,283.7L131.0,278.3L131.5,272.5L132.0,266.2L132.5,260.3L133.0,254.9L133.5,252.9L134.0,250.5L134.5,255.4L135.0,260.3L135.5,265.2L136.0,270.4L136.5,275.3L137.0,280.6L137.5,285.5L138.0,289.6L138.5,293.8L139.0,298.0L139.5,302.2L140.0,306.8L140.5,311.0L141.0,315.5L141.5,319.7L142.0,323.4L142.5,327.6L143.0,331.6L143.5,335.7L144.0,340.5L144.5,341.4L145.0,341.3L145.5,342.2L146.0,344.0L146.5,344.9L147.0,345.2L147.5,346.1L148.0,346.8L148.5,347.7L149.0,348.6L149.5,353.5L150.0,358.6L150.5,363.5L151.0,368.9L151.5,373.0L152.0,373.0L152.5,373.7L153.0,374.9L153.5,375.6L154.0,376.4L154.5,377.1L155.0,377.5L155.5,378.3L156.0,379.2L156.5,379.9L157.0,380.1L157.5,380.8L158.0,381.5L158.5,381.3L159.0,381.3L159.5,381.2L160.0,381.5L160.5,381.4L161.0,380.9L161.5,379.6L162.0,378.2L162.5,376.9L163.0,375.9L163.5,374.6L164.0,373.1L164.5,371.8L165.0,370.4L165.5,369.1L166.0,368.3L166.5,366.8L167.0,365.3L167.5,363.8L168.0,361.8L168.5,360.3L169.0,359.2L169.5,357.7L170.0,356.2L170.5,354.7L171.0,353.6L171.5,352.6L172.0,353.6L172.5,354.7L173.0,355.3L173.5,356.4L174.0,358.3L174.5,359.4L175.0,359.6L175.5,361.1L176.0,363.0L176.5,364.6L177.0,366.5L177.5,368.1L178.0,369.0L178.5,370.6L179.0,372.5L179.5,372.9L180.0,372.7L180.5,373.1L181.0,374.2L181.5,374.6L182.0,375.0L182.5,375.4L183.0,375.6L183.5,376.0L184.0,376.7L184.5,377.0L185.0,376.8L185.5,377.1L186.0,377.8L186.5,378.1L187.0,378.3L187.5,378.6L188.0,378.9L188.5,379.2L189.0,379.4L189.5,379.7L190.0,380.4L190.5,380.5L191.0,380.8L191.5,380.9L192.0,380.6L192.5,380.7L193.0,381.1L193.5,381.2L194.0,380.7L194.5,380.9L195.0,381.7L195.5,381.9L196.0,382.0L196.5,382.1L197.0,382.9L197.5,383.3L198.0,383.6L198.5,384.0L199.0,383.9L199.5,384.3L200.0,384.9L200.5,386.0L201.0,387.5L201.5,388.7L202.0,389.1L202.5,390.3L203.0,391.9L203.5,393.1L204.0,393.9L204.5,395.1L205.0,396.2L205.5,397.5L206.0,398.7L206.5,400.0L207.0,402.1L207.5,403.4L208.0,404.0L208.5,405.3L209.0,406.4L209.5,407.3L210.0,408.3L210.5,409.2L211.0,410.6L211.5,411.5L212.0,411.5L212.5,412.3L213.0,413.6L213.5,414.5L214.0,415.4L214.5,416.3L215.0,417.6L215.5,418.4L216.0,418.9L216.5,419.4L217.0,419.9L217.5,420.4L218.0,417.8L218.5,415.8L219.0,413.9L219.5,411.9L220.0,409.8L220.5,407.8L221.0,404.1L221.5,399.8L222.0,395.5L222.5,361.1L223.0,332.9L223.5,316.3L224.0,299.6L224.5,274.6L225.0,249.7L225.5,243.5L226.0,237.2L226.5,231.0L227.0,225.0L227.5,220.2L228.0,215.5L228.5,210.7L229.0,205.6L229.5,204.1L230.0,215.7L230.5,227.6L231.0,239.9L231.5,254.9L232.0,269.9L232.5,284.9L233.0,300.1L233.5,305.1L234.0,310.5L234.5,315.5L235.0,320.2L235.5,325.6L236.0,330.8L236.5,336.2L237.0,341.7L237.5,347.1L238.0,353.5L238.5,360.1L239.0,366.0L239.5,372.6L240.0,380.1L240.5,384.5L241.0,388.7L241.5,393.0L242.0,397.5L242.5,401.8L243.0,400.0L243.5,398.2L244.0,396.0L244.5,394.2L245.0,392.5L245.5,390.7L246.0,388.6L246.5,386.9L247.0,385.7L247.5,384.4L248.0,383.3L248.5,382.8L249.0,382.3L249.5,381.8L250.0,381.4L250.5,380.9L251.0,380.3L251.5,379.8L252.0,379.5L252.5,380.3L253.0,380.8L253.5,381.7L254.0,382.4L254.5,383.2L255.0,384.2L255.5,385.0L256.0,385.8L256.5,386.6L257.0,387.7L257.5,388.5L258.0,389.0L258.5,389.8L259.0,391.6L259.5,392.4L260.0,393.1L260.5,394.1L261.0,394.6L261.5,395.6L262.0,396.8L262.5,397.8L263.0,398.9L263.5,399.9L264.0,400.9L264.5,401.9L265.0,402.7L265.5,403.4L266.0,403.6L266.5,402.9L267.0,402.5L267.5,401.9L268.0,400.7L268.5,400.1L269.0,399.5L269.5,398.9L270.0,397.8L270.5,397.2L271.0,396.6L271.5,395.8L272.0,394.4L272.5,392.6L273.0,390.8L273.5,389.1L274.0,388.0L274.5,386.3L275.0,383.8L275.5,382.1L276.0,380.2L276.5,378.9L277.0,379.4L277.5,378.8L278.0,377.7L278.5,377.1L279.0,376.1L279.5,375.5L280.0,375.3L280.5,374.7L281.0,373.5L281.5,372.9L282.0,372.9L282.5,372.9L283.0,374.5L283.5,375.5L284.0,376.4L284.5,377.4L285.0,378.2L285.5,381.2L286.0,383.7L286.5,386.7L287.0,389.9L287.5,393.5L288.0,396.9L288.5,400.6L289.0,404.9L289.5,408.5L290.0,411.9L290.5,415.6L291.0,412.8L291.5,405.3L292.0,397.3L292.5,389.8L293.0,381.7L293.5,373.7L294.0,366.3L294.5,358.3L295.0,350.5L295.5,344.8L296.0,339.0L296.5,333.2L297.0,327.5L297.5,321.8L298.0,316.1L298.5,310.4L299.0,306.5L299.5,302.8L300.0,298.4L300.5,294.7L301.0,292.0L301.5,289.0L302.0,285.8L302.5,285.4L303.0,284.7L303.5,284.3L304.0,283.9L304.5,283.5L305.0,283.9L305.5,284.0L306.0,284.0L306.5,284.1L307.0,284.7L307.5,287.3L308.0,290.3L308.5,292.9L309.0,294.9L309.5,299.1L310.0,303.8L310.5,308.0L311.0,314.2L311.5,323.3L312.0,332.3L312.5,341.4L313.0,349.9L313.5,357.4L314.0,364.7L314.5,372.2L315.0,379.7L315.5,387.2L316.0,394.7L316.5,399.3L317.0,403.9L317.5,408.5L318.0,413.6L318.5,418.2L319.0,415.4L319.5,410.4L320.0,405.4L320.5,400.4L321.0,395.0L321.5,387.0L322.0,379.2L322.5,371.2L323.0,363.3L323.5,355.3L324.0,345.5L324.5,336.5L325.0,328.2L325.5,319.2L326.0,310.5L326.5,262.5L327.0,259.0L327.5,255.6L328.0,252.3L328.5,252.8L329.0,253.0L329.5,253.5L330.0,253.6L330.5,254.1L331.0,255.3L331.5,255.8L332.0,255.8L332.5,258.1L333.0,261.0L333.5,263.3L334.0,265.9L334.5,268.2L335.0,269.9L335.5,274.9L336.0,279.9L336.5,284.9L337.0,290.5L337.5,296.7L338.0,302.7L338.5,309.0L339.0,314.6L339.5,320.9L340.0,327.1L340.5,333.3L341.0,339.6L341.5,343.9L342.0,349.1L342.5,353.4L343.0,357.7L343.5,362.0L344.0,365.6L344.5,366.8L345.0,368.7L345.5,369.9L346.0,371.2L346.5,372.4L347.0,373.2L347.5,373.7L348.0,373.8L348.5,374.3L349.0,375.1L349.5,375.6L350.0,375.6L350.5,376.1L351.0,376.5L351.5,373.8L352.0,372.2L352.5,369.5L353.0,366.5L353.5,363.8L354.0,361.0L354.5,362.9L355.0,365.1L355.5,367.0L356.0,368.3L356.5,370.1L357.0,372.4L357.5,374.3L358.0,376.2L358.5,378.2L359.0,379.4L359.5,381.3L360.0,383.3L360.5,384.8L361.0,386.2L361.5,387.6L362.0,389.0L362.5,390.4L363.0,392.2L363.5,393.7L364.0,394.7L364.5,394.2L365.0,393.9L365.5,393.4L366.0,392.6L366.5,392.1L367.0,392.5L367.5,391.8L368.0,390.5L368.5,389.8L369.0,389.3L369.5,388.6L370.0,388.1L370.5,388.0L371.0,388.2L371.5,388.1L372.0,387.5L372.5,387.4L373.0,387.9L373.5,387.8L374.0,387.2L374.5,387.1L375.0,387.0L375.5,387.4L376.0,387.8L376.5,388.2L377.0,388.0L377.5,388.3L378.0,389.2L378.5,389.6L379.0,389.7L379.5,390.4L380.0,391.0L380.5,391.7L381.0,393.4L381.5,394.1L382.0,394.2L382.5,394.9L383.0,396.0L383.5,396.8L384.0,397.8L384.5,398.6L385.0,399.1L385.5,399.9L386.0,400.4L386.5,401.1L387.0,402.1L387.5,402.9L388.0,403.7L388.5,404.0L389.0,404.6L389.5,404.9L390.0,404.5L390.5,404.9L391.0,405.7L391.5,406.0L392.0,406.0L392.5,406.4L393.0,406.7L393.5,407.1L394.0,408.0L394.5,408.3L395.0,408.0L395.5,408.0L396.0,408.1L396.5,408.1L397.0,408.3L397.5,408.3L398.0,408.5L398.5,408.5L399.0,407.9L399.5,407.9L400.0,408.1L400.5,408.1L401.0,408.0L401.5,408.0L402.0,408.0L402.5,408.0L403.0,408.2L403.5,408.1L404.0,407.2L404.5,406.6L405.0,406.1L405.5,405.5L406.0,404.9L406.5,404.3L407.0,404.2L407.5,403.6L408.0,402.8L408.5,402.2L409.0,401.8L409.5,401.2L410.0,400.6L410.5,400.1L411.0,398.7L411.5,398.1L412.0,397.9L412.5,397.3L413.0,397.1L413.5,396.5L414.0,395.8L414.5,395.2L415.0,394.0L415.5,393.7L416.0,393.4L416.5,393.0L417.0,393.0L417.5,392.7L418.0,392.0L418.5,391.6L419.0,391.5L419.5,391.2L420.0,390.6L420.5,390.3L421.0,390.6L421.5,390.3L422.0,390.1L422.5,389.8L423.0,389.6L423.5,389.2L424.0,388.1L424.5,387.7L425.0,388.0L425.5,387.7L426.0,387.3L426.5,387.0L427.0,386.1L427.5,385.7L428.0,386.2L428.5,385.4L429.0,384.6L429.5,383.8L430.0,382.1L430.5,381.2L431.0,381.2L431.5,380.4L432.0,378.9L432.5,378.1L433.0,377.3L433.5,376.5L434.0,376.2L434.5,375.3L435.0,375.9L435.5,377.0L436.0,377.4L436.5,378.6L437.0,380.0L437.5,381.2L438.0,382.4L438.5,383.6L439.0,384.5L439.5,385.7L440.0,386.7L440.5,387.8L441.0,389.1L441.5,389.9L442.0,390.7L442.5,391.1L443.0,390.7L443.5,391.0L444.0,392.0L444.5,392.3L445.0,392.5L445.5,392.9L446.0,392.8L446.5,393.1L447.0,393.8L447.5,394.2L448.0,394.8L448.5,394.0L449.0,393.1L449.5,392.3L450.0,391.0L450.5,390.2L451.0,390.5L451.5,389.7L452.0,388.7L452.5,387.9L453.0,387.3L453.5,386.5L454.0,386.0L454.5,386.8L455.0,387.8L455.5,388.7L456.0,389.2L456.5,390.1L457.0,391.7L457.5,392.5L458.0,392.8L458.5,393.6L459.0,394.3L459.5,394.9L460.0,395.9L460.5,396.5L461.0,397.7L461.5,398.4L462.0,398.9L462.5,399.6L463.0,399.6L463.5,400.2L464.0,400.8L464.5,401.4L465.0,402.9L465.5,403.5L466.0,403.5L466.5,402.9L467.0,402.3L467.5,401.7L468.0,400.3L468.5,399.6L469.0,398.9L469.5,398.3L470.0,398.3L470.5,397.6L471.0,396.6L471.5,396.0L472.0,394.9L472.5,394.2L473.0,393.4L473.5,392.3L474.0,390.9L474.5,389.8L475.0,388.9L475.5,387.8L476.0,385.9L476.5,384.8L477.0,384.6L477.5,383.5L478.0,381.5L478.5,382.5L479.0,384.4L479.5,387.4L480.0,390.4L480.5,392.6L481.0,393.0L481.5,393.5L482.0,394.2L482.5,394.7L483.0,395.6L483.5,396.1L484.0,394.7L484.5,393.4L485.0,391.9L485.5,390.5L486.0,389.6L486.5,388.2L487.0,386.6L487.5,385.2L488.0,383.7L488.5,380.5L489.0,377.7L489.5,376.0L490.0,374.2L490.5,372.5L491.0,370.9L491.5,369.2L492.0,367.6L492.5,364.3L493.0,361.1L493.5,357.8L494.0,355.1L494.5,351.8L495.0,339.4L495.5,302.2L496.0,287.5L496.5,275.0L497.0,270.6L497.5,266.6L498.0,262.8L498.5,265.8L499.0,268.5L499.5,271.5L500.0,274.7L500.5,284.5L501.0,294.0L501.5,303.8L502.0,314.4L502.5,321.1L503.0,322.9L503.5,325.0L504.0,326.6L504.5,328.7L505.0,333.2L505.5,337.5L506.0,342.3L506.5,346.5L507.0,349.9L507.5,354.2L508.0,358.7L508.5,360.5L509.0,361.9L509.5,363.7L510.0,365.6L510.5,367.4L511.0,369.6L511.5,371.5L512.0,372.8L512.5,374.6L513.0,376.6L513.5,378.2L514.0,379.2L514.5,380.0L515.0,381.2L515.5,382.0L516.0,382.2L516.5,383.0L517.0,384.4L517.5,385.2L518.0,385.9L518.5,386.7L519.0,387.5L519.5,388.3L520.0,388.9L520.5,389.1L521.0,389.3L521.5,389.6L522.0,389.5L522.5,389.8L523.0,390.1L523.5,390.3L524.0,390.5L524.5,390.8L525.0,391.8L525.5,392.0L526.0,391.7L526.5,392.0L527.0,391.7L527.5,390.8L528.0,389.8L528.5,388.9L529.0,388.8L529.5,388.0L530.0,387.1L530.5,386.2L531.0,385.1L531.5,384.2L532.0,382.9L532.5,382.3L533.0,383.0L533.5,383.8L534.0,384.6L534.5,385.3L535.0,386.3L535.5,387.0L536.0,387.4L536.5,388.2L537.0,389.6L537.5,391.4L538.0,392.9L538.5,394.7L539.0,397.2L539.5,398.9L540.0,400.7L540.5,402.4L541.0,403.7L541.5,405.2L542.0,405.8L542.5,406.9L543.0,408.7L543.5,409.7L544.0,410.0L544.5,411.0L545.0,410.8L545.5,410.3L546.0,409.5L546.5,409.0L547.0,408.9L547.5,408.4L548.0,408.0L548.5,407.5L549.0,407.0L549.5,405.3L550.0,403.2L550.5,401.5L551.0,400.0L551.5,398.3L552.0,396.0L552.5,394.3L553.0,392.8L553.5,391.1L554.0,388.1L554.5,385.1L555.0,382.4L555.5,379.4L556.0,376.0L556.5,372.9L557.0,370.0L557.5,367.7L558.0,365.7L558.5,363.4L559.0,361.0L559.5,358.7L560.0,356.7L560.5,356.4L561.0,357.3L561.5,358.3L562.0,359.5L562.5,360.5L563.0,361.4L563.5,362.4L564.0,363.8L564.5,365.4L565.0,367.0L565.5,368.6L566.0,369.5L566.5,371.0L567.0,372.5L567.5,374.0L568.0,376.2L568.5,377.2L569.0,377.3L569.5,378.3L570.0,379.9L570.5,380.9L571.0,381.8L571.5,382.8L572.0,383.1L572.5,384.1L573.0,386.2L573.5,387.5L574.0,388.8L574.5,390.0L575.0,391.0L575.5,392.2L576.0,393.6L576.5,394.8L577.0,396.1L577.5,395.6L578.0,394.4L578.5,393.9L579.0,393.8L579.5,393.3L580.0,392.7L580.5,392.2L581.0,392.1L581.5,391.6L582.0,391.2L582.5,390.8L583.0,390.4L583.5,390.0L584.0,389.3L584.5,389.0L585.0,388.9L585.5,388.5L586.0,387.9L586.5,387.5L587.0,387.1L587.5,387.5L588.0,387.3L588.5,387.7L589.0,387.8L589.5,388.1L590.0,388.6L590.5,388.8L591.0,389.2L591.5,389.4L592.0,389.3L592.5,389.5L593.0,390.5L593.5,390.7L594.0,390.6L594.5,390.8L595.0,391.0L595.5,391.2L596.0,391.4L596.5,391.6L597.0,391.8L597.5,392.0L598.0,392.0L598.5,392.2L599.0,391.9L599.5,392.2L600.0,393.3L600.5,393.7L601.0,393.9L601.5,394.2L602.0,394.3L602.5,394.6L603.0,394.9L603.5,395.2L604.0,395.7L604.5,396.0L605.0,397.0L605.5,398.7L606.0,401.2L606.5,402.8L607.0,404.0L607.5,405.7L608.0,406.5L608.5,406.5L609.0,406.7L609.5,406.7L610.0,407.3L610.5,407.3L611.0,406.7L611.5,406.7L612.0,407.3L612.5,407.3L613.0,407.5L613.5,407.0L614.0,404.1L614.5,401.8L615.0,399.3L615.5,396.9L616.0,394.6L616.5,392.2L617.0,389.1L617.5,385.0L618.0,381.1L618.5,377.0L619.0,372.8L619.5,368.8L620.0,364.8L620.5,361.5L621.0,357.6L621.5,354.3L622.0,351.1L622.5,347.8L623.0,344.7L623.5,341.5L624.0,339.4L624.5,336.8L625.0,333.7L625.5,331.1L626.0,328.8L626.5,326.1L627.0,323.3L627.5,321.7L628.0,320.1L628.5,318.4L629.0,317.0L629.5,315.4L630.0,314.2L630.5,312.9L631.0,311.7L631.5,310.5L632.0,309.2L632.5,312.6L633.0,315.6L633.5,319.0L634.0,322.6L634.5,326.0L635.0,329.0L635.5,332.0L636.0,334.9L636.5,337.8L637.0,340.4L637.5,343.3L638.0,347.1L638.5,350.9L639.0,353.8L639.5,357.6L640.0,362.1L640.5,365.9L641.0,369.5L641.5,372.9L642.0,374.5L642.5,377.2L643.0,380.4L643.5,383.1L644.0,386.1L644.5,388.8L645.0,389.7L645.5,390.0L646.0,389.7L646.5,389.9L647.0,390.0L647.5,390.3L648.0,390.5L648.5,390.7L649.0,391.8L649.5,389.8L650.0,387.1L650.5,385.1L651.0,383.6L651.5,381.6L652.0,379.2L652.5,377.2L653.0,375.7L653.5,373.7L654.0,372.2L654.5,370.2L655.0,367.3L655.5,365.4L656.0,364.9L656.5,364.7L657.0,364.2L657.5,364.0L658.0,364.3L658.5,364.1L659.0,363.7L659.5,365.9L660.0,367.5L660.5,369.6L661.0,372.5L661.5,374.6L662.0,376.3L662.5,378.1L663.0,378.2L663.5,378.8L664.0,379.4L664.5,380.0L665.0,381.1L665.5,381.7L666.0,382.3L666.5,382.8L667.0,383.3L667.5,383.4L668.0,383.3L668.5,383.4L669.0,383.7L669.5,383.7L670.0,383.8L670.5,383.9L671.0,384.5L671.5,384.6L672.0,383.8L672.5,383.9L673.0,384.8L673.5,384.9L674.0,385.5L674.5,386.1L675.0,385.9L675.5,386.5L676.0,388.0L676.5,388.7L677.0,389.1L677.5,389.7L678.0,390.5L678.5,391.1L679.0,391.1L679.5,392.3L680.0,393.6L680.5,394.8L681.0,396.1L681.5,397.3L682.0,399.2L682.5,400.4L683.0,401.1L683.5,402.4L684.0,403.0L684.5,403.8L685.0,404.6L685.5,405.4L686.0,406.1L686.5,406.9L687.0,407.4L687.5,408.2L688.0,409.1L688.5,409.8L689.0,411.5L689.5,411.8L690.0,411.2L690.5,411.2L691.0,411.9L691.5,411.9L692.0,411.1L692.5,411.1L693.0,411.1L693.5,411.1L694.0,410.6L694.5,409.3L695.0,407.6L695.5,406.2L696.0,405.1L696.5,403.7L697.0,403.0L697.5,402.7L698.0,402.4L698.5,402.1L699.0,401.7L699.5,401.5L700.0,401.0L700.5,400.7L701.0,400.7L701.5,400.5L702.0,401.5L702.5,402.5L703.0,403.1L703.5,404.1L704.0,405.2L704.5,406.2L705.0,406.5L705.5,407.5L706.0,409.3L706.5,408.4L707.0,407.3L707.5,406.5L708.0,406.0L708.5,405.2L709.0,404.2L709.5,403.4L710.0,402.2L710.5,401.4L711.0,400.3L711.5,399.5L712.0,399.9L712.5,399.2L713.0,397.7L713.5,397.1L714.0,396.9L714.5,396.3L715.0,395.5L715.5,394.9L716.0,394.2L716.5,393.6L717.0,393.7L717.5,393.3L718.0,393.2L718.5,392.9L719.0,391.8L719.5,391.4L720.0,391.5L720.5,391.2L721.0,390.4L721.5,390.1L722.0,390.0L722.5,389.7L723.0,389.2L723.5,389.1L724.0,390.1L724.5,391.3L725.0,392.4L725.5,393.6L726.0,394.9L726.5,396.1L727.0,398.0L727.5,399.2L728.0,399.9L728.5,401.1L729.0,402.0L729.5,403.2L730.0,405.1L730.5,405.5L731.0,406.0L731.5,406.3L732.0,406.1L732.5,406.4L733.0,406.5L733.5,406.8L734.0,407.2L734.5,407.6L735.0,407.3L735.5,406.9L736.0,406.8L736.5,406.5L737.0,405.9L737.5,405.5L738.0,405.3L738.5,405.0L739.0,404.6L739.5,404.3L740.0,404.3L740.5,403.9L741.0,403.9L741.5,403.6L742.0,403.1L742.5,402.4L743.0,400.3L743.5,398.5L744.0,396.7L744.5,395.0L745.0,393.3L745.5,391.5L746.0,389.6L746.5,387.8L747.0,384.8L747.5,379.8L748.0,374.6L748.5,369.7L749.0,365.0L749.5,360.1L750.0,355.9L750.5,352.9L751.0,350.3L751.5,348.6L752.0,347.3L752.5,345.7L753.0,344.1L753.5,342.4L754.0,343.7L754.5,344.7L755.0,344.9L755.5,345.9L756.0,347.0L756.5,348.0L757.0,349.3L757.5,352.4L758.0,355.6L758.5,358.6L759.0,361.7L759.5,364.7L760.0,368.3L760.5,370.7L761.0,372.6L761.5,374.6L762.0,376.6L762.5,378.6L763.0,379.6L763.5,381.6L764.0,383.6L764.5,385.6L765.0,386.8L765.5,386.3L766.0,386.0L766.5,385.5L767.0,384.9L767.5,386.5L768.0,388.2L768.5,389.8L769.0,390.8L769.5,392.4L770.0,394.4L770.5,396.0L771.0,398.2L771.5,399.8L772.0,401.3L772.5,402.9L773.0,401.9L773.5,400.9L774.0,400.0L774.5,399.0L775.0,397.1L775.5,396.1L776.0,393.5L776.5,389.0L777.0,384.5L777.5,379.9L778.0,375.7L778.5,368.5L779.0,361.4L779.5,354.1L780.0,347.1L780.5,341.6L781.0,338.2L781.5,335.2L782.0,332.0L782.5,329.0L783.0,326.0L783.5,325.5L784.0,326.3L784.5,327.5L785.0,328.8L785.5,329.9L786.0,330.6L786.5,331.7L787.0,333.7L787.5,338.8L788.0,343.2L788.5,348.3L789.0,354.1L789.5,358.9L790.0,363.1L790.5,367.7L791.0,371.8L791.5,375.9L792.0,377.6L792.5,379.6L793.0,381.7L793.5,383.6L794.0,386.0L794.5,388.0L795.0,389.4L795.5,390.0L796.0,389.8L796.5,390.4L797.0,390.8L797.5,389.8L798.0,389.3L798.5,388.4L799.0,387.4L799.5,386.4L800.0,385.2L800.5,384.3L801.0,383.1L801.5,382.1L802.0,381.7L802.5,380.9L803.0,379.4L803.5,378.6L804.0,378.1L804.5,377.3L805.0,376.7L805.5,375.9L806.0,375.6L806.5,374.8L807.0,373.7L807.5,373.1L808.0,372.7L808.5,372.1L809.0,371.1L809.5,370.5L810.0,369.6L810.5,369.0L811.0,368.4L811.5,367.8L812.0,368.0L812.5,367.4L813.0,366.5L813.5,365.9L814.0,364.9L814.5,364.3L815.0,363.4L815.5,362.8L816.0,362.7L816.5,362.1L817.0,361.6L817.5,361.0L818.0,360.2L818.5,357.8L819.0,354.1L819.5,350.6L820.0,347.5L820.5,344.7L821.0,345.0L821.5,345.0L822.0,344.2L822.5,344.2L823.0,344.0L823.5,344.0L824.0,344.3L824.0,428.6Z" fill="#fdd590"/>
<path d="M175.0,413.1L175.6,422.3L176.2,422.2L176.8,421.5L177.4,421.3L178.0,419.2L178.6,417.8L179.2,419.9L179.8,418.7L180.4,418.0L181.0,420.4L181.6,419.6L182.2,420.4L182.8,419.5L183.4,419.5L184.0,417.7L184.6,418.1L185.2,417.0L185.8,414.1L186.4,412.3L187.0,409.9L187.6,401.3L188.2,396.3L188.8,390.0L189.4,398.5L190.0,396.4L190.6,398.1L191.2,397.2L191.8,397.2L192.4,397.0L193.0,395.7L193.6,395.2L194.2,392.5L194.8,392.0L195.4,389.9L196.0,389.2L196.6,387.6L197.2,383.0L197.8,379.9L198.4,377.6L199.0,378.1L199.6,373.8L200.2,370.5L200.8,370.2L201.4,371.0L202.0,371.3L202.6,371.7L203.2,373.0L203.8,373.9L204.4,375.9L205.0,376.3L205.6,373.5L206.2,370.1L206.8,367.0L207.4,362.5L208.0,354.4L208.6,349.9L209.2,345.1L209.8,339.6L210.4,332.1L211.0,325.5L211.6,319.1L212.2,315.8L212.8,310.8L213.4,311.9L214.0,316.2L214.6,319.4L215.2,322.0L215.8,320.5L216.4,322.8L217.0,323.1L217.6,322.3L218.2,322.6L218.8,324.7L219.4,326.4L220.0,327.3L220.6,332.1L221.2,334.3L221.8,334.0L222.4,331.4L223.0,331.1L223.6,335.6L224.2,337.7L224.8,342.3L225.4,342.4L226.0,342.1L226.6,344.5L227.2,344.3L227.8,345.5L228.4,350.1L229.0,352.9L229.6,350.2L230.2,347.7L230.8,354.0L231.4,354.1L232.0,354.0L232.6,352.8L233.2,349.3L233.8,346.8L234.4,344.5L235.0,342.4L235.6,340.0L236.2,337.4L236.8,337.0L237.4,338.7L238.0,338.1L238.6,337.8L239.2,338.9L239.8,338.0L240.4,338.2L241.0,341.2L241.6,341.5L242.2,342.1L242.8,340.4L243.4,340.6L244.0,341.3L244.6,339.5L245.2,340.6L245.8,341.1L246.4,339.2L247.0,340.2L247.6,340.0L248.2,340.6L248.8,339.5L249.4,340.0L250.0,340.2L250.6,337.5L251.2,336.0L251.8,337.4L252.4,338.8L253.0,336.8L253.6,336.4L254.2,336.4L254.8,335.0L255.4,334.0L256.0,332.8L256.6,332.0L257.2,332.0L257.8,330.5L258.4,329.5L259.0,329.9L259.6,327.0L260.2,327.0L260.8,327.1L261.4,325.1L262.0,323.3L262.6,324.7L263.2,323.8L263.8,323.3L264.4,324.2L265.0,325.7L265.6,324.5L266.2,324.7L266.8,324.6L267.4,326.3L268.0,325.6L268.6,326.7L269.2,324.7L269.8,324.3L270.4,325.1L271.0,325.9L271.6,324.5L272.2,322.8L272.8,321.3L273.4,321.7L274.0,320.5L274.6,322.2L275.2,323.1L275.8,321.2L276.4,320.5L277.0,321.9L277.6,322.0L278.2,322.6L278.8,320.7L279.4,317.8L280.0,316.1L280.6,316.4L281.2,313.8L281.8,311.7L282.4,310.0L283.0,308.3L283.6,306.4L284.2,305.3L284.8,300.3L285.4,295.7L286.0,295.2L286.6,291.1L287.2,282.8L287.8,272.0L288.4,278.1L289.0,282.7L289.6,281.0L290.2,282.3L290.8,283.6L291.4,284.1L292.0,284.2L292.6,283.8L293.2,284.2L293.8,284.4L294.4,284.4L295.0,286.8L295.6,287.4L296.2,290.1L296.8,289.2L297.4,292.3L298.0,293.6L298.6,293.6L299.2,293.0L299.8,292.2L300.4,290.2L301.0,286.7L301.6,287.1L302.2,284.8L302.8,284.0L303.4,284.6L304.0,284.2L304.6,283.3L305.2,284.4L305.8,283.5L306.4,282.1L307.0,281.6L307.6,283.8L308.2,283.6L308.8,284.9L309.4,283.5L310.0,278.7L310.6,275.8L311.2,273.5L311.8,267.4L312.4,264.2L313.0,260.7L313.6,255.9L314.2,250.7L314.8,242.5L315.4,243.3L316.0,247.2L316.6,247.0L317.2,246.5L317.8,246.2L318.4,246.9L319.0,247.2L319.6,247.8L320.2,249.4L320.8,247.6L321.4,247.1L322.0,247.5L322.6,248.2L323.2,248.8L323.8,252.7L324.4,254.6L325.0,253.2L325.6,254.4L326.2,254.7L326.8,255.2L327.4,256.0L328.0,257.8L328.6,258.9L329.2,259.0L329.8,258.8L330.4,259.6L331.0,259.1L331.6,259.3L332.2,259.4L332.8,257.8L333.4,255.4L334.0,254.0L334.6,253.5L335.2,253.6L335.8,253.8L336.4,252.8L337.0,253.9L337.6,253.8L338.2,253.0L338.8,252.5L339.4,252.6L340.0,253.8L340.6,253.6L341.2,254.8L341.8,254.7L342.4,254.2L343.0,255.2L343.6,256.5L344.2,255.2L344.8,256.0L345.4,256.8L346.0,259.0L346.6,260.6L347.2,259.7L347.8,261.4L348.4,262.1L349.0,260.8L349.6,260.6L350.2,259.3L350.8,261.1L351.4,261.5L352.0,262.5L352.6,262.6L353.2,262.3L353.8,262.4L354.4,262.1L355.0,260.5L355.6,261.5L356.2,260.1L356.8,260.0L357.4,262.5L358.0,261.9L358.6,262.2L359.2,262.9L359.8,266.5L360.4,270.5L361.0,272.6L361.6,270.1L362.2,268.7L362.8,270.6L363.4,270.9L364.0,271.5L364.6,271.7L365.2,270.2L365.8,270.2L366.4,267.9L367.0,269.6L367.6,269.6L368.2,270.5L368.8,268.7L369.4,270.2L370.0,271.7L370.6,269.4L371.2,269.2L371.8,270.1L372.4,271.4L373.0,269.9L373.6,268.9L374.2,268.6L374.8,269.8L375.4,270.8L376.0,270.0L376.6,269.5L377.2,269.0L377.8,268.2L378.4,267.8L379.0,266.1L379.6,266.5L380.2,268.1L380.8,266.7L381.4,266.8L382.0,265.8L382.6,267.6L383.2,269.1L383.8,269.9L384.4,270.1L385.0,270.4L385.6,271.6L386.2,273.1L386.8,270.8L387.4,269.3L388.0,270.9L388.6,272.2L389.2,271.3L389.8,270.5L390.4,271.0L391.0,268.8L391.6,267.3L392.2,265.8L392.8,265.9L393.4,264.5L394.0,263.0L394.6,263.4L395.2,263.9L395.8,261.2L396.4,260.7L397.0,259.1L397.6,260.8L398.2,260.8L398.8,259.9L399.4,259.4L400.0,258.7L400.6,259.8L401.2,260.0L401.8,259.4L402.4,259.8L403.0,259.9L403.6,261.5L404.2,259.8L404.8,261.9L405.4,261.0L406.0,260.8L406.6,260.2L407.2,261.0L407.8,261.3L408.4,260.4L409.0,259.5L409.6,259.9L410.2,260.6L410.8,259.2L411.4,259.6L412.0,260.6L412.6,259.3L413.2,257.7L413.8,256.9L414.4,258.1L415.0,258.2L415.6,258.6L416.2,257.9L416.8,255.0L417.4,252.9L418.0,251.6L418.6,250.3L419.2,251.0L419.8,252.9L420.4,254.1L421.0,252.7L421.6,254.4L422.2,253.5L422.8,253.6L423.4,255.0L424.0,253.2L424.6,252.1L425.2,254.1L425.8,253.1L426.4,252.7L427.0,253.2L427.6,253.7L428.2,251.4L428.8,251.3L429.4,251.5L430.0,251.7L430.6,250.7L431.2,251.4L431.8,252.9L432.4,251.6L433.0,251.3L433.6,249.5L434.2,249.0L434.8,250.0L435.4,248.3L436.0,250.2L436.6,251.0L437.2,248.3L437.8,249.9L438.4,248.5L439.0,249.1L439.6,249.1L440.2,247.4L440.8,247.7L441.4,247.6L442.0,248.0L442.6,246.1L443.2,246.8L443.8,247.7L444.4,247.0L445.0,246.0L445.6,243.3L446.2,243.0L446.8,242.0L447.4,242.4L448.0,242.1L448.6,241.2L449.2,238.9L449.8,239.1L450.4,238.8L451.0,236.6L451.6,237.7L452.2,237.0L452.8,234.4L453.4,235.6L454.0,232.8L454.6,231.7L455.2,232.1L455.8,231.4L456.4,230.5L457.0,229.9L457.6,228.5L458.2,227.3L458.8,226.1L459.4,225.0L460.0,226.6L460.6,227.4L461.2,226.9L461.8,227.3L462.4,225.8L463.0,224.2L463.6,223.4L464.2,224.3L464.8,221.4L465.4,221.2L466.0,219.8L466.6,220.3L467.2,218.6L467.8,217.1L468.4,216.1L469.0,215.6L469.6,215.9L470.2,214.2L470.8,214.7L471.4,211.9L472.0,210.8L472.6,209.2L473.2,208.0L473.8,209.4L474.4,209.4L475.0,207.1L475.6,205.5L476.2,205.0L476.8,205.6L477.4,205.6L478.0,204.8L478.6,202.5L479.2,198.8L479.8,196.9L480.4,194.2L481.0,193.0L481.6,191.5L482.2,189.8L482.8,191.5L483.4,195.2L484.0,195.5L484.6,197.7L485.2,199.4L485.8,200.6L486.4,199.4L487.0,199.6L487.6,200.4L488.2,201.4L488.8,203.5L489.4,203.9L490.0,203.1L490.6,204.2L491.2,203.2L491.8,203.1L492.4,203.4L493.0,200.8L493.6,203.2L494.2,204.5L494.8,204.9L495.4,205.6L496.0,205.8L496.6,204.7L497.2,205.4L497.8,204.0L498.4,205.0L499.0,206.0L499.6,205.8L500.2,206.2L500.8,208.0L501.4,208.8L502.0,206.6L502.6,208.0L503.2,208.2L503.8,206.4L504.4,206.7L505.0,206.5L505.6,205.8L506.2,207.2L506.8,209.4L507.4,208.4L508.0,209.9L508.6,210.1L509.2,208.2L509.8,209.9L510.4,209.9L511.0,211.2L511.6,211.1L512.2,211.2L512.8,209.9L513.4,210.9L514.0,212.0L514.6,212.3L515.2,211.0L515.8,211.4L516.4,210.7L517.0,208.9L517.6,207.8L518.2,207.4L518.8,207.6L519.4,209.7L520.0,214.1L520.6,218.3L521.2,219.4L521.8,220.0L522.4,221.7L523.0,220.7L523.6,220.6L524.2,221.5L524.8,220.5L525.4,219.1L526.0,220.9L526.6,221.1L527.2,219.8L527.8,219.2L528.4,219.3L529.0,219.6L529.6,218.3L530.2,216.7L530.8,216.6L531.4,218.6L532.0,217.1L532.6,217.5L533.2,216.6L533.8,215.9L534.4,214.5L535.0,214.1L535.6,212.6L536.2,210.8L536.8,209.6L537.4,208.7L538.0,208.8L538.6,206.8L539.2,205.0L539.8,205.1L540.4,204.5L541.0,204.9L541.6,202.3L542.2,201.8L542.8,201.1L543.4,198.9L544.0,200.8L544.6,198.6L545.2,197.4L545.8,198.6L546.4,198.3L547.0,200.0L547.6,200.0L548.2,199.3L548.8,198.7L549.4,200.9L550.0,200.5L550.6,202.2L551.2,201.9L551.8,203.6L552.4,202.4L553.0,201.8L553.6,201.8L554.2,204.0L554.8,204.6L555.4,204.1L556.0,203.1L556.6,204.8L557.2,206.7L557.8,206.4L558.4,204.3L559.0,203.4L559.6,203.2L560.2,203.6L560.8,203.4L561.4,203.5L562.0,205.9L562.6,208.0L563.2,206.7L563.8,209.0L564.4,208.5L565.0,209.2L565.6,209.5L566.2,209.4L566.8,205.8L567.4,204.7L568.0,205.0L568.6,206.1L569.2,203.4L569.8,202.6L570.4,203.9L571.0,201.7L571.6,201.8L572.2,203.3L572.8,206.2L573.4,209.3L574.0,209.6L574.6,213.1L575.2,213.8L575.8,212.6L576.4,210.0L577.0,209.1L577.6,206.9L578.2,205.6L578.8,204.0L579.4,204.8L580.0,203.8L580.6,202.6L581.2,201.6L581.8,202.9L582.4,203.0L583.0,203.4L583.6,202.2L584.2,201.9L584.8,200.6L585.4,201.8L586.0,199.9L586.6,200.5L587.2,201.7L587.8,202.0L588.4,200.0L589.0,199.5L589.6,201.5L590.2,201.8L590.8,202.7L591.4,203.2L592.0,201.9L592.6,202.9L593.2,202.7L593.8,201.1L594.4,200.4L595.0,198.8L595.6,199.2L596.2,201.3L596.8,199.2L597.4,199.8L598.0,197.6L598.6,195.9L599.2,196.6L599.8,195.1L600.4,193.0L601.0,191.6L601.6,192.1L602.2,191.6L602.8,188.6L603.4,187.2L604.0,188.4L604.6,185.6L605.2,184.8L605.8,183.1L606.4,182.9L607.0,181.3L607.6,180.5L608.2,178.4L608.8,175.5L609.4,173.6L610.0,171.6L610.6,172.8L611.2,170.5L611.8,168.9L612.4,171.3L613.0,169.5L613.6,171.0L614.2,169.1L614.8,169.6L615.4,169.0L616.0,170.9L616.6,171.1L617.2,171.3L617.8,171.7L618.4,172.2L619.0,170.5L619.6,170.6L620.2,169.9L620.8,168.4L621.4,171.8L622.0,173.3L622.6,175.7L623.2,175.5L623.8,177.4L624.4,178.4L625.0,180.0L625.6,178.9L626.2,179.3L626.8,179.7L627.4,178.4L628.0,179.4L628.6,180.5L629.2,179.0L629.8,178.5L630.4,177.6L631.0,175.3L631.6,174.4L632.2,175.8L632.8,173.8L633.4,172.9L634.0,171.0L634.6,170.3L635.2,169.5L635.8,171.5L636.4,171.6L637.0,171.9L637.6,172.5L638.2,171.3L638.8,171.7L639.4,170.4L640.0,169.2L640.6,170.4L641.2,170.7L641.8,170.9L642.4,169.7L643.0,170.7L643.6,170.1L644.2,172.2L644.8,173.3L645.4,171.9L646.0,173.8L646.6,172.3L647.2,171.4L647.8,173.4L648.4,173.1L649.0,174.0L649.6,175.1L650.2,173.7L650.8,175.7L651.4,175.2L652.0,175.7L652.6,175.9L653.2,177.4L653.8,177.8L654.4,176.3L655.0,174.8L655.6,174.6L656.2,174.9L656.8,173.9L657.4,173.6L658.0,175.6L658.6,176.3L659.2,178.0L659.8,179.1L660.4,179.4L661.0,177.9L661.6,176.7L662.2,176.9L662.8,177.8L663.4,179.0L664.0,180.2L664.6,180.6L665.2,183.1L665.8,183.0L666.4,184.4L667.0,187.3L667.6,188.8L668.2,188.3L668.8,188.1L669.4,189.5L670.0,187.2L670.6,186.4L671.2,187.3L671.8,187.7L672.4,186.5L673.0,185.3L673.6,185.2L674.2,187.1L674.8,186.8L675.4,188.4L676.0,188.9L676.6,190.0L677.2,187.3L677.8,186.6L678.4,185.9L679.0,187.2L679.6,187.8L680.2,187.2L680.8,188.9L681.4,188.3L682.0,188.9L682.6,189.1L683.2,191.4L683.8,191.3L684.4,190.9L685.0,190.1L685.6,191.0L686.2,191.8L686.8,192.2L687.4,193.1L688.0,193.0L688.6,190.7L689.2,188.9L689.8,190.1L690.4,190.6L691.0,189.6L691.6,189.8L692.2,188.6L692.8,186.6L693.4,184.9L694.0,183.2L694.6,184.3L695.2,185.9L695.8,186.6L696.4,185.3L697.0,185.3L697.6,186.2L698.2,186.1L698.8,185.2L699.4,184.0L700.0,183.6L700.6,182.1L701.2,181.4L701.8,183.1L702.4,185.1L703.0,184.6L703.6,184.0L704.2,183.5L704.8,183.7L705.4,185.2L706.0,184.8L706.6,186.5L707.2,184.1L707.8,183.3L708.4,183.5L709.0,183.0L709.6,184.2L710.2,184.6L710.8,185.0L711.4,183.9L712.0,181.1L712.6,181.7L713.2,182.2L713.8,182.3L714.4,181.7L715.0,183.0L715.6,184.5L716.2,182.5L716.8,183.8L717.4,183.5L718.0,184.0L718.6,185.8L719.2,186.9L719.8,185.7L720.4,183.2L721.0,184.3L721.6,181.9L722.2,181.2L722.8,182.1L723.4,180.4L724.0,179.2L724.6,180.7L725.2,181.1L725.8,178.9L726.4,178.0L727.0,177.0L727.6,175.9L728.2,175.6L728.8,177.9L729.4,175.7L730.0,174.9L730.6,174.2L731.2,173.3L731.8,174.2L732.4,175.3L733.0,176.2L733.6,175.8L734.2,176.2L734.8,173.4L735.4,172.8L736.0,174.4L736.6,171.0L737.2,169.3L737.8,168.5L738.4,166.4L739.0,165.6L739.6,164.4L740.2,164.5L740.8,167.3L741.4,165.9L742.0,168.0L742.6,166.4L743.2,168.6L743.8,168.5L744.4,168.5L745.0,166.6L745.6,165.4L746.2,167.5L746.8,166.4L747.4,166.0L748.0,168.1L748.6,169.4L749.2,167.2L749.8,169.3L750.4,168.9L751.0,168.2L751.6,166.9L752.2,167.4L752.8,169.9L753.4,168.8L754.0,167.9L754.6,167.6L755.2,167.5L755.8,168.5L756.4,171.1L757.0,169.4L757.6,168.6L758.2,170.7L758.8,171.8L759.4,172.1L760.0,169.5L760.6,168.3L761.2,169.7L761.8,168.5L762.4,168.5L763.0,166.5L763.6,164.0L764.2,163.6L764.8,164.4L765.4,164.7L766.0,163.7L766.6,162.5L767.2,161.9L767.8,160.8L768.4,160.7L769.0,161.7L769.6,159.9L770.2,160.4L770.8,161.8L771.4,162.1L772.0,159.8L772.6,161.4L773.2,161.7L773.8,159.6L774.4,159.2L775.0,159.0L775.6,158.6L776.2,162.0L776.8,161.8L777.4,163.5L778.0,161.7L778.6,160.6L779.2,163.3L779.8,164.5L780.4,165.9L781.0,165.7L781.6,164.9L782.2,164.9L782.8,162.4L783.4,162.5L784.0,162.0L784.6,160.5L785.2,161.2L785.8,160.3L786.4,160.3L787.0,159.6L787.6,158.9L788.2,158.5L788.8,159.2L789.4,160.9L790.0,161.5L790.6,161.4L791.2,161.2L791.8,159.0L792.4,160.4L793.0,158.5L793.6,156.9L794.2,157.5L794.8,158.5L795.4,157.6L796.0,158.2L796.6,157.1L797.2,159.1L797.8,158.2L798.4,157.8L799.0,157.8L799.6,159.0L800.2,160.0L800.8,158.8L801.4,157.9L802.0,158.0L802.6,156.1L803.2,156.4L803.8,158.2L804.4,159.2L805.0,157.3L805.6,159.4L806.2,159.0L806.8,161.1L807.4,160.2L808.0,159.3L808.6,160.3L809.2,162.2L809.8,161.8L810.4,163.3L811.0,163.3L811.6,162.1L812.2,161.2L812.8,161.5L813.4,161.3L814.0,161.1L814.6,162.0L815.2,163.2L815.8,162.8L816.4,161.7L817.0,162.0L817.6,163.2L818.2,165.1L818.8,164.8L819.4,164.8L820.0,165.1L820.6,165.0L821.2,164.0L821.8,165.3L822.4,167.2L823.0,166.7" fill="none" stroke="#000" stroke-width="2.2" stroke-linejoin="round" stroke-linecap="round"/>
<line x1="95.5" y1="144.6" x2="831" y2="146" stroke="#d91f1f" stroke-width="2"/>
<line x1="830.9" y1="118" x2="830.9" y2="428.8" stroke="#2b2b33" stroke-width="1.8"/>
<g fill="none" stroke="#dc1c1c" stroke-width="2">
<circle cx="229.3" cy="350.7" r="13.8"/><circle cx="361" cy="276.3" r="13.8"/><circle cx="523" cy="224.2" r="13.8"/><circle cx="667.6" cy="192.4" r="13.6"/>
</g>
<line x1="153.5" y1="430" x2="153.5" y2="434" stroke="#ececf2" stroke-width="1"/><line x1="194.8" y1="430" x2="194.8" y2="434" stroke="#ececf2" stroke-width="1"/><line x1="236.0" y1="430" x2="236.0" y2="434" stroke="#ececf2" stroke-width="1"/><line x1="277.3" y1="430" x2="277.3" y2="434" stroke="#ececf2" stroke-width="1"/><line x1="318.6" y1="430" x2="318.6" y2="434" stroke="#ececf2" stroke-width="1"/><line x1="359.9" y1="430" x2="359.9" y2="434" stroke="#ececf2" stroke-width="1"/><line x1="401.1" y1="430" x2="401.1" y2="434" stroke="#ececf2" stroke-width="1"/><line x1="442.4" y1="430" x2="442.4" y2="434" stroke="#ececf2" stroke-width="1"/><line x1="483.7" y1="430" x2="483.7" y2="434" stroke="#ececf2" stroke-width="1"/><line x1="524.9" y1="430" x2="524.9" y2="434" stroke="#ececf2" stroke-width="1"/><line x1="566.2" y1="430" x2="566.2" y2="434" stroke="#ececf2" stroke-width="1"/><line x1="607.5" y1="430" x2="607.5" y2="434" stroke="#ececf2" stroke-width="1"/><line x1="648.7" y1="430" x2="648.7" y2="434" stroke="#ececf2" stroke-width="1"/><line x1="690.0" y1="430" x2="690.0" y2="434" stroke="#ececf2" stroke-width="1"/><line x1="731.3" y1="430" x2="731.3" y2="434" stroke="#ececf2" stroke-width="1"/><line x1="772.6" y1="430" x2="772.6" y2="434" stroke="#ececf2" stroke-width="1"/><line x1="813.8" y1="430" x2="813.8" y2="434" stroke="#ececf2" stroke-width="1"/>
<!--WM--><g fill="none" stroke="#222" stroke-width="21.00" opacity="0.088" ><g transform="translate(270.00,245.50) scale(0.4140,0.4550)"><circle cx="50" cy="50" r="39.50"/><path d="M89.50,0V104C89.50,124 74,129.50 50,129.50C33,129.50 20,123 14,112"/></g><g transform="translate(318.00,245.50) scale(0.4600,0.4550)"><path d="M10.50,-33.00V100.00"/></g><g transform="translate(334.00,245.50) scale(0.4462,0.4550)"><circle cx="50" cy="50" r="39.50"/><path d="M89.50,0.00V100.00"/></g><g transform="translate(383.30,245.50) scale(0.4600,0.4550)"><path d="M57.50,27C56,16 47,10.50 35,10.50C21,10.50 11.50,18 11.50,29C11.50,41 22,45.5 35,50C49,54.5 58.50,59 58.50,71C58.50,82 49,89.50 35,89.50C22,89.50 13,84 10.50,72"/></g><g transform="translate(423.40,245.50) scale(0.4600,0.4550)"><path d="M57.50,27C56,16 47,10.50 35,10.50C21,10.50 11.50,18 11.50,29C11.50,41 22,45.5 35,50C49,54.5 58.50,59 58.50,71C58.50,82 49,89.50 35,89.50C22,89.50 13,84 10.50,72"/></g><g transform="translate(472.00,245.50) scale(0.4600,0.4550)"><path d="M10.50,0V100M10.50,44C10.50,22 26,10.50 41,10.50C58,10.50 69.50,22 69.50,44V100"/></g><g transform="translate(517.00,245.50) scale(0.4554,0.4550)"><circle cx="50" cy="50" r="39.50"/></g><g transform="translate(569.00,245.50) scale(0.4646,0.4550)"><circle cx="50" cy="50" r="39.50"/><path d="M89.50,-33.00V100.00"/></g><g transform="translate(623.00,245.50) scale(0.4600,0.4550)"><path d="M12.50,50H89.50A39.50,39.50 0 1 0 76.07,79.62"/></g></g><!--/WM-->
<!--LG--><g fill="none" stroke="#161616" stroke-width="20.00" opacity="1" ><g transform="translate(786.90,492.80) scale(0.1125,0.1150)"><circle cx="50" cy="50" r="40.00"/><path d="M90.00,0V104C90.00,124 74,130.00 50,130.00C33,130.00 20,123 14,112"/></g><g transform="translate(800.00,492.80) scale(0.1250,0.1150)"><path d="M10.00,-50.00V100.00"/></g><g transform="translate(805.00,492.80) scale(0.1187,0.1150)"><circle cx="50" cy="50" r="40.00"/><path d="M90.00,0.00V100.00"/></g><g transform="translate(818.80,492.80) scale(0.1437,0.1150)"><path d="M58.00,27C56,16 47,10.00 35,10.00C21,10.00 11.00,18 11.00,29C11.00,41 22,45.5 35,50C49,54.5 59.00,59 59.00,71C59.00,82 49,90.00 35,90.00C22,90.00 13,84 10.00,72"/></g><g transform="translate(830.00,492.80) scale(0.1437,0.1150)"><path d="M58.00,27C56,16 47,10.00 35,10.00C21,10.00 11.00,18 11.00,29C11.00,41 22,45.5 35,50C49,54.5 59.00,59 59.00,71C59.00,82 49,90.00 35,90.00C22,90.00 13,84 10.00,72"/></g><g transform="translate(841.90,492.80) scale(0.1175,0.1150)"><path d="M10.00,0V100M10.00,44C10.00,22 26,10.00 41,10.00C58,10.00 70.00,22 70.00,44V100"/></g><g transform="translate(853.20,492.80) scale(0.1250,0.1150)"><circle cx="50" cy="50" r="40.00"/></g><g transform="translate(867.50,492.80) scale(0.1187,0.1150)"><circle cx="50" cy="50" r="40.00"/><path d="M90.00,-50.00V100.00"/></g><g transform="translate(881.90,492.80) scale(0.1375,0.1150)"><path d="M12.00,50H90.00A40.00,40.00 0 1 0 76.40,80.00"/></g></g><!--/LG-->
</svg>
<div id="foot" class="t">© 2026 Glassnode. All Rights Reserved.</div>
</body></html>
